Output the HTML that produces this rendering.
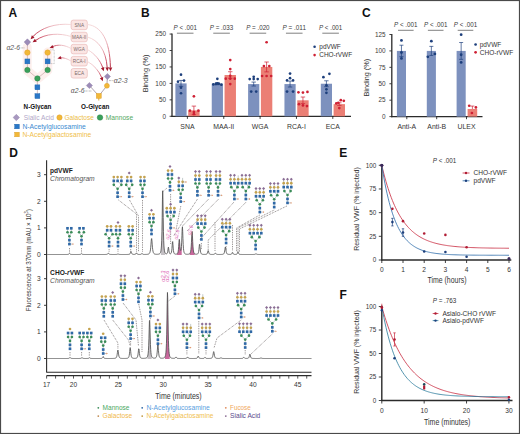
<!DOCTYPE html>
<html><head><meta charset="utf-8"><style>
html,body{margin:0;padding:0;background:#fff;overflow:hidden;}
svg{display:block;font-family:"Liberation Sans", sans-serif;}
</style></head><body>
<svg width="520" height="434" viewBox="0 0 520 434">
<rect x="0.00" y="0.00" width="520.00" height="434.00" fill="#ffffff"/>
<text x="8.60" y="17.00" font-size="12" fill="#111" text-anchor="start" font-weight="bold">A</text>
<path d="M27.2 47 L27.2 70.5 L37.4 79 L47.8 70.5 L47.8 52" stroke="#fdefed" stroke-width="9" fill="none" stroke-linejoin="round" stroke-linecap="round"/>
<line x1="27.40" y1="42.10" x2="27.40" y2="70.00" stroke="#c8a8a8" stroke-width="0.7"/>
<line x1="47.60" y1="52.60" x2="47.60" y2="70.00" stroke="#c8a8a8" stroke-width="0.7"/>
<line x1="27.40" y1="70.00" x2="37.40" y2="78.40" stroke="#c8a8a8" stroke-width="0.7"/>
<line x1="47.60" y1="70.00" x2="37.40" y2="78.40" stroke="#c8a8a8" stroke-width="0.7"/>
<line x1="37.40" y1="78.40" x2="37.40" y2="96.10" stroke="#c8a8a8" stroke-width="0.7"/>
<path d="M27.40 38.80L30.70 42.10L27.40 45.40L24.10 42.10Z" stroke="#8a7aa0" stroke-width="0.4" fill="#9c8cb8" />
<circle cx="27.40" cy="52.60" r="2.75" fill="#f2b838" stroke="#d89a28" stroke-width="0.4"/>
<circle cx="47.60" cy="52.60" r="2.75" fill="#f2b838" stroke="#d89a28" stroke-width="0.4"/>
<rect x="24.95" y="58.95" width="4.90" height="4.90" fill="#2a78c8" stroke="#1a60a8" stroke-width="0.4"/>
<rect x="45.15" y="58.95" width="4.90" height="4.90" fill="#2a78c8" stroke="#1a60a8" stroke-width="0.4"/>
<circle cx="27.40" cy="70.00" r="2.75" fill="#3aa05a" stroke="#2a8048" stroke-width="0.4"/>
<circle cx="47.60" cy="70.00" r="2.75" fill="#3aa05a" stroke="#2a8048" stroke-width="0.4"/>
<circle cx="37.40" cy="78.40" r="2.75" fill="#3aa05a" stroke="#2a8048" stroke-width="0.4"/>
<rect x="34.95" y="84.85" width="4.90" height="4.90" fill="#2a78c8" stroke="#1a60a8" stroke-width="0.4"/>
<rect x="34.95" y="93.65" width="4.90" height="4.90" fill="#2a78c8" stroke="#1a60a8" stroke-width="0.4"/>
<line x1="20.80" y1="47.90" x2="24.30" y2="47.90" stroke="#555" stroke-width="0.55" stroke-dasharray="0.7 0.7"/>
<text x="6.50" y="50.20" font-size="6.6" fill="#555" text-anchor="start" font-style="italic" textLength="13.6" lengthAdjust="spacingAndGlyphs">α2-6</text>
<path d="M50.6 49.8 L54.2 49.8 L54.2 63.6 L50.6 63.6" stroke="#777" stroke-width="0.5" fill="none" stroke-dasharray="0.7 0.7" />
<rect x="71.10" y="20.10" width="16.20" height="9.60" fill="#fbe6e4" stroke="#e6b0ae" stroke-width="0.6" rx="2.2"/>
<text x="79.20" y="26.60" font-size="4.7" fill="#7a6a6a" text-anchor="middle">SNA</text>
<rect x="71.10" y="32.20" width="16.20" height="9.60" fill="#fbe6e4" stroke="#e6b0ae" stroke-width="0.6" rx="2.2"/>
<text x="79.20" y="38.70" font-size="4.7" fill="#7a6a6a" text-anchor="middle">MAA-II</text>
<rect x="71.10" y="44.30" width="16.20" height="9.60" fill="#fbe6e4" stroke="#e6b0ae" stroke-width="0.6" rx="2.2"/>
<text x="79.20" y="50.80" font-size="4.7" fill="#7a6a6a" text-anchor="middle">WGA</text>
<rect x="71.10" y="56.40" width="16.20" height="9.60" fill="#fbe6e4" stroke="#e6b0ae" stroke-width="0.6" rx="2.2"/>
<text x="79.20" y="62.90" font-size="4.7" fill="#7a6a6a" text-anchor="middle">RCA-I</text>
<rect x="71.10" y="68.50" width="16.20" height="9.60" fill="#fbe6e4" stroke="#e6b0ae" stroke-width="0.6" rx="2.2"/>
<text x="79.20" y="75.00" font-size="4.7" fill="#7a6a6a" text-anchor="middle">ECA</text>
<linearGradient id="ga1" gradientUnits="userSpaceOnUse" x1="71" y1="24.5" x2="30.6" y2="39.3"><stop offset="0" stop-color="#f6dcdc"/><stop offset="0.45" stop-color="#eab2ba"/><stop offset="0.8" stop-color="#c84058"/><stop offset="1" stop-color="#a3182c"/></linearGradient>
<path d="M71 24.5 C55 23 41 28 33 36.5" stroke="url(#ga1)" stroke-width="0.95" fill="none" />
<path d="M30.60 39.30L31.88 35.29L34.51 37.75Z" stroke="none" stroke-width="1" fill="#a3182c" />
<linearGradient id="ga2" gradientUnits="userSpaceOnUse" x1="71" y1="36.5" x2="32.6" y2="42.3"><stop offset="0" stop-color="#f6dcdc"/><stop offset="0.45" stop-color="#eab2ba"/><stop offset="0.8" stop-color="#c84058"/><stop offset="1" stop-color="#a3182c"/></linearGradient>
<path d="M71 36.5 C60 33 46 33 35.5 40.5" stroke="url(#ga2)" stroke-width="0.95" fill="none" />
<path d="M32.60 42.30L34.87 38.76L36.78 41.81Z" stroke="none" stroke-width="1" fill="#a3182c" />
<linearGradient id="ga3" gradientUnits="userSpaceOnUse" x1="71" y1="48.5" x2="49.6" y2="48.0"><stop offset="0" stop-color="#f6dcdc"/><stop offset="0.45" stop-color="#eab2ba"/><stop offset="0.8" stop-color="#c84058"/><stop offset="1" stop-color="#a3182c"/></linearGradient>
<path d="M71 48.5 C65 45 58 44 52.3 46.8" stroke="url(#ga3)" stroke-width="0.95" fill="none" />
<path d="M49.60 48.00L52.45 44.91L53.80 48.25Z" stroke="none" stroke-width="1" fill="#a3182c" />
<linearGradient id="ga4" gradientUnits="userSpaceOnUse" x1="71" y1="61" x2="57.4" y2="58.6"><stop offset="0" stop-color="#f6dcdc"/><stop offset="0.45" stop-color="#eab2ba"/><stop offset="0.8" stop-color="#c84058"/><stop offset="1" stop-color="#a3182c"/></linearGradient>
<path d="M71 61 C67 58.5 63 57.5 60.5 57.8" stroke="url(#ga4)" stroke-width="0.95" fill="none" />
<path d="M57.40 58.60L60.60 55.88L61.54 59.36Z" stroke="none" stroke-width="1" fill="#a3182c" />
<linearGradient id="ga5" gradientUnits="userSpaceOnUse" x1="87.5" y1="24.5" x2="110.5" y2="71.2"><stop offset="0" stop-color="#f6dcdc"/><stop offset="0.45" stop-color="#eab2ba"/><stop offset="0.8" stop-color="#c84058"/><stop offset="1" stop-color="#a3182c"/></linearGradient>
<path d="M87.5 24.5 C101 26 110 40 110.4 67.5" stroke="url(#ga5)" stroke-width="0.95" fill="none" />
<path d="M110.50 71.20L108.70 67.40L112.30 67.40Z" stroke="none" stroke-width="1" fill="#a3182c" />
<linearGradient id="ga6" gradientUnits="userSpaceOnUse" x1="87.5" y1="37" x2="107.4" y2="71.2"><stop offset="0" stop-color="#f6dcdc"/><stop offset="0.45" stop-color="#eab2ba"/><stop offset="0.8" stop-color="#c84058"/><stop offset="1" stop-color="#a3182c"/></linearGradient>
<path d="M87.5 37 C98 40 106 50 107.2 67.5" stroke="url(#ga6)" stroke-width="0.95" fill="none" />
<path d="M107.40 71.20L105.40 67.50L109.00 67.31Z" stroke="none" stroke-width="1" fill="#a3182c" />
<linearGradient id="ga7" gradientUnits="userSpaceOnUse" x1="87.5" y1="49.5" x2="103.8" y2="71.2"><stop offset="0" stop-color="#f6dcdc"/><stop offset="0.45" stop-color="#eab2ba"/><stop offset="0.8" stop-color="#c84058"/><stop offset="1" stop-color="#a3182c"/></linearGradient>
<path d="M87.5 49.5 C95 54 100 60 102.8 67.8" stroke="url(#ga7)" stroke-width="0.95" fill="none" />
<path d="M103.80 71.20L100.91 68.14L104.34 67.03Z" stroke="none" stroke-width="1" fill="#a3182c" />
<linearGradient id="ga8" gradientUnits="userSpaceOnUse" x1="87.5" y1="61.5" x2="102.8" y2="81.2"><stop offset="0" stop-color="#f6dcdc"/><stop offset="0.45" stop-color="#eab2ba"/><stop offset="0.8" stop-color="#c84058"/><stop offset="1" stop-color="#a3182c"/></linearGradient>
<path d="M87.5 61.5 C94 65 99 71 101.8 77.8" stroke="url(#ga8)" stroke-width="0.95" fill="none" />
<path d="M102.80 81.20L99.81 78.24L103.19 77.01Z" stroke="none" stroke-width="1" fill="#a3182c" />
<line x1="107.40" y1="76.50" x2="106.90" y2="85.80" stroke="#8a7a8a" stroke-width="0.7"/>
<line x1="106.90" y1="85.80" x2="98.80" y2="95.90" stroke="#8a7a8a" stroke-width="0.7"/>
<line x1="89.40" y1="85.50" x2="98.80" y2="95.90" stroke="#8a7a8a" stroke-width="0.7"/>
<line x1="98.80" y1="95.90" x2="98.80" y2="100.50" stroke="#d8a020" stroke-width="0.9"/>
<path d="M107.40 73.40L110.50 76.50L107.40 79.60L104.30 76.50Z" stroke="#8a7aa0" stroke-width="0.4" fill="#9c8cb8" />
<circle cx="106.90" cy="85.80" r="2.5" fill="#f2b838" stroke="#d89a28" stroke-width="0.4"/>
<path d="M89.40 82.40L92.50 85.50L89.40 88.60L86.30 85.50Z" stroke="#8a7aa0" stroke-width="0.4" fill="#9c8cb8" />
<rect x="96.30" y="93.40" width="5.00" height="5.00" fill="#f2b838" stroke="#d89a28" stroke-width="0.4"/>
<line x1="109.00" y1="80.60" x2="113.50" y2="80.60" stroke="#555" stroke-width="0.55" stroke-dasharray="0.7 0.7"/>
<line x1="84.80" y1="91.00" x2="92.00" y2="91.00" stroke="#555" stroke-width="0.55" stroke-dasharray="0.7 0.7"/>
<text x="113.80" y="83.00" font-size="6.6" fill="#555" text-anchor="start" font-style="italic" textLength="13.8" lengthAdjust="spacingAndGlyphs">α2-3</text>
<text x="70.80" y="93.40" font-size="6.6" fill="#555" text-anchor="start" font-style="italic" textLength="13.7" lengthAdjust="spacingAndGlyphs">α2-6</text>
<text x="23.60" y="109.00" font-size="7.4" fill="#111" text-anchor="start" font-weight="bold" textLength="27.8" lengthAdjust="spacingAndGlyphs">N-Glycan</text>
<text x="81.10" y="109.00" font-size="7.4" fill="#111" text-anchor="start" font-weight="bold" textLength="28.2" lengthAdjust="spacingAndGlyphs">O-Glycan</text>
<path d="M16.30 114.30L19.50 117.50L16.30 120.70L13.10 117.50Z" stroke="#9080a8" stroke-width="0.4" fill="#a898c0" />
<text x="23.80" y="119.60" font-size="6.7" fill="#b2a8c8" text-anchor="start" textLength="30" lengthAdjust="spacingAndGlyphs">Sialic Acid</text>
<circle cx="59.50" cy="117.50" r="2.7" fill="#f2b838" stroke="#d89a28" stroke-width="0.4"/>
<text x="64.50" y="119.60" font-size="6.7" fill="#ecbc48" text-anchor="start" textLength="29.3" lengthAdjust="spacingAndGlyphs">Galactose</text>
<circle cx="100.00" cy="117.50" r="2.8" fill="#3aa05a" stroke="#2a8048" stroke-width="0.4"/>
<text x="105.80" y="119.60" font-size="6.7" fill="#52a862" text-anchor="start" textLength="27.3" lengthAdjust="spacingAndGlyphs">Mannose</text>
<rect x="14.70" y="124.20" width="4.60" height="4.60" fill="#2a78c8" stroke="#1a60a8" stroke-width="0.4"/>
<text x="22.50" y="128.80" font-size="6.7" fill="#3a8ad0" text-anchor="start" textLength="63.3" lengthAdjust="spacingAndGlyphs">N-Acetylglucosamine</text>
<rect x="14.70" y="132.20" width="4.60" height="4.60" fill="#f2b838" stroke="#d89a28" stroke-width="0.4"/>
<text x="22.50" y="136.80" font-size="6.7" fill="#f0c04a" text-anchor="start" textLength="68.8" lengthAdjust="spacingAndGlyphs">N-Acetylgalactosamine</text>
<text x="140.90" y="17.00" font-size="12" fill="#111" text-anchor="start" font-weight="bold">B</text>
<line x1="172.00" y1="33.45" x2="172.00" y2="116.90" stroke="#2b2b2b" stroke-width="1.3"/>
<line x1="169.60" y1="116.30" x2="172.00" y2="116.30" stroke="#2b2b2b" stroke-width="0.9"/>
<text x="166.00" y="118.50" font-size="6.4" fill="#3a3a3a" text-anchor="end">0</text>
<line x1="169.60" y1="99.85" x2="172.00" y2="99.85" stroke="#2b2b2b" stroke-width="0.9"/>
<text x="166.00" y="102.05" font-size="6.4" fill="#3a3a3a" text-anchor="end">50</text>
<line x1="169.60" y1="83.40" x2="172.00" y2="83.40" stroke="#2b2b2b" stroke-width="0.9"/>
<text x="166.00" y="85.60" font-size="6.4" fill="#3a3a3a" text-anchor="end">100</text>
<line x1="169.60" y1="66.95" x2="172.00" y2="66.95" stroke="#2b2b2b" stroke-width="0.9"/>
<text x="166.00" y="69.15" font-size="6.4" fill="#3a3a3a" text-anchor="end">150</text>
<line x1="169.60" y1="50.50" x2="172.00" y2="50.50" stroke="#2b2b2b" stroke-width="0.9"/>
<text x="166.00" y="52.70" font-size="6.4" fill="#3a3a3a" text-anchor="end">200</text>
<line x1="169.60" y1="34.05" x2="172.00" y2="34.05" stroke="#2b2b2b" stroke-width="0.9"/>
<text x="166.00" y="36.25" font-size="6.4" fill="#3a3a3a" text-anchor="end">250</text>
<text x="148.30" y="73.50" font-size="7.2" fill="#333" text-anchor="middle" textLength="37.7" lengthAdjust="spacingAndGlyphs" transform="rotate(-90 148.30 73.50)">Binding (%)</text>
<line x1="171.40" y1="116.30" x2="351.00" y2="116.30" stroke="#2b2b2b" stroke-width="1.3"/>
<rect x="175.40" y="83.40" width="11.20" height="32.90" fill="#7d91be"/>
<rect x="188.20" y="110.38" width="11.40" height="5.92" fill="#eb7f75"/>
<line x1="181.00" y1="80.44" x2="181.00" y2="86.36" stroke="#1d3f7c" stroke-width="0.7"/>
<line x1="178.80" y1="80.44" x2="183.20" y2="80.44" stroke="#1d3f7c" stroke-width="0.7"/>
<line x1="178.80" y1="86.36" x2="183.20" y2="86.36" stroke="#1d3f7c" stroke-width="0.7"/>
<line x1="193.90" y1="106.10" x2="193.90" y2="114.66" stroke="#cf2034" stroke-width="0.7"/>
<line x1="191.70" y1="106.10" x2="196.10" y2="106.10" stroke="#cf2034" stroke-width="0.7"/>
<line x1="191.70" y1="114.66" x2="196.10" y2="114.66" stroke="#cf2034" stroke-width="0.7"/>
<circle cx="181.00" cy="74.71" r="1.35" fill="#1d3f7c"/>
<circle cx="178.00" cy="81.69" r="1.35" fill="#1d3f7c"/>
<circle cx="184.00" cy="80.60" r="1.35" fill="#1d3f7c"/>
<circle cx="181.00" cy="87.68" r="1.35" fill="#1d3f7c"/>
<circle cx="181.00" cy="93.27" r="1.35" fill="#1d3f7c"/>
<circle cx="193.90" cy="96.30" r="1.35" fill="#cf2034"/>
<circle cx="189.90" cy="110.71" r="1.35" fill="#cf2034"/>
<circle cx="193.90" cy="112.09" r="1.35" fill="#cf2034"/>
<circle cx="198.40" cy="110.71" r="1.35" fill="#cf2034"/>
<circle cx="193.90" cy="114.10" r="1.35" fill="#cf2034"/>
<line x1="187.40" y1="116.30" x2="187.40" y2="118.90" stroke="#2b2b2b" stroke-width="0.9"/>
<text x="187.40" y="128.80" font-size="6.9" fill="#333" text-anchor="middle">SNA</text>
<line x1="176.90" y1="33.20" x2="193.50" y2="33.20" stroke="#555" stroke-width="0.75"/>
<text x="185.20" y="29.6" font-size="6.4" fill="#3a3a3a" text-anchor="middle" textLength="23.4" lengthAdjust="spacingAndGlyphs"><tspan font-style="italic">P</tspan> &lt; .001</text>
<rect x="211.75" y="83.73" width="11.20" height="32.57" fill="#7d91be"/>
<rect x="224.55" y="75.01" width="11.40" height="41.29" fill="#eb7f75"/>
<line x1="217.35" y1="82.74" x2="217.35" y2="84.72" stroke="#1d3f7c" stroke-width="0.7"/>
<line x1="215.15" y1="82.74" x2="219.55" y2="82.74" stroke="#1d3f7c" stroke-width="0.7"/>
<line x1="215.15" y1="84.72" x2="219.55" y2="84.72" stroke="#1d3f7c" stroke-width="0.7"/>
<line x1="230.25" y1="71.72" x2="230.25" y2="78.30" stroke="#cf2034" stroke-width="0.7"/>
<line x1="228.05" y1="71.72" x2="232.45" y2="71.72" stroke="#cf2034" stroke-width="0.7"/>
<line x1="228.05" y1="78.30" x2="232.45" y2="78.30" stroke="#cf2034" stroke-width="0.7"/>
<circle cx="217.35" cy="78.79" r="1.35" fill="#1d3f7c"/>
<circle cx="213.35" cy="84.39" r="1.35" fill="#1d3f7c"/>
<circle cx="215.85" cy="83.89" r="1.35" fill="#1d3f7c"/>
<circle cx="218.85" cy="83.73" r="1.35" fill="#1d3f7c"/>
<circle cx="221.35" cy="84.72" r="1.35" fill="#1d3f7c"/>
<circle cx="217.35" cy="83.40" r="1.35" fill="#1d3f7c"/>
<circle cx="230.25" cy="60.04" r="1.35" fill="#cf2034"/>
<circle cx="230.25" cy="69.09" r="1.35" fill="#cf2034"/>
<circle cx="230.25" cy="75.83" r="1.35" fill="#cf2034"/>
<circle cx="225.75" cy="78.70" r="1.35" fill="#cf2034"/>
<circle cx="230.25" cy="78.70" r="1.35" fill="#cf2034"/>
<circle cx="234.75" cy="78.70" r="1.35" fill="#cf2034"/>
<circle cx="230.25" cy="84.06" r="1.35" fill="#cf2034"/>
<line x1="223.75" y1="116.30" x2="223.75" y2="118.90" stroke="#2b2b2b" stroke-width="0.9"/>
<text x="223.75" y="128.80" font-size="6.9" fill="#333" text-anchor="middle">MAA-II</text>
<line x1="213.25" y1="33.20" x2="229.85" y2="33.20" stroke="#555" stroke-width="0.75"/>
<text x="221.55" y="29.6" font-size="6.4" fill="#3a3a3a" text-anchor="middle" textLength="23.4" lengthAdjust="spacingAndGlyphs"><tspan font-style="italic">P</tspan> = .033</text>
<rect x="248.10" y="84.06" width="11.20" height="32.24" fill="#7d91be"/>
<rect x="260.90" y="66.95" width="11.40" height="49.35" fill="#eb7f75"/>
<line x1="253.70" y1="82.08" x2="253.70" y2="86.03" stroke="#1d3f7c" stroke-width="0.7"/>
<line x1="251.50" y1="82.08" x2="255.90" y2="82.08" stroke="#1d3f7c" stroke-width="0.7"/>
<line x1="251.50" y1="86.03" x2="255.90" y2="86.03" stroke="#1d3f7c" stroke-width="0.7"/>
<line x1="266.60" y1="62.01" x2="266.60" y2="71.88" stroke="#cf2034" stroke-width="0.7"/>
<line x1="264.40" y1="62.01" x2="268.80" y2="62.01" stroke="#cf2034" stroke-width="0.7"/>
<line x1="264.40" y1="71.88" x2="268.80" y2="71.88" stroke="#cf2034" stroke-width="0.7"/>
<circle cx="253.70" cy="76.82" r="1.35" fill="#1d3f7c"/>
<circle cx="249.70" cy="79.12" r="1.35" fill="#1d3f7c"/>
<circle cx="253.70" cy="79.12" r="1.35" fill="#1d3f7c"/>
<circle cx="257.70" cy="79.12" r="1.35" fill="#1d3f7c"/>
<circle cx="251.20" cy="91.62" r="1.35" fill="#1d3f7c"/>
<circle cx="256.20" cy="91.62" r="1.35" fill="#1d3f7c"/>
<circle cx="266.60" cy="42.27" r="1.35" fill="#cf2034"/>
<circle cx="263.90" cy="66.09" r="1.35" fill="#cf2034"/>
<circle cx="269.30" cy="66.09" r="1.35" fill="#cf2034"/>
<circle cx="262.10" cy="76.00" r="1.35" fill="#cf2034"/>
<circle cx="266.60" cy="76.00" r="1.35" fill="#cf2034"/>
<circle cx="271.10" cy="76.00" r="1.35" fill="#cf2034"/>
<line x1="260.10" y1="116.30" x2="260.10" y2="118.90" stroke="#2b2b2b" stroke-width="0.9"/>
<text x="260.10" y="128.80" font-size="6.9" fill="#333" text-anchor="middle">WGA</text>
<line x1="249.60" y1="33.20" x2="266.20" y2="33.20" stroke="#555" stroke-width="0.75"/>
<text x="257.90" y="29.6" font-size="6.4" fill="#3a3a3a" text-anchor="middle" textLength="23.4" lengthAdjust="spacingAndGlyphs"><tspan font-style="italic">P</tspan> = .020</text>
<rect x="284.45" y="84.06" width="11.20" height="32.24" fill="#7d91be"/>
<rect x="297.25" y="100.31" width="11.40" height="15.99" fill="#eb7f75"/>
<line x1="290.05" y1="81.10" x2="290.05" y2="87.02" stroke="#1d3f7c" stroke-width="0.7"/>
<line x1="287.85" y1="81.10" x2="292.25" y2="81.10" stroke="#1d3f7c" stroke-width="0.7"/>
<line x1="287.85" y1="87.02" x2="292.25" y2="87.02" stroke="#1d3f7c" stroke-width="0.7"/>
<line x1="302.95" y1="97.02" x2="302.95" y2="103.60" stroke="#cf2034" stroke-width="0.7"/>
<line x1="300.75" y1="97.02" x2="305.15" y2="97.02" stroke="#cf2034" stroke-width="0.7"/>
<line x1="300.75" y1="103.60" x2="305.15" y2="103.60" stroke="#cf2034" stroke-width="0.7"/>
<circle cx="290.05" cy="73.53" r="1.35" fill="#1d3f7c"/>
<circle cx="290.05" cy="78.14" r="1.35" fill="#1d3f7c"/>
<circle cx="287.05" cy="80.44" r="1.35" fill="#1d3f7c"/>
<circle cx="293.05" cy="80.44" r="1.35" fill="#1d3f7c"/>
<circle cx="287.05" cy="91.62" r="1.35" fill="#1d3f7c"/>
<circle cx="293.05" cy="91.62" r="1.35" fill="#1d3f7c"/>
<circle cx="298.45" cy="92.28" r="1.35" fill="#cf2034"/>
<circle cx="302.95" cy="92.61" r="1.35" fill="#cf2034"/>
<circle cx="307.45" cy="91.95" r="1.35" fill="#cf2034"/>
<circle cx="298.95" cy="104.13" r="1.35" fill="#cf2034"/>
<circle cx="302.95" cy="105.44" r="1.35" fill="#cf2034"/>
<circle cx="306.95" cy="106.10" r="1.35" fill="#cf2034"/>
<line x1="296.45" y1="116.30" x2="296.45" y2="118.90" stroke="#2b2b2b" stroke-width="0.9"/>
<text x="296.45" y="128.80" font-size="6.9" fill="#333" text-anchor="middle">RCA-I</text>
<line x1="285.95" y1="33.20" x2="302.55" y2="33.20" stroke="#555" stroke-width="0.75"/>
<text x="294.25" y="29.6" font-size="6.4" fill="#3a3a3a" text-anchor="middle" textLength="23.4" lengthAdjust="spacingAndGlyphs"><tspan font-style="italic">P</tspan> = .011</text>
<rect x="320.80" y="83.73" width="11.20" height="32.57" fill="#7d91be"/>
<rect x="333.60" y="104.13" width="11.40" height="12.17" fill="#eb7f75"/>
<line x1="326.40" y1="80.77" x2="326.40" y2="86.69" stroke="#1d3f7c" stroke-width="0.7"/>
<line x1="324.20" y1="80.77" x2="328.60" y2="80.77" stroke="#1d3f7c" stroke-width="0.7"/>
<line x1="324.20" y1="86.69" x2="328.60" y2="86.69" stroke="#1d3f7c" stroke-width="0.7"/>
<line x1="339.30" y1="102.81" x2="339.30" y2="105.44" stroke="#cf2034" stroke-width="0.7"/>
<line x1="337.10" y1="102.81" x2="341.50" y2="102.81" stroke="#cf2034" stroke-width="0.7"/>
<line x1="337.10" y1="105.44" x2="341.50" y2="105.44" stroke="#cf2034" stroke-width="0.7"/>
<circle cx="323.40" cy="77.15" r="1.35" fill="#1d3f7c"/>
<circle cx="329.40" cy="73.86" r="1.35" fill="#1d3f7c"/>
<circle cx="326.40" cy="85.37" r="1.35" fill="#1d3f7c"/>
<circle cx="326.40" cy="89.32" r="1.35" fill="#1d3f7c"/>
<circle cx="326.40" cy="92.78" r="1.35" fill="#1d3f7c"/>
<circle cx="340.80" cy="100.18" r="1.35" fill="#cf2034"/>
<circle cx="343.80" cy="100.84" r="1.35" fill="#cf2034"/>
<circle cx="338.30" cy="102.81" r="1.35" fill="#cf2034"/>
<circle cx="336.30" cy="103.47" r="1.35" fill="#cf2034"/>
<circle cx="339.30" cy="108.08" r="1.35" fill="#cf2034"/>
<line x1="332.80" y1="116.30" x2="332.80" y2="118.90" stroke="#2b2b2b" stroke-width="0.9"/>
<text x="332.80" y="128.80" font-size="6.9" fill="#333" text-anchor="middle">ECA</text>
<line x1="322.30" y1="33.20" x2="338.90" y2="33.20" stroke="#555" stroke-width="0.75"/>
<text x="330.60" y="29.6" font-size="6.4" fill="#3a3a3a" text-anchor="middle" textLength="23.4" lengthAdjust="spacingAndGlyphs"><tspan font-style="italic">P</tspan> &lt; .001</text>
<circle cx="314.60" cy="46.80" r="1.3" fill="#1d3f7c"/>
<text x="319.30" y="49.10" font-size="6.6" fill="#333" text-anchor="start" textLength="21.5" lengthAdjust="spacingAndGlyphs">pdVWF</text>
<circle cx="314.60" cy="55.10" r="1.3" fill="#cf2034"/>
<text x="319.30" y="57.40" font-size="6.6" fill="#333" text-anchor="start" textLength="32.8" lengthAdjust="spacingAndGlyphs">CHO-rVWF</text>
<text x="361.90" y="17.00" font-size="12" fill="#111" text-anchor="start" font-weight="bold">C</text>
<line x1="391.80" y1="33.90" x2="391.80" y2="117.20" stroke="#2b2b2b" stroke-width="1.3"/>
<line x1="389.40" y1="116.60" x2="391.80" y2="116.60" stroke="#2b2b2b" stroke-width="0.9"/>
<text x="385.60" y="118.80" font-size="6.4" fill="#3a3a3a" text-anchor="end">0</text>
<line x1="389.40" y1="100.18" x2="391.80" y2="100.18" stroke="#2b2b2b" stroke-width="0.9"/>
<text x="385.60" y="102.38" font-size="6.4" fill="#3a3a3a" text-anchor="end">25</text>
<line x1="389.40" y1="83.76" x2="391.80" y2="83.76" stroke="#2b2b2b" stroke-width="0.9"/>
<text x="385.60" y="85.96" font-size="6.4" fill="#3a3a3a" text-anchor="end">50</text>
<line x1="389.40" y1="67.34" x2="391.80" y2="67.34" stroke="#2b2b2b" stroke-width="0.9"/>
<text x="385.60" y="69.54" font-size="6.4" fill="#3a3a3a" text-anchor="end">75</text>
<line x1="389.40" y1="50.92" x2="391.80" y2="50.92" stroke="#2b2b2b" stroke-width="0.9"/>
<text x="385.60" y="53.12" font-size="6.4" fill="#3a3a3a" text-anchor="end">100</text>
<line x1="389.40" y1="34.50" x2="391.80" y2="34.50" stroke="#2b2b2b" stroke-width="0.9"/>
<text x="385.60" y="36.70" font-size="6.4" fill="#3a3a3a" text-anchor="end">125</text>
<text x="369.30" y="77.70" font-size="7.2" fill="#333" text-anchor="middle" textLength="37.7" lengthAdjust="spacingAndGlyphs" transform="rotate(-90 369.30 77.70)">Binding (%)</text>
<line x1="391.20" y1="116.60" x2="482.50" y2="116.60" stroke="#2b2b2b" stroke-width="1.3"/>
<rect x="396.90" y="50.92" width="9.10" height="65.68" fill="#7d91be"/>
<line x1="401.45" y1="45.21" x2="401.45" y2="56.63" stroke="#1d3f7c" stroke-width="0.7"/>
<line x1="399.45" y1="45.21" x2="403.45" y2="45.21" stroke="#1d3f7c" stroke-width="0.7"/>
<line x1="399.45" y1="56.63" x2="403.45" y2="56.63" stroke="#1d3f7c" stroke-width="0.7"/>
<circle cx="401.45" cy="40.41" r="1.4" fill="#1d3f7c"/>
<circle cx="401.45" cy="52.50" r="1.4" fill="#1d3f7c"/>
<circle cx="401.45" cy="58.47" r="1.4" fill="#1d3f7c"/>
<line x1="406.80" y1="116.60" x2="406.80" y2="119.20" stroke="#2b2b2b" stroke-width="0.9"/>
<text x="406.80" y="129.10" font-size="6.9" fill="#333" text-anchor="middle">Anti-A</text>
<line x1="398.00" y1="30.30" x2="413.60" y2="30.30" stroke="#555" stroke-width="0.75"/>
<text x="405.80" y="27.1" font-size="6.8" fill="#3a3a3a" text-anchor="middle" textLength="23.4" lengthAdjust="spacingAndGlyphs"><tspan font-style="italic">P</tspan> &lt; .001</text>
<rect x="426.80" y="50.92" width="9.10" height="65.68" fill="#7d91be"/>
<line x1="431.35" y1="46.39" x2="431.35" y2="55.45" stroke="#1d3f7c" stroke-width="0.7"/>
<line x1="429.35" y1="46.39" x2="433.35" y2="46.39" stroke="#1d3f7c" stroke-width="0.7"/>
<line x1="429.35" y1="55.45" x2="433.35" y2="55.45" stroke="#1d3f7c" stroke-width="0.7"/>
<circle cx="431.35" cy="41.20" r="1.4" fill="#1d3f7c"/>
<circle cx="427.85" cy="56.83" r="1.4" fill="#1d3f7c"/>
<circle cx="434.85" cy="53.88" r="1.4" fill="#1d3f7c"/>
<line x1="436.70" y1="116.60" x2="436.70" y2="119.20" stroke="#2b2b2b" stroke-width="0.9"/>
<text x="436.70" y="129.10" font-size="6.9" fill="#333" text-anchor="middle">Anti-B</text>
<line x1="427.90" y1="30.30" x2="443.50" y2="30.30" stroke="#555" stroke-width="0.75"/>
<text x="435.70" y="27.1" font-size="6.8" fill="#3a3a3a" text-anchor="middle" textLength="23.4" lengthAdjust="spacingAndGlyphs"><tspan font-style="italic">P</tspan> &lt; .001</text>
<rect x="456.60" y="50.92" width="9.10" height="65.68" fill="#7d91be"/>
<line x1="461.15" y1="42.51" x2="461.15" y2="59.33" stroke="#1d3f7c" stroke-width="0.7"/>
<line x1="459.15" y1="42.51" x2="463.15" y2="42.51" stroke="#1d3f7c" stroke-width="0.7"/>
<line x1="459.15" y1="59.33" x2="463.15" y2="59.33" stroke="#1d3f7c" stroke-width="0.7"/>
<circle cx="461.15" cy="34.70" r="1.4" fill="#1d3f7c"/>
<circle cx="461.15" cy="54.73" r="1.4" fill="#1d3f7c"/>
<circle cx="461.15" cy="62.41" r="1.4" fill="#1d3f7c"/>
<line x1="466.50" y1="116.60" x2="466.50" y2="119.20" stroke="#2b2b2b" stroke-width="0.9"/>
<text x="466.50" y="129.10" font-size="6.9" fill="#333" text-anchor="middle">ULEX</text>
<line x1="457.70" y1="30.30" x2="473.30" y2="30.30" stroke="#555" stroke-width="0.75"/>
<text x="465.50" y="27.1" font-size="6.8" fill="#3a3a3a" text-anchor="middle" textLength="23.4" lengthAdjust="spacingAndGlyphs"><tspan font-style="italic">P</tspan> &lt; .001</text>
<rect x="467.60" y="108.98" width="9.60" height="7.62" fill="#eb7f75"/>
<line x1="472.40" y1="106.09" x2="472.40" y2="108.98" stroke="#cf2034" stroke-width="0.7"/>
<line x1="470.40" y1="106.09" x2="474.40" y2="106.09" stroke="#cf2034" stroke-width="0.7"/>
<circle cx="469.20" cy="105.76" r="1.35" fill="#cf2034"/>
<circle cx="475.90" cy="107.40" r="1.35" fill="#cf2034"/>
<circle cx="471.90" cy="112.99" r="1.35" fill="#cf2034"/>
<circle cx="475.60" cy="44.50" r="1.35" fill="#1d3f7c"/>
<text x="479.70" y="46.80" font-size="6.6" fill="#333" text-anchor="start" textLength="21.5" lengthAdjust="spacingAndGlyphs">pdVWF</text>
<circle cx="475.60" cy="52.30" r="1.35" fill="#cf2034"/>
<text x="479.70" y="54.60" font-size="6.6" fill="#333" text-anchor="start" textLength="33.5" lengthAdjust="spacingAndGlyphs">CHO-rVWF</text>
<text x="9.20" y="157.00" font-size="12" fill="#111" text-anchor="start" font-weight="bold">D</text>
<line x1="46.60" y1="160.30" x2="46.60" y2="372.60" stroke="#2b2b2b" stroke-width="1.1"/>
<line x1="46.60" y1="372.20" x2="311.50" y2="372.20" stroke="#2b2b2b" stroke-width="1.1"/>
<line x1="46.60" y1="375.60" x2="311.50" y2="375.60" stroke="#2b2b2b" stroke-width="1.1"/>
<line x1="46.60" y1="375.60" x2="46.60" y2="378.60" stroke="#2b2b2b" stroke-width="0.8"/>
<line x1="55.57" y1="375.60" x2="55.57" y2="378.60" stroke="#2b2b2b" stroke-width="0.8"/>
<line x1="64.54" y1="375.60" x2="64.54" y2="378.60" stroke="#2b2b2b" stroke-width="0.8"/>
<line x1="73.51" y1="375.60" x2="73.51" y2="378.60" stroke="#2b2b2b" stroke-width="0.8"/>
<line x1="82.48" y1="375.60" x2="82.48" y2="378.60" stroke="#2b2b2b" stroke-width="0.8"/>
<line x1="91.45" y1="375.60" x2="91.45" y2="378.60" stroke="#2b2b2b" stroke-width="0.8"/>
<line x1="100.42" y1="375.60" x2="100.42" y2="378.60" stroke="#2b2b2b" stroke-width="0.8"/>
<line x1="109.39" y1="375.60" x2="109.39" y2="378.60" stroke="#2b2b2b" stroke-width="0.8"/>
<line x1="118.36" y1="375.60" x2="118.36" y2="378.60" stroke="#2b2b2b" stroke-width="0.8"/>
<line x1="127.33" y1="375.60" x2="127.33" y2="378.60" stroke="#2b2b2b" stroke-width="0.8"/>
<line x1="136.30" y1="375.60" x2="136.30" y2="378.60" stroke="#2b2b2b" stroke-width="0.8"/>
<line x1="145.27" y1="375.60" x2="145.27" y2="378.60" stroke="#2b2b2b" stroke-width="0.8"/>
<line x1="154.24" y1="375.60" x2="154.24" y2="378.60" stroke="#2b2b2b" stroke-width="0.8"/>
<line x1="163.21" y1="375.60" x2="163.21" y2="378.60" stroke="#2b2b2b" stroke-width="0.8"/>
<line x1="172.18" y1="375.60" x2="172.18" y2="378.60" stroke="#2b2b2b" stroke-width="0.8"/>
<line x1="181.15" y1="375.60" x2="181.15" y2="378.60" stroke="#2b2b2b" stroke-width="0.8"/>
<line x1="190.12" y1="375.60" x2="190.12" y2="378.60" stroke="#2b2b2b" stroke-width="0.8"/>
<line x1="199.09" y1="375.60" x2="199.09" y2="378.60" stroke="#2b2b2b" stroke-width="0.8"/>
<line x1="208.06" y1="375.60" x2="208.06" y2="378.60" stroke="#2b2b2b" stroke-width="0.8"/>
<line x1="217.03" y1="375.60" x2="217.03" y2="378.60" stroke="#2b2b2b" stroke-width="0.8"/>
<line x1="226.00" y1="375.60" x2="226.00" y2="378.60" stroke="#2b2b2b" stroke-width="0.8"/>
<line x1="234.97" y1="375.60" x2="234.97" y2="378.60" stroke="#2b2b2b" stroke-width="0.8"/>
<line x1="243.94" y1="375.60" x2="243.94" y2="378.60" stroke="#2b2b2b" stroke-width="0.8"/>
<line x1="252.91" y1="375.60" x2="252.91" y2="378.60" stroke="#2b2b2b" stroke-width="0.8"/>
<line x1="261.88" y1="375.60" x2="261.88" y2="378.60" stroke="#2b2b2b" stroke-width="0.8"/>
<line x1="270.85" y1="375.60" x2="270.85" y2="378.60" stroke="#2b2b2b" stroke-width="0.8"/>
<line x1="279.82" y1="375.60" x2="279.82" y2="378.60" stroke="#2b2b2b" stroke-width="0.8"/>
<line x1="288.79" y1="375.60" x2="288.79" y2="378.60" stroke="#2b2b2b" stroke-width="0.8"/>
<line x1="297.76" y1="375.60" x2="297.76" y2="378.60" stroke="#2b2b2b" stroke-width="0.8"/>
<line x1="306.73" y1="375.60" x2="306.73" y2="378.60" stroke="#2b2b2b" stroke-width="0.8"/>
<text x="46.60" y="387.00" font-size="6.6" fill="#333" text-anchor="middle">17</text>
<text x="73.51" y="387.00" font-size="6.6" fill="#333" text-anchor="middle">20</text>
<text x="118.36" y="387.00" font-size="6.6" fill="#333" text-anchor="middle">25</text>
<text x="163.21" y="387.00" font-size="6.6" fill="#333" text-anchor="middle">30</text>
<text x="208.06" y="387.00" font-size="6.6" fill="#333" text-anchor="middle">35</text>
<text x="252.91" y="387.00" font-size="6.6" fill="#333" text-anchor="middle">40</text>
<text x="297.76" y="387.00" font-size="6.6" fill="#333" text-anchor="middle">45</text>
<text x="178.50" y="399.20" font-size="8.6" fill="#333" text-anchor="middle" textLength="46.3" lengthAdjust="spacingAndGlyphs">Time (minutes)</text>
<line x1="44.00" y1="254.50" x2="46.60" y2="254.50" stroke="#2b2b2b" stroke-width="0.9"/>
<text x="38.80" y="256.90" font-size="6.6" fill="#333" text-anchor="middle">0</text>
<line x1="44.00" y1="358.50" x2="46.60" y2="358.50" stroke="#2b2b2b" stroke-width="0.9"/>
<text x="38.80" y="360.90" font-size="6.6" fill="#333" text-anchor="middle">0</text>
<line x1="44.00" y1="227.90" x2="46.60" y2="227.90" stroke="#2b2b2b" stroke-width="0.9"/>
<text x="38.80" y="230.30" font-size="6.6" fill="#333" text-anchor="middle">1</text>
<line x1="44.00" y1="331.90" x2="46.60" y2="331.90" stroke="#2b2b2b" stroke-width="0.9"/>
<text x="38.80" y="334.30" font-size="6.6" fill="#333" text-anchor="middle">1</text>
<line x1="44.00" y1="201.30" x2="46.60" y2="201.30" stroke="#2b2b2b" stroke-width="0.9"/>
<text x="38.80" y="203.70" font-size="6.6" fill="#333" text-anchor="middle">2</text>
<line x1="44.00" y1="305.30" x2="46.60" y2="305.30" stroke="#2b2b2b" stroke-width="0.9"/>
<text x="38.80" y="307.70" font-size="6.6" fill="#333" text-anchor="middle">2</text>
<line x1="44.00" y1="174.70" x2="46.60" y2="174.70" stroke="#2b2b2b" stroke-width="0.9"/>
<text x="38.80" y="177.10" font-size="6.6" fill="#333" text-anchor="middle">3</text>
<line x1="44.00" y1="278.70" x2="46.60" y2="278.70" stroke="#2b2b2b" stroke-width="0.9"/>
<text x="38.80" y="281.10" font-size="6.6" fill="#333" text-anchor="middle">3</text>
<text x="31.0" y="260.2" font-size="7.6" fill="#333" text-anchor="middle" transform="rotate(-90 31.0 260.2)" textLength="102" lengthAdjust="spacingAndGlyphs">Fluorescence at 370nm (mAU × 10<tspan font-size="4.8" dy="-2.6">3</tspan><tspan dy="2.6">)</tspan></text>
<text x="50.10" y="173.40" font-size="7.2" fill="#1a1a1a" text-anchor="start" font-weight="bold" textLength="22.6" lengthAdjust="spacingAndGlyphs">pdVWF</text>
<text x="50.10" y="181.00" font-size="7.2" fill="#555" text-anchor="start" font-style="italic" textLength="44.6" lengthAdjust="spacingAndGlyphs">Chromatogram</text>
<text x="50.1" y="274.8" font-size="7.2" fill="#1a1a1a" font-weight="bold" textLength="34.3" lengthAdjust="spacingAndGlyphs">CHO-<tspan font-style="italic">r</tspan>VWF</text>
<text x="50.10" y="282.50" font-size="7.2" fill="#555" text-anchor="start" font-style="italic" textLength="44.6" lengthAdjust="spacingAndGlyphs">Chromatogram</text>
<path d="M176.95 254.90L176.95 253.90L177.20 253.73L177.45 253.46L177.70 253.04L177.95 252.36L178.20 251.24L178.45 249.37L178.70 246.39L178.95 242.43L179.20 239.27L179.45 239.58L179.70 242.95L179.95 246.55L180.20 248.98L180.45 250.25L180.70 250.62L180.95 250.23L181.20 248.97L181.45 246.47L181.70 242.13L181.70 254.90Z" stroke="none" stroke-width="1" fill="#c8689c" />
<path d="M189.70 254.90L189.70 253.66L189.95 253.37L190.20 252.95L190.45 252.29L190.70 251.25L190.95 249.56L191.20 246.83L191.45 242.58L191.70 236.94L191.95 232.00L192.20 231.44L192.45 235.78L192.70 241.53L192.95 246.11L193.20 249.11L193.45 250.97L193.70 252.12L193.95 252.84L194.20 253.30L194.45 253.61L194.70 253.81L194.70 254.90Z" stroke="none" stroke-width="1" fill="#c8689c" />
<path d="M160.95 254.90L160.95 250.79L161.20 248.99L161.45 245.97L161.70 240.77L161.95 231.80L162.20 217.43L162.45 199.85L162.70 190.77L162.95 199.85L163.20 217.42L163.45 231.79L163.70 240.76L163.95 245.96L164.20 248.97L164.45 250.77L164.70 251.88L164.95 252.59L165.20 253.06L165.20 254.90Z" stroke="none" stroke-width="1" fill="#c4c0c4" />
<path d="M47.20 254.50L47.45 254.50L47.70 254.50L47.95 254.50L48.20 254.50L48.45 254.50L48.70 254.50L48.95 254.50L49.20 254.50L49.45 254.50L49.70 254.50L49.95 254.50L50.20 254.50L50.45 254.50L50.70 254.50L50.95 254.50L51.20 254.50L51.45 254.50L51.70 254.50L51.95 254.50L52.20 254.50L52.45 254.50L52.70 254.50L52.95 254.50L53.20 254.50L53.45 254.50L53.70 254.50L53.95 254.50L54.20 254.50L54.45 254.50L54.70 254.50L54.95 254.50L55.20 254.50L55.45 254.50L55.70 254.50L55.95 254.50L56.20 254.50L56.45 254.50L56.70 254.50L56.95 254.50L57.20 254.50L57.45 254.50L57.70 254.50L57.95 254.50L58.20 254.50L58.45 254.50L58.70 254.50L58.95 254.50L59.20 254.50L59.45 254.50L59.70 254.50L59.95 254.50L60.20 254.50L60.45 254.50L60.70 254.50L60.95 254.50L61.20 254.50L61.45 254.50L61.70 254.50L61.95 254.50L62.20 254.50L62.45 254.50L62.70 254.50L62.95 254.50L63.20 254.50L63.45 254.50L63.70 254.50L63.95 254.50L64.20 254.50L64.45 254.50L64.70 254.50L64.95 254.50L65.20 254.49L65.45 254.49L65.70 254.49L65.95 254.49L66.20 254.49L66.45 254.49L66.70 254.48L66.95 254.48L67.20 254.47L67.45 254.45L67.70 254.44L67.95 254.41L68.20 254.36L68.45 254.28L68.70 254.14L68.95 253.93L69.20 253.67L69.45 253.51L69.70 253.58L69.95 253.83L70.20 254.07L70.45 254.23L70.70 254.33L70.95 254.39L71.20 254.43L71.45 254.45L71.70 254.46L71.95 254.47L72.20 254.48L72.45 254.48L72.70 254.49L72.95 254.49L73.20 254.49L73.45 254.49L73.70 254.49L73.95 254.49L74.20 254.50L74.45 254.50L74.70 254.50L74.95 254.50L75.20 254.50L75.45 254.50L75.70 254.50L75.95 254.50L76.20 254.50L76.45 254.50L76.70 254.50L76.95 254.50L77.20 254.50L77.45 254.49L77.70 254.49L77.95 254.49L78.20 254.49L78.45 254.49L78.70 254.48L78.95 254.48L79.20 254.47L79.45 254.46L79.70 254.45L79.95 254.42L80.20 254.39L80.45 254.32L80.70 254.21L80.95 254.05L81.20 253.84L81.45 253.70L81.70 253.77L81.95 253.97L82.20 254.16L82.45 254.29L82.70 254.36L82.95 254.41L83.20 254.44L83.45 254.46L83.70 254.47L83.95 254.48L84.20 254.48L84.45 254.49L84.70 254.49L84.95 254.49L85.20 254.49L85.45 254.49L85.70 254.50L85.95 254.50L86.20 254.50L86.45 254.50L86.70 254.50L86.95 254.50L87.20 254.50L87.45 254.50L87.70 254.50L87.95 254.50L88.20 254.50L88.45 254.50L88.70 254.50L88.95 254.50L89.20 254.50L89.45 254.50L89.70 254.50L89.95 254.50L90.20 254.50L90.45 254.50L90.70 254.50L90.95 254.50L91.20 254.50L91.45 254.50L91.70 254.50L91.95 254.50L92.20 254.50L92.45 254.50L92.70 254.50L92.95 254.50L93.20 254.50L93.45 254.50L93.70 254.50L93.95 254.50L94.20 254.50L94.45 254.50L94.70 254.50L94.95 254.50L95.20 254.50L95.45 254.50L95.70 254.50L95.95 254.50L96.20 254.50L96.45 254.50L96.70 254.50L96.95 254.50L97.20 254.50L97.45 254.50L97.70 254.50L97.95 254.50L98.20 254.50L98.45 254.50L98.70 254.50L98.95 254.50L99.20 254.50L99.45 254.50L99.70 254.50L99.95 254.50L100.20 254.50L100.45 254.50L100.70 254.50L100.95 254.50L101.20 254.50L101.45 254.50L101.70 254.50L101.95 254.50L102.20 254.50L102.45 254.50L102.70 254.50L102.95 254.50L103.20 254.50L103.45 254.50L103.70 254.49L103.95 254.49L104.20 254.49L104.45 254.49L104.70 254.49L104.95 254.49L105.20 254.48L105.45 254.48L105.70 254.47L105.95 254.46L106.20 254.45L106.45 254.43L106.70 254.40L106.95 254.36L107.20 254.28L107.45 254.15L107.70 253.94L107.95 253.63L108.20 253.31L108.45 253.21L108.70 253.43L108.95 253.76L109.20 254.04L109.45 254.21L109.70 254.32L109.95 254.38L110.20 254.42L110.45 254.44L110.70 254.46L110.95 254.47L111.20 254.47L111.45 254.48L111.70 254.48L111.95 254.49L112.20 254.49L112.45 254.49L112.70 254.49L112.95 254.49L113.20 254.49L113.45 254.49L113.70 254.49L113.95 254.49L114.20 254.49L114.45 254.49L114.70 254.49L114.95 254.49L115.20 254.49L115.45 254.48L115.70 254.48L115.95 254.47L116.20 254.46L116.45 254.44L116.70 254.41L116.95 254.37L117.20 254.28L117.45 254.16L117.70 254.00L117.95 253.90L118.20 253.95L118.45 254.10L118.70 254.24L118.95 254.34L119.20 254.40L119.45 254.43L119.70 254.45L119.95 254.47L120.20 254.48L120.45 254.48L120.70 254.49L120.95 254.49L121.20 254.49L121.45 254.49L121.70 254.49L121.95 254.49L122.20 254.49L122.45 254.49L122.70 254.49L122.95 254.49L123.20 254.49L123.45 254.49L123.70 254.49L123.95 254.49L124.20 254.49L124.45 254.49L124.70 254.49L124.95 254.49L125.20 254.49L125.45 254.49L125.70 254.49L125.95 254.49L126.20 254.49L126.45 254.49L126.70 254.48L126.95 254.48L127.20 254.48L127.45 254.47L127.70 254.46L127.95 254.45L128.20 254.44L128.45 254.42L128.70 254.40L128.95 254.36L129.20 254.31L129.45 254.22L129.70 254.07L129.95 253.83L130.20 253.43L130.45 252.80L130.70 252.02L130.95 251.51L131.20 251.75L131.45 252.49L131.70 253.20L131.95 253.69L132.20 253.99L132.45 254.16L132.70 254.27L132.95 254.33L133.20 254.37L133.45 254.40L133.70 254.42L133.95 254.42L134.20 254.42L134.45 254.42L134.70 254.40L134.95 254.37L135.20 254.31L135.45 254.21L135.70 254.03L135.95 253.70L136.20 253.24L136.45 252.90L136.70 253.06L136.95 253.53L137.20 253.92L137.45 254.16L137.70 254.29L137.95 254.36L138.20 254.40L138.45 254.43L138.70 254.44L138.95 254.45L139.20 254.46L139.45 254.46L139.70 254.45L139.95 254.45L140.20 254.44L140.45 254.42L140.70 254.38L140.95 254.31L141.20 254.20L141.45 253.99L141.70 253.70L141.95 253.49L142.20 253.59L142.45 253.88L142.70 254.12L142.95 254.27L143.20 254.35L143.45 254.39L143.70 254.42L143.95 254.43L144.20 254.44L144.45 254.44L144.70 254.44L144.95 254.44L145.20 254.44L145.45 254.43L145.70 254.43L145.95 254.42L146.20 254.41L146.45 254.40L146.70 254.38L146.95 254.36L147.20 254.34L147.45 254.31L147.70 254.27L147.95 254.23L148.20 254.17L148.45 254.08L148.70 253.98L148.95 253.83L149.20 253.62L149.45 253.33L149.70 252.90L149.95 252.28L150.20 251.33L150.45 249.90L150.70 247.78L150.95 244.85L151.20 241.44L151.45 238.80L151.70 238.52L151.95 240.80L152.20 244.17L152.45 247.25L152.70 249.53L152.95 251.08L153.20 252.10L153.45 252.78L153.70 253.24L153.95 253.55L154.20 253.77L154.45 253.92L154.70 254.03L154.95 254.12L155.20 254.18L155.45 254.22L155.70 254.25L155.95 254.28L156.20 254.29L156.45 254.30L156.70 254.31L156.95 254.31L157.20 254.30L157.45 254.29L157.70 254.28L157.95 254.25L158.20 254.22L158.45 254.18L158.70 254.13L158.95 254.06L159.20 253.97L159.45 253.85L159.70 253.68L159.95 253.45L160.20 253.12L160.45 252.64L160.70 251.91L160.95 250.79L161.20 248.99L161.45 245.97L161.70 240.77L161.95 231.80L162.20 217.43L162.45 199.85L162.70 190.77L162.95 199.85L163.20 217.42L163.45 231.79L163.70 240.76L163.95 245.96L164.20 248.97L164.45 250.77L164.70 251.88L164.95 252.59L165.20 253.06L165.45 253.38L165.70 253.59L165.95 253.72L166.20 253.80L166.45 253.81L166.70 253.77L166.95 253.63L167.20 253.33L167.45 252.77L167.70 251.73L167.95 249.98L168.20 247.89L168.45 247.17L168.70 248.69L168.95 250.78L169.20 252.24L169.45 253.07L169.70 253.50L169.95 253.72L170.20 253.80L170.45 253.79L170.70 253.67L170.95 253.44L171.20 253.01L171.45 252.26L171.70 250.93L171.95 248.66L172.20 245.27L172.45 241.95L172.70 241.56L172.95 244.53L173.20 248.08L173.45 250.59L173.70 252.09L173.95 252.95L174.20 253.45L174.45 253.75L174.70 253.93L174.95 254.04L175.20 254.11L175.45 254.15L175.70 254.17L175.95 254.16L176.20 254.14L176.45 254.09L176.70 254.02L176.95 253.90L177.20 253.73L177.45 253.46L177.70 253.04L177.95 252.36L178.20 251.24L178.45 249.37L178.70 246.39L178.95 242.43L179.20 239.27L179.45 239.58L179.70 242.95L179.95 246.55L180.20 248.98L180.45 250.25L180.70 250.62L180.95 250.23L181.20 248.97L181.45 246.47L181.70 242.13L181.95 235.65L182.20 228.87L182.45 226.74L182.70 231.46L182.95 238.70L183.20 244.51L183.45 248.25L183.70 250.49L183.95 251.83L184.20 252.66L184.45 253.18L184.70 253.53L184.95 253.76L185.20 253.92L185.45 254.04L185.70 254.12L185.95 254.18L186.20 254.22L186.45 254.25L186.70 254.27L186.95 254.28L187.20 254.29L187.45 254.29L187.70 254.28L187.95 254.26L188.20 254.24L188.45 254.20L188.70 254.15L188.95 254.08L189.20 253.99L189.45 253.85L189.70 253.66L189.95 253.37L190.20 252.95L190.45 252.29L190.70 251.25L190.95 249.56L191.20 246.83L191.45 242.58L191.70 236.94L191.95 232.00L192.20 231.44L192.45 235.78L192.70 241.53L192.95 246.11L193.20 249.11L193.45 250.97L193.70 252.12L193.95 252.84L194.20 253.30L194.45 253.61L194.70 253.81L194.95 253.96L195.20 254.06L195.45 254.13L195.70 254.18L195.95 254.20L196.20 254.22L196.45 254.22L196.70 254.20L196.95 254.17L197.20 254.11L197.45 254.01L197.70 253.85L197.95 253.60L198.20 253.19L198.45 252.51L198.70 251.37L198.95 249.51L199.20 246.89L199.45 244.48L199.70 244.20L199.95 246.35L200.20 249.05L200.45 251.08L200.70 252.35L200.95 253.12L201.20 253.57L201.45 253.86L201.70 254.04L201.95 254.16L202.20 254.24L202.45 254.30L202.70 254.34L202.95 254.37L203.20 254.39L203.45 254.40L203.70 254.41L203.95 254.42L204.20 254.42L204.45 254.43L204.70 254.42L204.95 254.42L205.20 254.41L205.45 254.40L205.70 254.38L205.95 254.34L206.20 254.29L206.45 254.21L206.70 254.09L206.95 253.88L207.20 253.54L207.45 252.96L207.70 252.09L207.95 251.08L208.20 250.59L208.45 251.08L208.70 252.09L208.95 252.96L209.20 253.54L209.45 253.89L209.70 254.10L209.95 254.22L210.20 254.30L210.45 254.35L210.70 254.39L210.95 254.41L211.20 254.43L211.45 254.44L211.70 254.45L211.95 254.45L212.20 254.45L212.45 254.45L212.70 254.45L212.95 254.44L213.20 254.43L213.45 254.41L213.70 254.38L213.95 254.33L214.20 254.25L214.45 254.11L214.70 253.89L214.95 253.56L215.20 253.21L215.45 253.10L215.70 253.34L215.95 253.70L216.20 253.99L216.45 254.18L216.70 254.29L216.95 254.36L217.20 254.40L217.45 254.43L217.70 254.44L217.95 254.45L218.20 254.46L218.45 254.47L218.70 254.47L218.95 254.47L219.20 254.47L219.45 254.47L219.70 254.47L219.95 254.47L220.20 254.47L220.45 254.46L220.70 254.46L220.95 254.45L221.20 254.45L221.45 254.44L221.70 254.42L221.95 254.41L222.20 254.38L222.45 254.35L222.70 254.31L222.95 254.25L223.20 254.17L223.45 254.04L223.70 253.85L223.95 253.55L224.20 253.06L224.45 252.27L224.70 251.01L224.95 249.28L225.20 247.56L225.45 247.03L225.70 248.18L225.95 250.02L226.20 251.58L226.45 252.63L226.70 253.28L226.95 253.68L227.20 253.94L227.45 254.10L227.70 254.20L227.95 254.28L228.20 254.33L228.45 254.36L228.70 254.39L228.95 254.40L229.20 254.41L229.45 254.42L229.70 254.42L229.95 254.42L230.20 254.42L230.45 254.40L230.70 254.38L230.95 254.33L231.20 254.25L231.45 254.11L231.70 253.85L231.95 253.40L232.20 252.77L232.45 252.30L232.70 252.52L232.95 253.16L233.20 253.70L233.45 254.03L233.70 254.21L233.95 254.31L234.20 254.37L234.45 254.40L234.70 254.42L234.95 254.43L235.20 254.43L235.45 254.43L235.70 254.42L235.95 254.40L236.20 254.36L236.45 254.30L236.70 254.20L236.95 254.02L237.20 253.69L237.45 253.12L237.70 252.31L237.95 251.72L238.20 252.00L238.45 252.81L238.70 253.50L238.95 253.91L239.20 254.15L239.45 254.28L239.70 254.35L239.95 254.40L240.20 254.43L240.45 254.45L240.70 254.46L240.95 254.47L241.20 254.47L241.45 254.48L241.70 254.48L241.95 254.49L242.20 254.49L242.45 254.49L242.70 254.49L242.95 254.49L243.20 254.49L243.45 254.49L243.70 254.49L243.95 254.50L244.20 254.50L244.45 254.50L244.70 254.50L244.95 254.50L245.20 254.50L245.45 254.50L245.70 254.50L245.95 254.50L246.20 254.50L246.45 254.50L246.70 254.50L246.95 254.50L247.20 254.50L247.45 254.50L247.70 254.50L247.95 254.50L248.20 254.50L248.45 254.50L248.70 254.50L248.95 254.50L249.20 254.50L249.45 254.50L249.70 254.50L249.95 254.50L250.20 254.50L250.45 254.50L250.70 254.50L250.95 254.50L251.20 254.50L251.45 254.50L251.70 254.50L251.95 254.49L252.20 254.49L252.45 254.49L252.70 254.49L252.95 254.49L253.20 254.48L253.45 254.48L253.70 254.47L253.95 254.46L254.20 254.45L254.45 254.42L254.70 254.39L254.95 254.32L255.20 254.21L255.45 254.05L255.70 253.84L255.95 253.70L256.20 253.77L256.45 253.97L256.70 254.16L256.95 254.29L257.20 254.36L257.45 254.41L257.70 254.44L257.95 254.46L258.20 254.47L258.45 254.48L258.70 254.48L258.95 254.49L259.20 254.49L259.45 254.49L259.70 254.49L259.95 254.49L260.20 254.50L260.45 254.50L260.70 254.50L260.95 254.50L261.20 254.50L261.45 254.50L261.70 254.50L261.95 254.50L262.20 254.50L262.45 254.50L262.70 254.50L262.95 254.50L263.20 254.50L263.45 254.50L263.70 254.50L263.95 254.50L264.20 254.50L264.45 254.50L264.70 254.50L264.95 254.50L265.20 254.50L265.45 254.50L265.70 254.50L265.95 254.50L266.20 254.50L266.45 254.50L266.70 254.50L266.95 254.50L267.20 254.50L267.45 254.50L267.70 254.50L267.95 254.50L268.20 254.50L268.45 254.50L268.70 254.50L268.95 254.50L269.20 254.50L269.45 254.50L269.70 254.50L269.95 254.50L270.20 254.50L270.45 254.50L270.70 254.50L270.95 254.50L271.20 254.50L271.45 254.50L271.70 254.50L271.95 254.50L272.20 254.50L272.45 254.50L272.70 254.50L272.95 254.50L273.20 254.50L273.45 254.50L273.70 254.50L273.95 254.50L274.20 254.50L274.45 254.50L274.70 254.50L274.95 254.50L275.20 254.50L275.45 254.50L275.70 254.50L275.95 254.50L276.20 254.50L276.45 254.50L276.70 254.50L276.95 254.50L277.20 254.50L277.45 254.50L277.70 254.50L277.95 254.50L278.20 254.50L278.45 254.50L278.70 254.50L278.95 254.50L279.20 254.50L279.45 254.50L279.70 254.50L279.95 254.50L280.20 254.50L280.45 254.50L280.70 254.50L280.95 254.50L281.20 254.50L281.45 254.50L281.70 254.50L281.95 254.50L282.20 254.50L282.45 254.50L282.70 254.50L282.95 254.50L283.20 254.50L283.45 254.50L283.70 254.50L283.95 254.50L284.20 254.50L284.45 254.50L284.70 254.50L284.95 254.50L285.20 254.50L285.45 254.50L285.70 254.50L285.95 254.50L286.20 254.50L286.45 254.50L286.70 254.50L286.95 254.50L287.20 254.50L287.45 254.50L287.70 254.50L287.95 254.50L288.20 254.50L288.45 254.50L288.70 254.50L288.95 254.50L289.20 254.50L289.45 254.50L289.70 254.50L289.95 254.50L290.20 254.50L290.45 254.50L290.70 254.50L290.95 254.50L291.20 254.50L291.45 254.50L291.70 254.50L291.95 254.50L292.20 254.50L292.45 254.50L292.70 254.50L292.95 254.50L293.20 254.50L293.45 254.50L293.70 254.50L293.95 254.50L294.20 254.50L294.45 254.50L294.70 254.50L294.95 254.50L295.20 254.50L295.45 254.50L295.70 254.50L295.95 254.50L296.20 254.50L296.45 254.50L296.70 254.50L296.95 254.50L297.20 254.50L297.45 254.50L297.70 254.50L297.95 254.50L298.20 254.50L298.45 254.50L298.70 254.50L298.95 254.50L299.20 254.50L299.45 254.50L299.70 254.50L299.95 254.50L300.20 254.50L300.45 254.50L300.70 254.50L300.95 254.50L301.20 254.50L301.45 254.50L301.70 254.50L301.95 254.50L302.20 254.50L302.45 254.50L302.70 254.50L302.95 254.50L303.20 254.50L303.45 254.50L303.70 254.50L303.95 254.50L304.20 254.50L304.45 254.50L304.70 254.50L304.95 254.50L305.20 254.50L305.45 254.50L305.70 254.50L305.95 254.50L306.20 254.50L306.45 254.50L306.70 254.50L306.95 254.50L307.20 254.50L307.45 254.50L307.70 254.50L307.95 254.50L308.20 254.50L308.45 254.50L308.70 254.50L308.95 254.50L309.20 254.50L309.45 254.50L309.70 254.50L309.95 254.50L310.20 254.50L310.45 254.50L310.70 254.50L310.95 254.50L311.20 254.50L311.45 254.50" stroke="#505050" stroke-width="0.85" fill="none" />
<path d="M164.95 358.90L164.95 356.87L165.20 356.31L165.45 355.50L165.70 354.26L165.95 352.29L166.20 349.09L166.45 343.75L166.70 334.85L166.95 320.97L167.20 303.69L167.45 292.46L167.70 297.70L167.95 314.15L168.20 329.93L168.45 340.72L168.70 347.29L168.95 351.21L169.20 353.59L169.45 355.08L169.70 356.04L169.70 358.90Z" stroke="none" stroke-width="1" fill="#c8689c" />
<path d="M147.45 358.90L147.45 356.67L147.70 355.97L147.95 354.87L148.20 353.15L148.45 350.35L148.70 345.82L148.95 338.79L149.20 329.46L149.45 321.28L149.70 320.35L149.95 327.54L150.20 337.06L150.45 344.63L150.70 349.60L150.95 352.68L151.20 354.58L151.45 355.77L151.70 356.54L151.70 358.90Z" stroke="none" stroke-width="1" fill="#c4c0c4" />
<path d="M47.20 358.50L47.45 358.50L47.70 358.50L47.95 358.50L48.20 358.50L48.45 358.50L48.70 358.50L48.95 358.50L49.20 358.50L49.45 358.50L49.70 358.50L49.95 358.50L50.20 358.50L50.45 358.50L50.70 358.50L50.95 358.50L51.20 358.50L51.45 358.50L51.70 358.50L51.95 358.50L52.20 358.50L52.45 358.50L52.70 358.50L52.95 358.50L53.20 358.50L53.45 358.50L53.70 358.50L53.95 358.50L54.20 358.50L54.45 358.50L54.70 358.50L54.95 358.50L55.20 358.50L55.45 358.50L55.70 358.50L55.95 358.50L56.20 358.50L56.45 358.50L56.70 358.50L56.95 358.50L57.20 358.50L57.45 358.50L57.70 358.50L57.95 358.50L58.20 358.50L58.45 358.50L58.70 358.50L58.95 358.50L59.20 358.50L59.45 358.50L59.70 358.50L59.95 358.50L60.20 358.50L60.45 358.50L60.70 358.50L60.95 358.50L61.20 358.50L61.45 358.50L61.70 358.50L61.95 358.50L62.20 358.50L62.45 358.50L62.70 358.50L62.95 358.50L63.20 358.50L63.45 358.50L63.70 358.50L63.95 358.50L64.20 358.50L64.45 358.50L64.70 358.50L64.95 358.50L65.20 358.50L65.45 358.50L65.70 358.49L65.95 358.49L66.20 358.49L66.45 358.49L66.70 358.49L66.95 358.49L67.20 358.48L67.45 358.48L67.70 358.47L67.95 358.45L68.20 358.44L68.45 358.41L68.70 358.36L68.95 358.28L69.20 358.14L69.45 357.93L69.70 357.67L69.95 357.51L70.20 357.58L70.45 357.83L70.70 358.07L70.95 358.23L71.20 358.33L71.45 358.39L71.70 358.43L71.95 358.45L72.20 358.46L72.45 358.47L72.70 358.48L72.95 358.48L73.20 358.49L73.45 358.49L73.70 358.49L73.95 358.49L74.20 358.49L74.45 358.49L74.70 358.50L74.95 358.50L75.20 358.50L75.45 358.50L75.70 358.50L75.95 358.50L76.20 358.50L76.45 358.50L76.70 358.50L76.95 358.50L77.20 358.50L77.45 358.49L77.70 358.49L77.95 358.49L78.20 358.49L78.45 358.49L78.70 358.49L78.95 358.49L79.20 358.48L79.45 358.48L79.70 358.47L79.95 358.46L80.20 358.44L80.45 358.42L80.70 358.37L80.95 358.30L81.20 358.18L81.45 357.99L81.70 357.76L81.95 357.60L82.20 357.67L82.45 357.90L82.70 358.11L82.95 358.26L83.20 358.35L83.45 358.40L83.70 358.43L83.95 358.45L84.20 358.46L84.45 358.47L84.70 358.48L84.95 358.48L85.20 358.48L85.45 358.49L85.70 358.49L85.95 358.49L86.20 358.49L86.45 358.48L86.70 358.48L86.95 358.48L87.20 358.47L87.45 358.46L87.70 358.45L87.95 358.42L88.20 358.38L88.45 358.32L88.70 358.21L88.95 358.05L89.20 357.84L89.45 357.70L89.70 357.77L89.95 357.96L90.20 358.15L90.45 358.28L90.70 358.36L90.95 358.41L91.20 358.44L91.45 358.46L91.70 358.47L91.95 358.48L92.20 358.48L92.45 358.49L92.70 358.49L92.95 358.49L93.20 358.49L93.45 358.49L93.70 358.49L93.95 358.49L94.20 358.50L94.45 358.50L94.70 358.50L94.95 358.50L95.20 358.50L95.45 358.50L95.70 358.50L95.95 358.50L96.20 358.50L96.45 358.50L96.70 358.50L96.95 358.50L97.20 358.50L97.45 358.50L97.70 358.49L97.95 358.49L98.20 358.49L98.45 358.49L98.70 358.49L98.95 358.49L99.20 358.49L99.45 358.49L99.70 358.48L99.95 358.48L100.20 358.47L100.45 358.47L100.70 358.46L100.95 358.44L101.20 358.42L101.45 358.39L101.70 358.34L101.95 358.25L102.20 358.11L102.45 357.87L102.70 357.51L102.95 357.10L103.20 356.90L103.45 357.10L103.70 357.51L103.95 357.87L104.20 358.11L104.45 358.25L104.70 358.34L104.95 358.39L105.20 358.42L105.45 358.44L105.70 358.46L105.95 358.47L106.20 358.47L106.45 358.48L106.70 358.48L106.95 358.48L107.20 358.49L107.45 358.49L107.70 358.49L107.95 358.49L108.20 358.49L108.45 358.49L108.70 358.49L108.95 358.49L109.20 358.49L109.45 358.49L109.70 358.49L109.95 358.49L110.20 358.49L110.45 358.49L110.70 358.48L110.95 358.48L111.20 358.48L111.45 358.48L111.70 358.48L111.95 358.48L112.20 358.47L112.45 358.47L112.70 358.46L112.95 358.46L113.20 358.45L113.45 358.44L113.70 358.43L113.95 358.42L114.20 358.40L114.45 358.38L114.70 358.35L114.95 358.31L115.20 358.25L115.45 358.17L115.70 358.06L115.95 357.90L116.20 357.65L116.45 357.27L116.70 356.67L116.95 355.72L117.20 354.28L117.45 352.37L117.70 350.57L117.95 350.03L118.20 351.21L118.45 353.17L118.70 354.92L118.95 356.15L119.20 356.94L119.45 357.44L119.70 357.76L119.95 357.97L120.20 358.11L120.45 358.20L120.70 358.27L120.95 358.32L121.20 358.35L121.45 358.38L121.70 358.40L121.95 358.42L122.20 358.43L122.45 358.44L122.70 358.44L122.95 358.45L123.20 358.45L123.45 358.45L123.70 358.45L123.95 358.46L124.20 358.45L124.45 358.45L124.70 358.45L124.95 358.45L125.20 358.44L125.45 358.44L125.70 358.43L125.95 358.42L126.20 358.41L126.45 358.39L126.70 358.37L126.95 358.33L127.20 358.29L127.45 358.24L127.70 358.16L127.95 358.04L128.20 357.87L128.45 357.62L128.70 357.22L128.95 356.57L129.20 355.52L129.45 353.85L129.70 351.45L129.95 348.83L130.20 347.59L130.45 348.83L130.70 351.44L130.95 353.85L131.20 355.52L131.45 356.57L131.70 357.21L131.95 357.61L132.20 357.86L132.45 358.03L132.70 358.14L132.95 358.22L133.20 358.27L133.45 358.31L133.70 358.33L133.95 358.35L134.20 358.36L134.45 358.37L134.70 358.37L134.95 358.36L135.20 358.35L135.45 358.33L135.70 358.30L135.95 358.26L136.20 358.20L136.45 358.11L136.70 357.98L136.95 357.79L137.20 357.48L137.45 357.00L137.70 356.22L137.95 354.95L138.20 353.03L138.45 350.60L138.70 348.77L138.95 349.01L139.20 351.09L139.45 353.46L139.70 355.25L139.95 356.40L140.20 357.11L140.45 357.55L140.70 357.83L140.95 358.01L141.20 358.13L141.45 358.21L141.70 358.26L141.95 358.30L142.20 358.33L142.45 358.35L142.70 358.36L142.95 358.37L143.20 358.37L143.45 358.37L143.70 358.37L143.95 358.36L144.20 358.35L144.45 358.33L144.70 358.31L144.95 358.29L145.20 358.26L145.45 358.21L145.70 358.16L145.95 358.09L146.20 358.00L146.45 357.88L146.70 357.71L146.95 357.48L147.20 357.15L147.45 356.67L147.70 355.97L147.95 354.87L148.20 353.15L148.45 350.35L148.70 345.82L148.95 338.79L149.20 329.46L149.45 321.28L149.70 320.35L149.95 327.54L150.20 337.06L150.45 344.63L150.70 349.60L150.95 352.68L151.20 354.58L151.45 355.77L151.70 356.54L151.95 357.05L152.20 357.39L152.45 357.64L152.70 357.81L152.95 357.93L153.20 358.02L153.45 358.08L153.70 358.13L153.95 358.15L154.20 358.17L154.45 358.16L154.70 358.15L154.95 358.11L155.20 358.05L155.45 357.96L155.70 357.81L155.95 357.60L156.20 357.26L156.45 356.72L156.70 355.84L156.95 354.42L157.20 352.17L157.45 349.04L157.70 345.96L157.95 345.01L158.20 347.07L158.45 350.38L158.70 353.19L158.95 355.08L159.20 356.25L159.45 356.97L159.70 357.42L159.95 357.71L160.20 357.90L160.45 358.02L160.70 358.11L160.95 358.17L161.20 358.20L161.45 358.23L161.70 358.24L161.95 358.24L162.20 358.23L162.45 358.22L162.70 358.19L162.95 358.16L163.20 358.11L163.45 358.05L163.70 357.97L163.95 357.86L164.20 357.72L164.45 357.52L164.70 357.25L164.95 356.87L165.20 356.31L165.45 355.50L165.70 354.26L165.95 352.29L166.20 349.09L166.45 343.75L166.70 334.85L166.95 320.97L167.20 303.69L167.45 292.46L167.70 297.70L167.95 314.15L168.20 329.93L168.45 340.72L168.70 347.29L168.95 351.21L169.20 353.59L169.45 355.08L169.70 356.04L169.95 356.68L170.20 357.13L170.45 357.44L170.70 357.67L170.95 357.83L171.20 357.96L171.45 358.05L171.70 358.13L171.95 358.18L172.20 358.23L172.45 358.27L172.70 358.29L172.95 358.31L173.20 358.33L173.45 358.34L173.70 358.34L173.95 358.33L174.20 358.32L174.45 358.28L174.70 358.22L174.95 358.10L175.20 357.91L175.45 357.60L175.70 357.22L175.95 356.97L176.20 357.09L176.45 357.46L176.70 357.82L176.95 358.07L177.20 358.22L177.45 358.31L177.70 358.36L177.95 358.40L178.20 358.42L178.45 358.44L178.70 358.45L178.95 358.46L179.20 358.46L179.45 358.47L179.70 358.47L179.95 358.48L180.20 358.48L180.45 358.48L180.70 358.48L180.95 358.48L181.20 358.48L181.45 358.48L181.70 358.49L181.95 358.49L182.20 358.49L182.45 358.49L182.70 358.49L182.95 358.49L183.20 358.48L183.45 358.48L183.70 358.48L183.95 358.48L184.20 358.48L184.45 358.47L184.70 358.47L184.95 358.46L185.20 358.45L185.45 358.44L185.70 358.41L185.95 358.38L186.20 358.32L186.45 358.22L186.70 358.05L186.95 357.79L187.20 357.41L187.45 357.07L187.70 357.03L187.95 357.33L188.20 357.72L188.45 358.01L188.70 358.19L188.95 358.30L189.20 358.37L189.45 358.41L189.70 358.43L189.95 358.45L190.20 358.46L190.45 358.47L190.70 358.47L190.95 358.48L191.20 358.48L191.45 358.48L191.70 358.49L191.95 358.49L192.20 358.49L192.45 358.49L192.70 358.49L192.95 358.49L193.20 358.49L193.45 358.49L193.70 358.48L193.95 358.48L194.20 358.48L194.45 358.48L194.70 358.47L194.95 358.47L195.20 358.46L195.45 358.45L195.70 358.44L195.95 358.41L196.20 358.38L196.45 358.33L196.70 358.25L196.95 358.13L197.20 357.91L197.45 357.56L197.70 357.02L197.95 356.40L198.20 356.10L198.45 356.40L198.70 357.02L198.95 357.56L199.20 357.91L199.45 358.13L199.70 358.25L199.95 358.33L200.20 358.38L200.45 358.41L200.70 358.43L200.95 358.45L201.20 358.46L201.45 358.46L201.70 358.47L201.95 358.47L202.20 358.47L202.45 358.46L202.70 358.46L202.95 358.45L203.20 358.44L203.45 358.41L203.70 358.37L203.95 358.29L204.20 358.15L204.45 357.90L204.70 357.55L204.95 357.30L205.20 357.42L205.45 357.77L205.70 358.06L205.95 358.24L206.20 358.34L206.45 358.39L206.70 358.42L206.95 358.44L207.20 358.45L207.45 358.46L207.70 358.46L207.95 358.47L208.20 358.47L208.45 358.46L208.70 358.46L208.95 358.46L209.20 358.45L209.45 358.44L209.70 358.43L209.95 358.42L210.20 358.40L210.45 358.38L210.70 358.35L210.95 358.31L211.20 358.25L211.45 358.17L211.70 358.04L211.95 357.86L212.20 357.58L212.45 357.13L212.70 356.42L212.95 355.34L213.20 353.85L213.45 352.31L213.70 351.60L213.95 352.31L214.20 353.85L214.45 355.34L214.70 356.42L214.95 357.13L215.20 357.58L215.45 357.86L215.70 358.04L215.95 358.17L216.20 358.25L216.45 358.31L216.70 358.35L216.95 358.38L217.20 358.40L217.45 358.42L217.70 358.43L217.95 358.44L218.20 358.44L218.45 358.44L218.70 358.44L218.95 358.44L219.20 358.43L219.45 358.40L219.70 358.37L219.95 358.31L220.20 358.20L220.45 358.04L220.70 357.83L220.95 357.69L221.20 357.76L221.45 357.96L221.70 358.15L221.95 358.28L222.20 358.36L222.45 358.41L222.70 358.44L222.95 358.45L223.20 358.47L223.45 358.47L223.70 358.48L223.95 358.48L224.20 358.49L224.45 358.49L224.70 358.49L224.95 358.49L225.20 358.49L225.45 358.49L225.70 358.49L225.95 358.50L226.20 358.50L226.45 358.50L226.70 358.50L226.95 358.50L227.20 358.50L227.45 358.50L227.70 358.50L227.95 358.50L228.20 358.50L228.45 358.50L228.70 358.50L228.95 358.50L229.20 358.50L229.45 358.50L229.70 358.50L229.95 358.50L230.20 358.50L230.45 358.50L230.70 358.50L230.95 358.50L231.20 358.50L231.45 358.50L231.70 358.50L231.95 358.50L232.20 358.50L232.45 358.50L232.70 358.50L232.95 358.50L233.20 358.50L233.45 358.50L233.70 358.50L233.95 358.50L234.20 358.50L234.45 358.50L234.70 358.50L234.95 358.50L235.20 358.50L235.45 358.50L235.70 358.50L235.95 358.50L236.20 358.50L236.45 358.50L236.70 358.50L236.95 358.50L237.20 358.50L237.45 358.50L237.70 358.50L237.95 358.50L238.20 358.50L238.45 358.50L238.70 358.49L238.95 358.49L239.20 358.49L239.45 358.49L239.70 358.49L239.95 358.49L240.20 358.49L240.45 358.48L240.70 358.48L240.95 358.48L241.20 358.47L241.45 358.46L241.70 358.45L241.95 358.43L242.20 358.39L242.45 358.34L242.70 358.25L242.95 358.11L243.20 357.87L243.45 357.56L243.70 357.32L243.95 357.35L244.20 357.63L244.45 357.92L244.70 358.13L244.95 358.26L245.20 358.34L245.45 358.38L245.70 358.41L245.95 358.42L246.20 358.43L246.45 358.43L246.70 358.43L246.95 358.41L247.20 358.40L247.45 358.37L247.70 358.33L247.95 358.27L248.20 358.17L248.45 358.01L248.70 357.75L248.95 357.32L249.20 356.60L249.45 355.56L249.70 354.47L249.95 354.12L250.20 354.87L250.45 356.01L250.70 356.93L250.95 357.52L251.20 357.88L251.45 358.09L251.70 358.22L251.95 358.30L252.20 358.36L252.45 358.39L252.70 358.42L252.95 358.44L253.20 358.45L253.45 358.46L253.70 358.47L253.95 358.47L254.20 358.48L254.45 358.48L254.70 358.48L254.95 358.49L255.20 358.49L255.45 358.49L255.70 358.49L255.95 358.49L256.20 358.49L256.45 358.49L256.70 358.49L256.95 358.49L257.20 358.49L257.45 358.49L257.70 358.49L257.95 358.49L258.20 358.49L258.45 358.48L258.70 358.48L258.95 358.47L259.20 358.46L259.45 358.44L259.70 358.41L259.95 358.37L260.20 358.28L260.45 358.16L260.70 358.00L260.95 357.90L261.20 357.95L261.45 358.10L261.70 358.24L261.95 358.34L262.20 358.40L262.45 358.43L262.70 358.45L262.95 358.47L263.20 358.48L263.45 358.48L263.70 358.49L263.95 358.49L264.20 358.49L264.45 358.49L264.70 358.49L264.95 358.50L265.20 358.50L265.45 358.50L265.70 358.50L265.95 358.50L266.20 358.50L266.45 358.50L266.70 358.50L266.95 358.50L267.20 358.50L267.45 358.50L267.70 358.50L267.95 358.50L268.20 358.50L268.45 358.50L268.70 358.50L268.95 358.50L269.20 358.50L269.45 358.50L269.70 358.50L269.95 358.50L270.20 358.50L270.45 358.50L270.70 358.50L270.95 358.50L271.20 358.50L271.45 358.50L271.70 358.50L271.95 358.50L272.20 358.50L272.45 358.50L272.70 358.50L272.95 358.50L273.20 358.50L273.45 358.50L273.70 358.50L273.95 358.50L274.20 358.50L274.45 358.50L274.70 358.50L274.95 358.50L275.20 358.50L275.45 358.50L275.70 358.50L275.95 358.50L276.20 358.50L276.45 358.50L276.70 358.50L276.95 358.50L277.20 358.50L277.45 358.50L277.70 358.50L277.95 358.50L278.20 358.50L278.45 358.50L278.70 358.50L278.95 358.50L279.20 358.50L279.45 358.50L279.70 358.50L279.95 358.50L280.20 358.50L280.45 358.50L280.70 358.50L280.95 358.50L281.20 358.50L281.45 358.50L281.70 358.50L281.95 358.50L282.20 358.50L282.45 358.50L282.70 358.50L282.95 358.50L283.20 358.50L283.45 358.50L283.70 358.50L283.95 358.50L284.20 358.50L284.45 358.50L284.70 358.50L284.95 358.50L285.20 358.50L285.45 358.50L285.70 358.50L285.95 358.50L286.20 358.50L286.45 358.50L286.70 358.50L286.95 358.50L287.20 358.50L287.45 358.50L287.70 358.50L287.95 358.50L288.20 358.50L288.45 358.50L288.70 358.50L288.95 358.50L289.20 358.50L289.45 358.50L289.70 358.50L289.95 358.50L290.20 358.50L290.45 358.50L290.70 358.50L290.95 358.50L291.20 358.50L291.45 358.50L291.70 358.50L291.95 358.50L292.20 358.50L292.45 358.50L292.70 358.50L292.95 358.50L293.20 358.50L293.45 358.50L293.70 358.50L293.95 358.50L294.20 358.50L294.45 358.50L294.70 358.50L294.95 358.50L295.20 358.50L295.45 358.50L295.70 358.50L295.95 358.50L296.20 358.50L296.45 358.50L296.70 358.50L296.95 358.50L297.20 358.50L297.45 358.50L297.70 358.50L297.95 358.50L298.20 358.50L298.45 358.50L298.70 358.50L298.95 358.50L299.20 358.50L299.45 358.50L299.70 358.50L299.95 358.50L300.20 358.50L300.45 358.50L300.70 358.50L300.95 358.50L301.20 358.50L301.45 358.50L301.70 358.50L301.95 358.50L302.20 358.50L302.45 358.50L302.70 358.50L302.95 358.50L303.20 358.50L303.45 358.50L303.70 358.50L303.95 358.50L304.20 358.50L304.45 358.50L304.70 358.50L304.95 358.50L305.20 358.50L305.45 358.50L305.70 358.50L305.95 358.50L306.20 358.50L306.45 358.50L306.70 358.50L306.95 358.50L307.20 358.50L307.45 358.50L307.70 358.50L307.95 358.50L308.20 358.50L308.45 358.50L308.70 358.50L308.95 358.50L309.20 358.50L309.45 358.50L309.70 358.50L309.95 358.50L310.20 358.50L310.45 358.50L310.70 358.50L310.95 358.50L311.20 358.50L311.45 358.50" stroke="#505050" stroke-width="0.85" fill="none" />
<path d="M69.50 248.00L69.50 252.50" stroke="#585050" stroke-width="0.75" fill="none" stroke-dasharray="0.8 0.95" />
<path d="M81.50 248.00L81.50 252.50" stroke="#585050" stroke-width="0.75" fill="none" stroke-dasharray="0.8 0.95" />
<path d="M109.10 249.00L109.10 252.50" stroke="#585050" stroke-width="0.75" fill="none" stroke-dasharray="0.8 0.95" />
<path d="M118.00 249.00L118.00 252.50" stroke="#585050" stroke-width="0.75" fill="none" stroke-dasharray="0.8 0.95" />
<path d="M130.70 249.00L130.70 252.50" stroke="#585050" stroke-width="0.75" fill="none" stroke-dasharray="0.8 0.95" />
<path d="M118.50 200.00L136.50 214.00L136.50 252.00" stroke="#585050" stroke-width="0.75" fill="none" stroke-dasharray="0.8 0.95" />
<path d="M129.50 200.00L138.50 216.00L138.50 252.00" stroke="#585050" stroke-width="0.75" fill="none" stroke-dasharray="0.8 0.95" />
<path d="M142.50 200.00L142.50 252.00" stroke="#585050" stroke-width="0.75" fill="none" stroke-dasharray="0.8 0.95" />
<path d="M163.50 191.00L167.00 188.00" stroke="#585050" stroke-width="0.75" fill="none" stroke-dasharray="0.8 0.95" />
<path d="M170.60 194.00L170.60 244.00" stroke="#585050" stroke-width="0.75" fill="none" stroke-dasharray="0.8 0.95" />
<path d="M180.80 206.00L176.00 230.00" stroke="#585050" stroke-width="0.75" fill="none" stroke-dasharray="0.8 0.95" />
<path d="M197.50 199.00L173.50 236.00" stroke="#585050" stroke-width="0.75" fill="none" stroke-dasharray="0.8 0.95" />
<path d="M208.70 199.00L182.50 226.00" stroke="#585050" stroke-width="0.75" fill="none" stroke-dasharray="0.8 0.95" />
<path d="M218.70 199.00L187.00 231.00" stroke="#585050" stroke-width="0.75" fill="none" stroke-dasharray="0.8 0.95" />
<path d="M234.00 202.00L199.60 240.00" stroke="#585050" stroke-width="0.75" fill="none" stroke-dasharray="0.8 0.95" />
<path d="M246.20 202.00L208.20 240.00L208.20 250.00" stroke="#585050" stroke-width="0.75" fill="none" stroke-dasharray="0.8 0.95" />
<path d="M259.80 215.00L236.50 228.00L236.50 252.00" stroke="#585050" stroke-width="0.75" fill="none" stroke-dasharray="0.8 0.95" />
<path d="M274.20 210.00L238.00 228.00L238.00 252.00" stroke="#585050" stroke-width="0.75" fill="none" stroke-dasharray="0.8 0.95" />
<path d="M286.90 206.00L239.50 229.00L239.50 252.00" stroke="#585050" stroke-width="0.75" fill="none" stroke-dasharray="0.8 0.95" />
<path d="M201.40 243.00L201.40 250.00" stroke="#585050" stroke-width="0.75" fill="none" stroke-dasharray="0.8 0.95" />
<path d="M226.10 246.00L226.10 250.00" stroke="#585050" stroke-width="0.75" fill="none" stroke-dasharray="0.8 0.95" />
<path d="M215.00 222.00L215.00 251.00" stroke="#585050" stroke-width="0.75" fill="none" stroke-dasharray="0.8 0.95" />
<path d="M232.50 225.00L232.50 251.00" stroke="#585050" stroke-width="0.75" fill="none" stroke-dasharray="0.8 0.95" />
<path d="M70.00 352.00L70.00 356.00" stroke="#585050" stroke-width="0.75" fill="none" stroke-dasharray="0.8 0.95" />
<path d="M81.60 352.00L81.60 356.00" stroke="#585050" stroke-width="0.75" fill="none" stroke-dasharray="0.8 0.95" />
<path d="M89.30 352.00L89.30 356.00" stroke="#585050" stroke-width="0.75" fill="none" stroke-dasharray="0.8 0.95" />
<path d="M103.20 357.00L103.20 356.00" stroke="#585050" stroke-width="0.75" fill="none" stroke-dasharray="0.8 0.95" />
<path d="M104.00 320.00L117.90 343.00L117.90 349.00" stroke="#585050" stroke-width="0.75" fill="none" stroke-dasharray="0.8 0.95" />
<path d="M112.70 320.00L128.50 340.00L130.20 346.00" stroke="#585050" stroke-width="0.75" fill="none" stroke-dasharray="0.8 0.95" />
<path d="M123.00 303.00L136.00 320.00L138.50 346.00" stroke="#585050" stroke-width="0.75" fill="none" stroke-dasharray="0.8 0.95" />
<path d="M138.70 304.00L142.00 320.00L142.00 352.00" stroke="#585050" stroke-width="0.75" fill="none" stroke-dasharray="0.8 0.95" />
<path d="M130.60 341.00L130.60 346.00" stroke="#585050" stroke-width="0.75" fill="none" stroke-dasharray="0.8 0.95" />
<path d="M150.30 318.00L150.30 320.00" stroke="#585050" stroke-width="0.75" fill="none" stroke-dasharray="0.8 0.95" />
<path d="M157.90 346.00L157.90 345.00" stroke="#585050" stroke-width="0.75" fill="none" stroke-dasharray="0.8 0.95" />
<path d="M174.90 296.00L168.50 301.00" stroke="#585050" stroke-width="0.75" fill="none" stroke-dasharray="0.8 0.95" />
<path d="M198.80 321.00L198.80 354.00" stroke="#585050" stroke-width="0.75" fill="none" stroke-dasharray="0.8 0.95" />
<path d="M186.90 350.00L186.90 355.00" stroke="#585050" stroke-width="0.75" fill="none" stroke-dasharray="0.8 0.95" />
<path d="M206.00 350.00L206.00 355.00" stroke="#585050" stroke-width="0.75" fill="none" stroke-dasharray="0.8 0.95" />
<path d="M241.20 320.00L217.00 338.00L214.00 348.00" stroke="#585050" stroke-width="0.75" fill="none" stroke-dasharray="0.8 0.95" />
<path d="M245.20 350.00L245.20 355.00" stroke="#585050" stroke-width="0.75" fill="none" stroke-dasharray="0.8 0.95" />
<path d="M272.30 334.00L251.00 354.00" stroke="#585050" stroke-width="0.75" fill="none" stroke-dasharray="0.8 0.95" />
<line x1="69.40" y1="244.10" x2="69.40" y2="236.20" stroke="#7a8a8a" stroke-width="0.45"/>
<line x1="69.40" y1="236.20" x2="67.50" y2="232.25" stroke="#7a8a8a" stroke-width="0.45"/>
<line x1="69.40" y1="236.20" x2="71.30" y2="232.25" stroke="#7a8a8a" stroke-width="0.45"/>
<line x1="67.50" y1="232.25" x2="67.50" y2="228.30" stroke="#7a8a8a" stroke-width="0.45"/>
<line x1="67.50" y1="228.30" x2="67.50" y2="228.30" stroke="#7a8a8a" stroke-width="0.45"/>
<line x1="71.30" y1="232.25" x2="71.30" y2="228.30" stroke="#7a8a8a" stroke-width="0.45"/>
<line x1="71.30" y1="228.30" x2="71.30" y2="228.30" stroke="#7a8a8a" stroke-width="0.45"/>
<line x1="69.40" y1="244.10" x2="73.00" y2="244.10" stroke="#8a8a8a" stroke-width="0.5"/>
<path d="M72.60 243.20L74.00 244.10L72.60 245.00Z" stroke="none" stroke-width="1" fill="#e08a5a" />
<rect x="68.08" y="242.78" width="2.65" height="2.65" fill="#2f68a6"/>
<rect x="68.08" y="238.83" width="2.65" height="2.65" fill="#2f68a6"/>
<circle cx="69.40" cy="236.20" r="1.325" fill="#3a8c58"/>
<circle cx="67.50" cy="232.25" r="1.325" fill="#3a8c58"/>
<circle cx="71.30" cy="232.25" r="1.325" fill="#3a8c58"/>
<rect x="66.17" y="226.97" width="2.65" height="2.65" fill="#2f68a6"/>
<rect x="69.98" y="226.97" width="2.65" height="2.65" fill="#2f68a6"/>
<line x1="81.50" y1="244.10" x2="81.50" y2="236.20" stroke="#7a8a8a" stroke-width="0.45"/>
<line x1="81.50" y1="236.20" x2="79.10" y2="232.25" stroke="#7a8a8a" stroke-width="0.45"/>
<line x1="81.50" y1="236.20" x2="83.90" y2="232.25" stroke="#7a8a8a" stroke-width="0.45"/>
<line x1="79.10" y1="232.25" x2="79.60" y2="228.30" stroke="#7a8a8a" stroke-width="0.45"/>
<line x1="79.60" y1="228.30" x2="79.60" y2="228.30" stroke="#7a8a8a" stroke-width="0.45"/>
<line x1="83.90" y1="232.25" x2="83.40" y2="228.30" stroke="#7a8a8a" stroke-width="0.45"/>
<line x1="83.40" y1="228.30" x2="83.40" y2="228.30" stroke="#7a8a8a" stroke-width="0.45"/>
<rect x="80.17" y="242.78" width="2.65" height="2.65" fill="#2f68a6"/>
<rect x="80.17" y="238.83" width="2.65" height="2.65" fill="#2f68a6"/>
<circle cx="81.50" cy="236.20" r="1.325" fill="#3a8c58"/>
<circle cx="79.10" cy="232.25" r="1.325" fill="#3a8c58"/>
<circle cx="83.90" cy="232.25" r="1.325" fill="#3a8c58"/>
<rect x="78.27" y="226.97" width="2.65" height="2.65" fill="#2f68a6"/>
<rect x="82.08" y="226.97" width="2.65" height="2.65" fill="#2f68a6"/>
<line x1="109.10" y1="246.10" x2="109.10" y2="238.20" stroke="#7a8a8a" stroke-width="0.45"/>
<line x1="109.10" y1="238.20" x2="105.60" y2="234.25" stroke="#7a8a8a" stroke-width="0.45"/>
<line x1="109.10" y1="238.20" x2="112.60" y2="234.25" stroke="#7a8a8a" stroke-width="0.45"/>
<line x1="105.60" y1="234.25" x2="107.20" y2="230.30" stroke="#7a8a8a" stroke-width="0.45"/>
<line x1="107.20" y1="230.30" x2="107.20" y2="226.35" stroke="#7a8a8a" stroke-width="0.45"/>
<line x1="112.60" y1="234.25" x2="111.00" y2="230.30" stroke="#7a8a8a" stroke-width="0.45"/>
<line x1="111.00" y1="230.30" x2="111.00" y2="226.35" stroke="#7a8a8a" stroke-width="0.45"/>
<line x1="109.10" y1="246.10" x2="112.70" y2="246.10" stroke="#8a8a8a" stroke-width="0.5"/>
<path d="M112.30 245.20L113.70 246.10L112.30 247.00Z" stroke="none" stroke-width="1" fill="#e08a5a" />
<rect x="107.77" y="244.78" width="2.65" height="2.65" fill="#2f68a6"/>
<rect x="107.77" y="240.83" width="2.65" height="2.65" fill="#2f68a6"/>
<circle cx="109.10" cy="238.20" r="1.325" fill="#3a8c58"/>
<circle cx="105.60" cy="234.25" r="1.325" fill="#3a8c58"/>
<circle cx="112.60" cy="234.25" r="1.325" fill="#3a8c58"/>
<rect x="105.87" y="228.97" width="2.65" height="2.65" fill="#2f68a6"/>
<rect x="109.67" y="228.97" width="2.65" height="2.65" fill="#2f68a6"/>
<circle cx="107.20" cy="226.35" r="1.325" fill="#c4a24e"/>
<circle cx="111.00" cy="226.35" r="1.325" fill="#c4a24e"/>
<line x1="118.00" y1="246.10" x2="118.00" y2="238.20" stroke="#7a8a8a" stroke-width="0.45"/>
<line x1="118.00" y1="238.20" x2="116.10" y2="234.25" stroke="#7a8a8a" stroke-width="0.45"/>
<line x1="118.00" y1="238.20" x2="119.90" y2="234.25" stroke="#7a8a8a" stroke-width="0.45"/>
<line x1="116.10" y1="234.25" x2="116.10" y2="230.30" stroke="#7a8a8a" stroke-width="0.45"/>
<line x1="116.10" y1="230.30" x2="116.10" y2="226.35" stroke="#7a8a8a" stroke-width="0.45"/>
<line x1="119.90" y1="234.25" x2="119.90" y2="230.30" stroke="#7a8a8a" stroke-width="0.45"/>
<line x1="119.90" y1="230.30" x2="119.90" y2="226.35" stroke="#7a8a8a" stroke-width="0.45"/>
<rect x="116.67" y="244.78" width="2.65" height="2.65" fill="#2f68a6"/>
<rect x="116.67" y="240.83" width="2.65" height="2.65" fill="#2f68a6"/>
<circle cx="118.00" cy="238.20" r="1.325" fill="#3a8c58"/>
<circle cx="116.10" cy="234.25" r="1.325" fill="#3a8c58"/>
<circle cx="119.90" cy="234.25" r="1.325" fill="#3a8c58"/>
<rect x="114.77" y="228.97" width="2.65" height="2.65" fill="#2f68a6"/>
<rect x="118.58" y="228.97" width="2.65" height="2.65" fill="#2f68a6"/>
<circle cx="116.10" cy="226.35" r="1.325" fill="#c4a24e"/>
<circle cx="119.90" cy="226.35" r="1.325" fill="#c4a24e"/>
<path d="M118.00 220.88L119.52 222.40L118.00 223.92L116.48 222.40Z" stroke="none" stroke-width="1" fill="#8a6c94" />
<line x1="130.70" y1="246.10" x2="130.70" y2="238.20" stroke="#7a8a8a" stroke-width="0.45"/>
<line x1="130.70" y1="238.20" x2="128.80" y2="234.25" stroke="#7a8a8a" stroke-width="0.45"/>
<line x1="130.70" y1="238.20" x2="132.60" y2="234.25" stroke="#7a8a8a" stroke-width="0.45"/>
<line x1="128.80" y1="234.25" x2="128.80" y2="230.30" stroke="#7a8a8a" stroke-width="0.45"/>
<line x1="128.80" y1="230.30" x2="128.80" y2="226.35" stroke="#7a8a8a" stroke-width="0.45"/>
<line x1="132.60" y1="234.25" x2="132.60" y2="230.30" stroke="#7a8a8a" stroke-width="0.45"/>
<line x1="132.60" y1="230.30" x2="132.60" y2="226.35" stroke="#7a8a8a" stroke-width="0.45"/>
<line x1="130.70" y1="246.10" x2="134.30" y2="246.10" stroke="#8a8a8a" stroke-width="0.5"/>
<path d="M133.90 245.20L135.30 246.10L133.90 247.00Z" stroke="none" stroke-width="1" fill="#e08a5a" />
<rect x="129.38" y="244.78" width="2.65" height="2.65" fill="#2f68a6"/>
<rect x="129.38" y="240.83" width="2.65" height="2.65" fill="#2f68a6"/>
<circle cx="130.70" cy="238.20" r="1.325" fill="#3a8c58"/>
<circle cx="128.80" cy="234.25" r="1.325" fill="#3a8c58"/>
<circle cx="132.60" cy="234.25" r="1.325" fill="#3a8c58"/>
<rect x="127.47" y="228.97" width="2.65" height="2.65" fill="#2f68a6"/>
<rect x="131.28" y="228.97" width="2.65" height="2.65" fill="#2f68a6"/>
<circle cx="128.80" cy="226.35" r="1.325" fill="#c4a24e"/>
<circle cx="132.60" cy="226.35" r="1.325" fill="#c4a24e"/>
<line x1="117.60" y1="196.70" x2="117.60" y2="188.80" stroke="#7a8a8a" stroke-width="0.45"/>
<line x1="117.60" y1="188.80" x2="113.80" y2="184.85" stroke="#7a8a8a" stroke-width="0.45"/>
<line x1="117.60" y1="188.80" x2="121.40" y2="184.85" stroke="#7a8a8a" stroke-width="0.45"/>
<line x1="113.80" y1="184.85" x2="113.80" y2="180.90" stroke="#7a8a8a" stroke-width="0.45"/>
<line x1="113.80" y1="180.90" x2="113.80" y2="176.95" stroke="#7a8a8a" stroke-width="0.45"/>
<line x1="121.40" y1="184.85" x2="117.60" y2="180.90" stroke="#7a8a8a" stroke-width="0.45"/>
<line x1="117.60" y1="180.90" x2="117.60" y2="176.95" stroke="#7a8a8a" stroke-width="0.45"/>
<line x1="121.40" y1="184.85" x2="121.40" y2="180.90" stroke="#7a8a8a" stroke-width="0.45"/>
<line x1="121.40" y1="180.90" x2="121.40" y2="176.95" stroke="#7a8a8a" stroke-width="0.45"/>
<line x1="117.60" y1="196.70" x2="121.20" y2="196.70" stroke="#8a8a8a" stroke-width="0.5"/>
<path d="M120.80 195.80L122.20 196.70L120.80 197.60Z" stroke="none" stroke-width="1" fill="#e08a5a" />
<rect x="116.27" y="195.38" width="2.65" height="2.65" fill="#2f68a6"/>
<rect x="116.27" y="191.43" width="2.65" height="2.65" fill="#2f68a6"/>
<circle cx="117.60" cy="188.80" r="1.325" fill="#3a8c58"/>
<circle cx="113.80" cy="184.85" r="1.325" fill="#3a8c58"/>
<circle cx="121.40" cy="184.85" r="1.325" fill="#3a8c58"/>
<rect x="112.47" y="179.57" width="2.65" height="2.65" fill="#2f68a6"/>
<rect x="116.27" y="179.57" width="2.65" height="2.65" fill="#2f68a6"/>
<rect x="120.07" y="179.57" width="2.65" height="2.65" fill="#2f68a6"/>
<circle cx="113.80" cy="176.95" r="1.325" fill="#c4a24e"/>
<circle cx="117.60" cy="176.95" r="1.325" fill="#c4a24e"/>
<circle cx="121.40" cy="176.95" r="1.325" fill="#c4a24e"/>
<line x1="129.20" y1="196.70" x2="129.20" y2="188.80" stroke="#7a8a8a" stroke-width="0.45"/>
<line x1="129.20" y1="188.80" x2="126.20" y2="184.85" stroke="#7a8a8a" stroke-width="0.45"/>
<line x1="129.20" y1="188.80" x2="132.20" y2="184.85" stroke="#7a8a8a" stroke-width="0.45"/>
<line x1="126.20" y1="184.85" x2="127.30" y2="180.90" stroke="#7a8a8a" stroke-width="0.45"/>
<line x1="127.30" y1="180.90" x2="127.30" y2="176.95" stroke="#7a8a8a" stroke-width="0.45"/>
<line x1="132.20" y1="184.85" x2="131.10" y2="180.90" stroke="#7a8a8a" stroke-width="0.45"/>
<line x1="131.10" y1="180.90" x2="131.10" y2="176.95" stroke="#7a8a8a" stroke-width="0.45"/>
<line x1="129.20" y1="196.70" x2="132.80" y2="196.70" stroke="#8a8a8a" stroke-width="0.5"/>
<path d="M132.40 195.80L133.80 196.70L132.40 197.60Z" stroke="none" stroke-width="1" fill="#e08a5a" />
<rect x="127.87" y="195.38" width="2.65" height="2.65" fill="#2f68a6"/>
<rect x="127.87" y="191.43" width="2.65" height="2.65" fill="#2f68a6"/>
<circle cx="129.20" cy="188.80" r="1.325" fill="#3a8c58"/>
<circle cx="126.20" cy="184.85" r="1.325" fill="#3a8c58"/>
<circle cx="132.20" cy="184.85" r="1.325" fill="#3a8c58"/>
<rect x="125.97" y="179.57" width="2.65" height="2.65" fill="#2f68a6"/>
<rect x="129.78" y="179.57" width="2.65" height="2.65" fill="#2f68a6"/>
<circle cx="127.30" cy="176.95" r="1.325" fill="#c4a24e"/>
<circle cx="131.10" cy="176.95" r="1.325" fill="#c4a24e"/>
<path d="M129.20 171.48L130.72 173.00L129.20 174.52L127.68 173.00Z" stroke="none" stroke-width="1" fill="#8a6c94" />
<line x1="142.50" y1="196.70" x2="142.50" y2="188.80" stroke="#7a8a8a" stroke-width="0.45"/>
<line x1="142.50" y1="188.80" x2="140.60" y2="184.85" stroke="#7a8a8a" stroke-width="0.45"/>
<line x1="142.50" y1="188.80" x2="144.40" y2="184.85" stroke="#7a8a8a" stroke-width="0.45"/>
<line x1="140.60" y1="184.85" x2="140.60" y2="180.90" stroke="#7a8a8a" stroke-width="0.45"/>
<line x1="140.60" y1="180.90" x2="140.60" y2="176.95" stroke="#7a8a8a" stroke-width="0.45"/>
<line x1="144.40" y1="184.85" x2="144.40" y2="180.90" stroke="#7a8a8a" stroke-width="0.45"/>
<line x1="144.40" y1="180.90" x2="144.40" y2="176.95" stroke="#7a8a8a" stroke-width="0.45"/>
<line x1="142.50" y1="196.70" x2="146.10" y2="196.70" stroke="#8a8a8a" stroke-width="0.5"/>
<path d="M145.70 195.80L147.10 196.70L145.70 197.60Z" stroke="none" stroke-width="1" fill="#e08a5a" />
<rect x="141.18" y="195.38" width="2.65" height="2.65" fill="#2f68a6"/>
<rect x="141.18" y="191.43" width="2.65" height="2.65" fill="#2f68a6"/>
<circle cx="142.50" cy="188.80" r="1.325" fill="#3a8c58"/>
<circle cx="140.60" cy="184.85" r="1.325" fill="#3a8c58"/>
<circle cx="144.40" cy="184.85" r="1.325" fill="#3a8c58"/>
<rect x="139.28" y="179.57" width="2.65" height="2.65" fill="#2f68a6"/>
<rect x="143.08" y="179.57" width="2.65" height="2.65" fill="#2f68a6"/>
<circle cx="140.60" cy="176.95" r="1.325" fill="#c4a24e"/>
<circle cx="144.40" cy="176.95" r="1.325" fill="#c4a24e"/>
<line x1="151.50" y1="234.00" x2="151.50" y2="226.10" stroke="#7a8a8a" stroke-width="0.45"/>
<line x1="151.50" y1="226.10" x2="149.60" y2="222.15" stroke="#7a8a8a" stroke-width="0.45"/>
<line x1="151.50" y1="226.10" x2="153.40" y2="222.15" stroke="#7a8a8a" stroke-width="0.45"/>
<line x1="149.60" y1="222.15" x2="149.60" y2="218.20" stroke="#7a8a8a" stroke-width="0.45"/>
<line x1="149.60" y1="218.20" x2="149.60" y2="214.25" stroke="#7a8a8a" stroke-width="0.45"/>
<line x1="153.40" y1="222.15" x2="153.40" y2="218.20" stroke="#7a8a8a" stroke-width="0.45"/>
<line x1="153.40" y1="218.20" x2="153.40" y2="214.25" stroke="#7a8a8a" stroke-width="0.45"/>
<rect x="150.18" y="232.68" width="2.65" height="2.65" fill="#2f68a6"/>
<rect x="150.18" y="228.73" width="2.65" height="2.65" fill="#2f68a6"/>
<circle cx="151.50" cy="226.10" r="1.325" fill="#3a8c58"/>
<circle cx="149.60" cy="222.15" r="1.325" fill="#3a8c58"/>
<circle cx="153.40" cy="222.15" r="1.325" fill="#3a8c58"/>
<rect x="148.28" y="216.88" width="2.65" height="2.65" fill="#2f68a6"/>
<rect x="152.08" y="216.88" width="2.65" height="2.65" fill="#2f68a6"/>
<circle cx="149.60" cy="214.25" r="1.325" fill="#c4a24e"/>
<circle cx="153.40" cy="214.25" r="1.325" fill="#c4a24e"/>
<path d="M151.50 208.78L153.02 210.30L151.50 211.82L149.98 210.30Z" stroke="none" stroke-width="1" fill="#8a6c94" />
<line x1="170.00" y1="190.30" x2="170.00" y2="182.40" stroke="#7a8a8a" stroke-width="0.45"/>
<line x1="170.00" y1="182.40" x2="168.10" y2="178.45" stroke="#7a8a8a" stroke-width="0.45"/>
<line x1="170.00" y1="182.40" x2="171.90" y2="178.45" stroke="#7a8a8a" stroke-width="0.45"/>
<line x1="168.10" y1="178.45" x2="168.10" y2="174.50" stroke="#7a8a8a" stroke-width="0.45"/>
<line x1="168.10" y1="174.50" x2="168.10" y2="170.55" stroke="#7a8a8a" stroke-width="0.45"/>
<line x1="171.90" y1="178.45" x2="171.90" y2="174.50" stroke="#7a8a8a" stroke-width="0.45"/>
<line x1="171.90" y1="174.50" x2="171.90" y2="170.55" stroke="#7a8a8a" stroke-width="0.45"/>
<line x1="170.00" y1="190.30" x2="173.60" y2="190.30" stroke="#8a8a8a" stroke-width="0.5"/>
<path d="M173.20 189.40L174.60 190.30L173.20 191.20Z" stroke="none" stroke-width="1" fill="#e08a5a" />
<rect x="168.68" y="188.98" width="2.65" height="2.65" fill="#2f68a6"/>
<rect x="168.68" y="185.03" width="2.65" height="2.65" fill="#2f68a6"/>
<circle cx="170.00" cy="182.40" r="1.325" fill="#3a8c58"/>
<circle cx="168.10" cy="178.45" r="1.325" fill="#3a8c58"/>
<circle cx="171.90" cy="178.45" r="1.325" fill="#3a8c58"/>
<rect x="166.78" y="173.18" width="2.65" height="2.65" fill="#2f68a6"/>
<rect x="170.58" y="173.18" width="2.65" height="2.65" fill="#2f68a6"/>
<circle cx="168.10" cy="170.55" r="1.325" fill="#c4a24e"/>
<circle cx="171.90" cy="170.55" r="1.325" fill="#c4a24e"/>
<path d="M170.00 165.08L171.52 166.60L170.00 168.12L168.48 166.60Z" stroke="none" stroke-width="1" fill="#8a6c94" />
<line x1="170.60" y1="227.90" x2="170.60" y2="220.00" stroke="#7a8a8a" stroke-width="0.45"/>
<line x1="170.60" y1="220.00" x2="167.50" y2="216.05" stroke="#7a8a8a" stroke-width="0.45"/>
<line x1="170.60" y1="220.00" x2="173.70" y2="216.05" stroke="#7a8a8a" stroke-width="0.45"/>
<line x1="167.50" y1="216.05" x2="166.80" y2="212.10" stroke="#7a8a8a" stroke-width="0.45"/>
<line x1="166.80" y1="212.10" x2="166.80" y2="208.15" stroke="#7a8a8a" stroke-width="0.45"/>
<line x1="173.70" y1="216.05" x2="170.60" y2="212.10" stroke="#7a8a8a" stroke-width="0.45"/>
<line x1="170.60" y1="212.10" x2="170.60" y2="208.15" stroke="#7a8a8a" stroke-width="0.45"/>
<line x1="173.70" y1="216.05" x2="174.40" y2="212.10" stroke="#7a8a8a" stroke-width="0.45"/>
<line x1="174.40" y1="212.10" x2="174.40" y2="208.15" stroke="#7a8a8a" stroke-width="0.45"/>
<line x1="170.60" y1="227.90" x2="174.20" y2="227.90" stroke="#8a8a8a" stroke-width="0.5"/>
<path d="M173.80 227.00L175.20 227.90L173.80 228.80Z" stroke="none" stroke-width="1" fill="#e08a5a" />
<rect x="169.28" y="226.58" width="2.65" height="2.65" fill="#2f68a6"/>
<rect x="169.28" y="222.63" width="2.65" height="2.65" fill="#2f68a6"/>
<circle cx="170.60" cy="220.00" r="1.325" fill="#3a8c58"/>
<circle cx="167.50" cy="216.05" r="1.325" fill="#3a8c58"/>
<circle cx="173.70" cy="216.05" r="1.325" fill="#3a8c58"/>
<rect x="165.47" y="210.78" width="2.65" height="2.65" fill="#2f68a6"/>
<rect x="169.28" y="210.78" width="2.65" height="2.65" fill="#2f68a6"/>
<rect x="173.08" y="210.78" width="2.65" height="2.65" fill="#2f68a6"/>
<circle cx="166.80" cy="208.15" r="1.325" fill="#c4a24e"/>
<circle cx="170.60" cy="208.15" r="1.325" fill="#c4a24e"/>
<circle cx="174.40" cy="208.15" r="1.325" fill="#c4a24e"/>
<path d="M170.60 202.68L172.12 204.20L170.60 205.72L169.08 204.20Z" stroke="none" stroke-width="1" fill="#8a6c94" />
<line x1="180.70" y1="201.60" x2="180.70" y2="193.70" stroke="#7a8a8a" stroke-width="0.45"/>
<line x1="180.70" y1="193.70" x2="178.80" y2="189.75" stroke="#7a8a8a" stroke-width="0.45"/>
<line x1="180.70" y1="193.70" x2="182.60" y2="189.75" stroke="#7a8a8a" stroke-width="0.45"/>
<line x1="178.80" y1="189.75" x2="178.80" y2="185.80" stroke="#7a8a8a" stroke-width="0.45"/>
<line x1="178.80" y1="185.80" x2="178.80" y2="177.90" stroke="#7a8a8a" stroke-width="0.45"/>
<line x1="182.60" y1="189.75" x2="182.60" y2="185.80" stroke="#7a8a8a" stroke-width="0.45"/>
<line x1="182.60" y1="185.80" x2="182.60" y2="177.90" stroke="#7a8a8a" stroke-width="0.45"/>
<line x1="180.70" y1="201.60" x2="184.30" y2="201.60" stroke="#8a8a8a" stroke-width="0.5"/>
<path d="M183.90 200.70L185.30 201.60L183.90 202.50Z" stroke="none" stroke-width="1" fill="#e08a5a" />
<rect x="179.38" y="200.28" width="2.65" height="2.65" fill="#2f68a6"/>
<rect x="179.38" y="196.33" width="2.65" height="2.65" fill="#2f68a6"/>
<circle cx="180.70" cy="193.70" r="1.325" fill="#3a8c58"/>
<circle cx="178.80" cy="189.75" r="1.325" fill="#3a8c58"/>
<circle cx="182.60" cy="189.75" r="1.325" fill="#3a8c58"/>
<rect x="177.47" y="184.47" width="2.65" height="2.65" fill="#2f68a6"/>
<rect x="181.28" y="184.47" width="2.65" height="2.65" fill="#2f68a6"/>
<circle cx="178.80" cy="181.85" r="1.325" fill="#c4a24e"/>
<circle cx="182.60" cy="181.85" r="1.325" fill="#c4a24e"/>
<path d="M178.80 176.38L180.32 177.90L178.80 179.42L177.28 177.90Z" stroke="none" stroke-width="1" fill="#8a6c94" />
<line x1="182.60" y1="182.00" x2="186.00" y2="182.00" stroke="#8a8a8a" stroke-width="0.5"/>
<path d="M185.6 181.1L187.0 182.0L185.6 182.9Z" stroke="none" stroke-width="1" fill="#e08a5a" />
<line x1="197.40" y1="195.30" x2="197.40" y2="187.40" stroke="#7a8a8a" stroke-width="0.45"/>
<line x1="197.40" y1="187.40" x2="195.50" y2="183.45" stroke="#7a8a8a" stroke-width="0.45"/>
<line x1="197.40" y1="187.40" x2="199.30" y2="183.45" stroke="#7a8a8a" stroke-width="0.45"/>
<line x1="195.50" y1="183.45" x2="195.50" y2="179.50" stroke="#7a8a8a" stroke-width="0.45"/>
<line x1="195.50" y1="179.50" x2="195.50" y2="171.60" stroke="#7a8a8a" stroke-width="0.45"/>
<line x1="199.30" y1="183.45" x2="199.30" y2="179.50" stroke="#7a8a8a" stroke-width="0.45"/>
<line x1="199.30" y1="179.50" x2="199.30" y2="171.60" stroke="#7a8a8a" stroke-width="0.45"/>
<line x1="197.40" y1="195.30" x2="201.00" y2="195.30" stroke="#8a8a8a" stroke-width="0.5"/>
<path d="M200.60 194.40L202.00 195.30L200.60 196.20Z" stroke="none" stroke-width="1" fill="#e08a5a" />
<rect x="196.08" y="193.98" width="2.65" height="2.65" fill="#2f68a6"/>
<rect x="196.08" y="190.03" width="2.65" height="2.65" fill="#2f68a6"/>
<circle cx="197.40" cy="187.40" r="1.325" fill="#3a8c58"/>
<circle cx="195.50" cy="183.45" r="1.325" fill="#3a8c58"/>
<circle cx="199.30" cy="183.45" r="1.325" fill="#3a8c58"/>
<rect x="194.18" y="178.18" width="2.65" height="2.65" fill="#2f68a6"/>
<rect x="197.98" y="178.18" width="2.65" height="2.65" fill="#2f68a6"/>
<circle cx="195.50" cy="175.55" r="1.325" fill="#c4a24e"/>
<circle cx="199.30" cy="175.55" r="1.325" fill="#c4a24e"/>
<path d="M195.50 170.08L197.02 171.60L195.50 173.12L193.98 171.60Z" stroke="none" stroke-width="1" fill="#8a6c94" />
<path d="M199.30 170.08L200.82 171.60L199.30 173.12L197.78 171.60Z" stroke="none" stroke-width="1" fill="#8a6c94" />
<line x1="208.60" y1="195.30" x2="208.60" y2="187.40" stroke="#7a8a8a" stroke-width="0.45"/>
<line x1="208.60" y1="187.40" x2="206.70" y2="183.45" stroke="#7a8a8a" stroke-width="0.45"/>
<line x1="208.60" y1="187.40" x2="210.50" y2="183.45" stroke="#7a8a8a" stroke-width="0.45"/>
<line x1="206.70" y1="183.45" x2="206.70" y2="179.50" stroke="#7a8a8a" stroke-width="0.45"/>
<line x1="206.70" y1="179.50" x2="206.70" y2="171.60" stroke="#7a8a8a" stroke-width="0.45"/>
<line x1="210.50" y1="183.45" x2="210.50" y2="179.50" stroke="#7a8a8a" stroke-width="0.45"/>
<line x1="210.50" y1="179.50" x2="210.50" y2="171.60" stroke="#7a8a8a" stroke-width="0.45"/>
<line x1="208.60" y1="195.30" x2="212.20" y2="195.30" stroke="#8a8a8a" stroke-width="0.5"/>
<path d="M211.80 194.40L213.20 195.30L211.80 196.20Z" stroke="none" stroke-width="1" fill="#e08a5a" />
<rect x="207.28" y="193.98" width="2.65" height="2.65" fill="#2f68a6"/>
<rect x="207.28" y="190.03" width="2.65" height="2.65" fill="#2f68a6"/>
<circle cx="208.60" cy="187.40" r="1.325" fill="#3a8c58"/>
<circle cx="206.70" cy="183.45" r="1.325" fill="#3a8c58"/>
<circle cx="210.50" cy="183.45" r="1.325" fill="#3a8c58"/>
<rect x="205.38" y="178.18" width="2.65" height="2.65" fill="#2f68a6"/>
<rect x="209.18" y="178.18" width="2.65" height="2.65" fill="#2f68a6"/>
<circle cx="206.70" cy="175.55" r="1.325" fill="#c4a24e"/>
<circle cx="210.50" cy="175.55" r="1.325" fill="#c4a24e"/>
<path d="M206.70 170.08L208.22 171.60L206.70 173.12L205.18 171.60Z" stroke="none" stroke-width="1" fill="#8a6c94" />
<path d="M210.50 170.08L212.02 171.60L210.50 173.12L208.98 171.60Z" stroke="none" stroke-width="1" fill="#8a6c94" />
<line x1="218.00" y1="195.30" x2="218.00" y2="187.40" stroke="#7a8a8a" stroke-width="0.45"/>
<line x1="218.00" y1="187.40" x2="216.10" y2="183.45" stroke="#7a8a8a" stroke-width="0.45"/>
<line x1="218.00" y1="187.40" x2="219.90" y2="183.45" stroke="#7a8a8a" stroke-width="0.45"/>
<line x1="216.10" y1="183.45" x2="216.10" y2="179.50" stroke="#7a8a8a" stroke-width="0.45"/>
<line x1="216.10" y1="179.50" x2="216.10" y2="171.60" stroke="#7a8a8a" stroke-width="0.45"/>
<line x1="219.90" y1="183.45" x2="219.90" y2="179.50" stroke="#7a8a8a" stroke-width="0.45"/>
<line x1="219.90" y1="179.50" x2="219.90" y2="171.60" stroke="#7a8a8a" stroke-width="0.45"/>
<line x1="218.00" y1="195.30" x2="221.60" y2="195.30" stroke="#8a8a8a" stroke-width="0.5"/>
<path d="M221.20 194.40L222.60 195.30L221.20 196.20Z" stroke="none" stroke-width="1" fill="#e08a5a" />
<rect x="216.68" y="193.98" width="2.65" height="2.65" fill="#2f68a6"/>
<rect x="216.68" y="190.03" width="2.65" height="2.65" fill="#2f68a6"/>
<circle cx="218.00" cy="187.40" r="1.325" fill="#3a8c58"/>
<circle cx="216.10" cy="183.45" r="1.325" fill="#3a8c58"/>
<circle cx="219.90" cy="183.45" r="1.325" fill="#3a8c58"/>
<rect x="214.78" y="178.18" width="2.65" height="2.65" fill="#2f68a6"/>
<rect x="218.58" y="178.18" width="2.65" height="2.65" fill="#2f68a6"/>
<circle cx="216.10" cy="175.55" r="1.325" fill="#c4a24e"/>
<circle cx="219.90" cy="175.55" r="1.325" fill="#c4a24e"/>
<path d="M216.10 170.08L217.62 171.60L216.10 173.12L214.58 171.60Z" stroke="none" stroke-width="1" fill="#8a6c94" />
<path d="M219.90 170.08L221.42 171.60L219.90 173.12L218.38 171.60Z" stroke="none" stroke-width="1" fill="#8a6c94" />
<line x1="234.40" y1="199.00" x2="234.40" y2="191.10" stroke="#7a8a8a" stroke-width="0.45"/>
<line x1="234.40" y1="191.10" x2="231.30" y2="187.15" stroke="#7a8a8a" stroke-width="0.45"/>
<line x1="234.40" y1="191.10" x2="237.50" y2="187.15" stroke="#7a8a8a" stroke-width="0.45"/>
<line x1="231.30" y1="187.15" x2="230.60" y2="183.20" stroke="#7a8a8a" stroke-width="0.45"/>
<line x1="230.60" y1="183.20" x2="230.60" y2="175.30" stroke="#7a8a8a" stroke-width="0.45"/>
<line x1="237.50" y1="187.15" x2="234.40" y2="183.20" stroke="#7a8a8a" stroke-width="0.45"/>
<line x1="234.40" y1="183.20" x2="234.40" y2="175.30" stroke="#7a8a8a" stroke-width="0.45"/>
<line x1="237.50" y1="187.15" x2="238.20" y2="183.20" stroke="#7a8a8a" stroke-width="0.45"/>
<line x1="238.20" y1="183.20" x2="238.20" y2="175.30" stroke="#7a8a8a" stroke-width="0.45"/>
<line x1="234.40" y1="199.00" x2="238.00" y2="199.00" stroke="#8a8a8a" stroke-width="0.5"/>
<path d="M237.60 198.10L239.00 199.00L237.60 199.90Z" stroke="none" stroke-width="1" fill="#e08a5a" />
<rect x="233.08" y="197.68" width="2.65" height="2.65" fill="#2f68a6"/>
<rect x="233.08" y="193.73" width="2.65" height="2.65" fill="#2f68a6"/>
<circle cx="234.40" cy="191.10" r="1.325" fill="#3a8c58"/>
<circle cx="231.30" cy="187.15" r="1.325" fill="#3a8c58"/>
<circle cx="237.50" cy="187.15" r="1.325" fill="#3a8c58"/>
<rect x="229.28" y="181.88" width="2.65" height="2.65" fill="#2f68a6"/>
<rect x="233.08" y="181.88" width="2.65" height="2.65" fill="#2f68a6"/>
<rect x="236.88" y="181.88" width="2.65" height="2.65" fill="#2f68a6"/>
<circle cx="230.60" cy="179.25" r="1.325" fill="#c4a24e"/>
<circle cx="234.40" cy="179.25" r="1.325" fill="#c4a24e"/>
<circle cx="238.20" cy="179.25" r="1.325" fill="#c4a24e"/>
<path d="M230.60 173.78L232.12 175.30L230.60 176.82L229.08 175.30Z" stroke="none" stroke-width="1" fill="#8a6c94" />
<path d="M234.40 173.78L235.92 175.30L234.40 176.82L232.88 175.30Z" stroke="none" stroke-width="1" fill="#8a6c94" />
<line x1="245.80" y1="199.00" x2="245.80" y2="191.10" stroke="#7a8a8a" stroke-width="0.45"/>
<line x1="245.80" y1="191.10" x2="242.70" y2="187.15" stroke="#7a8a8a" stroke-width="0.45"/>
<line x1="245.80" y1="191.10" x2="248.90" y2="187.15" stroke="#7a8a8a" stroke-width="0.45"/>
<line x1="242.70" y1="187.15" x2="242.00" y2="183.20" stroke="#7a8a8a" stroke-width="0.45"/>
<line x1="242.00" y1="183.20" x2="242.00" y2="175.30" stroke="#7a8a8a" stroke-width="0.45"/>
<line x1="248.90" y1="187.15" x2="245.80" y2="183.20" stroke="#7a8a8a" stroke-width="0.45"/>
<line x1="245.80" y1="183.20" x2="245.80" y2="175.30" stroke="#7a8a8a" stroke-width="0.45"/>
<line x1="248.90" y1="187.15" x2="249.60" y2="183.20" stroke="#7a8a8a" stroke-width="0.45"/>
<line x1="249.60" y1="183.20" x2="249.60" y2="175.30" stroke="#7a8a8a" stroke-width="0.45"/>
<line x1="245.80" y1="199.00" x2="249.40" y2="199.00" stroke="#8a8a8a" stroke-width="0.5"/>
<path d="M249.00 198.10L250.40 199.00L249.00 199.90Z" stroke="none" stroke-width="1" fill="#e08a5a" />
<rect x="244.48" y="197.68" width="2.65" height="2.65" fill="#2f68a6"/>
<rect x="244.48" y="193.73" width="2.65" height="2.65" fill="#2f68a6"/>
<circle cx="245.80" cy="191.10" r="1.325" fill="#3a8c58"/>
<circle cx="242.70" cy="187.15" r="1.325" fill="#3a8c58"/>
<circle cx="248.90" cy="187.15" r="1.325" fill="#3a8c58"/>
<rect x="240.68" y="181.88" width="2.65" height="2.65" fill="#2f68a6"/>
<rect x="244.48" y="181.88" width="2.65" height="2.65" fill="#2f68a6"/>
<rect x="248.28" y="181.88" width="2.65" height="2.65" fill="#2f68a6"/>
<circle cx="242.00" cy="179.25" r="1.325" fill="#c4a24e"/>
<circle cx="245.80" cy="179.25" r="1.325" fill="#c4a24e"/>
<circle cx="249.60" cy="179.25" r="1.325" fill="#c4a24e"/>
<path d="M242.00 173.78L243.52 175.30L242.00 176.82L240.48 175.30Z" stroke="none" stroke-width="1" fill="#8a6c94" />
<path d="M245.80 173.78L247.32 175.30L245.80 176.82L244.28 175.30Z" stroke="none" stroke-width="1" fill="#8a6c94" />
<path d="M249.60 173.78L251.12 175.30L249.60 176.82L248.08 175.30Z" stroke="none" stroke-width="1" fill="#8a6c94" />
<line x1="259.80" y1="212.10" x2="259.80" y2="204.20" stroke="#7a8a8a" stroke-width="0.45"/>
<line x1="259.80" y1="204.20" x2="256.70" y2="200.25" stroke="#7a8a8a" stroke-width="0.45"/>
<line x1="259.80" y1="204.20" x2="262.90" y2="200.25" stroke="#7a8a8a" stroke-width="0.45"/>
<line x1="256.70" y1="200.25" x2="256.00" y2="196.30" stroke="#7a8a8a" stroke-width="0.45"/>
<line x1="256.00" y1="196.30" x2="256.00" y2="188.40" stroke="#7a8a8a" stroke-width="0.45"/>
<line x1="262.90" y1="200.25" x2="259.80" y2="196.30" stroke="#7a8a8a" stroke-width="0.45"/>
<line x1="259.80" y1="196.30" x2="259.80" y2="188.40" stroke="#7a8a8a" stroke-width="0.45"/>
<line x1="262.90" y1="200.25" x2="263.60" y2="196.30" stroke="#7a8a8a" stroke-width="0.45"/>
<line x1="263.60" y1="196.30" x2="263.60" y2="188.40" stroke="#7a8a8a" stroke-width="0.45"/>
<line x1="259.80" y1="212.10" x2="263.40" y2="212.10" stroke="#8a8a8a" stroke-width="0.5"/>
<path d="M263.00 211.20L264.40 212.10L263.00 213.00Z" stroke="none" stroke-width="1" fill="#e08a5a" />
<rect x="258.48" y="210.78" width="2.65" height="2.65" fill="#2f68a6"/>
<rect x="258.48" y="206.83" width="2.65" height="2.65" fill="#2f68a6"/>
<circle cx="259.80" cy="204.20" r="1.325" fill="#3a8c58"/>
<circle cx="256.70" cy="200.25" r="1.325" fill="#3a8c58"/>
<circle cx="262.90" cy="200.25" r="1.325" fill="#3a8c58"/>
<rect x="254.68" y="194.97" width="2.65" height="2.65" fill="#2f68a6"/>
<rect x="258.48" y="194.97" width="2.65" height="2.65" fill="#2f68a6"/>
<rect x="262.28" y="194.97" width="2.65" height="2.65" fill="#2f68a6"/>
<circle cx="256.00" cy="192.35" r="1.325" fill="#c4a24e"/>
<circle cx="259.80" cy="192.35" r="1.325" fill="#c4a24e"/>
<circle cx="263.60" cy="192.35" r="1.325" fill="#c4a24e"/>
<path d="M256.00 186.88L257.52 188.40L256.00 189.92L254.48 188.40Z" stroke="none" stroke-width="1" fill="#8a6c94" />
<path d="M259.80 186.88L261.32 188.40L259.80 189.92L258.28 188.40Z" stroke="none" stroke-width="1" fill="#8a6c94" />
<path d="M263.60 186.88L265.12 188.40L263.60 189.92L262.08 188.40Z" stroke="none" stroke-width="1" fill="#8a6c94" />
<line x1="274.20" y1="207.10" x2="274.20" y2="199.20" stroke="#7a8a8a" stroke-width="0.45"/>
<line x1="274.20" y1="199.20" x2="271.10" y2="195.25" stroke="#7a8a8a" stroke-width="0.45"/>
<line x1="274.20" y1="199.20" x2="277.30" y2="195.25" stroke="#7a8a8a" stroke-width="0.45"/>
<line x1="271.10" y1="195.25" x2="270.40" y2="191.30" stroke="#7a8a8a" stroke-width="0.45"/>
<line x1="270.40" y1="191.30" x2="270.40" y2="183.40" stroke="#7a8a8a" stroke-width="0.45"/>
<line x1="277.30" y1="195.25" x2="274.20" y2="191.30" stroke="#7a8a8a" stroke-width="0.45"/>
<line x1="274.20" y1="191.30" x2="274.20" y2="183.40" stroke="#7a8a8a" stroke-width="0.45"/>
<line x1="277.30" y1="195.25" x2="278.00" y2="191.30" stroke="#7a8a8a" stroke-width="0.45"/>
<line x1="278.00" y1="191.30" x2="278.00" y2="183.40" stroke="#7a8a8a" stroke-width="0.45"/>
<rect x="272.88" y="205.78" width="2.65" height="2.65" fill="#2f68a6"/>
<rect x="272.88" y="201.83" width="2.65" height="2.65" fill="#2f68a6"/>
<circle cx="274.20" cy="199.20" r="1.325" fill="#3a8c58"/>
<circle cx="271.10" cy="195.25" r="1.325" fill="#3a8c58"/>
<circle cx="277.30" cy="195.25" r="1.325" fill="#3a8c58"/>
<rect x="269.07" y="189.97" width="2.65" height="2.65" fill="#2f68a6"/>
<rect x="272.88" y="189.97" width="2.65" height="2.65" fill="#2f68a6"/>
<rect x="276.68" y="189.97" width="2.65" height="2.65" fill="#2f68a6"/>
<circle cx="270.40" cy="187.35" r="1.325" fill="#c4a24e"/>
<circle cx="274.20" cy="187.35" r="1.325" fill="#c4a24e"/>
<circle cx="278.00" cy="187.35" r="1.325" fill="#c4a24e"/>
<path d="M270.40 181.88L271.92 183.40L270.40 184.92L268.88 183.40Z" stroke="none" stroke-width="1" fill="#8a6c94" />
<path d="M274.20 181.88L275.72 183.40L274.20 184.92L272.68 183.40Z" stroke="none" stroke-width="1" fill="#8a6c94" />
<path d="M278.00 181.88L279.52 183.40L278.00 184.92L276.48 183.40Z" stroke="none" stroke-width="1" fill="#8a6c94" />
<line x1="287.50" y1="202.90" x2="287.50" y2="195.00" stroke="#7a8a8a" stroke-width="0.45"/>
<line x1="287.50" y1="195.00" x2="284.40" y2="191.05" stroke="#7a8a8a" stroke-width="0.45"/>
<line x1="287.50" y1="195.00" x2="290.60" y2="191.05" stroke="#7a8a8a" stroke-width="0.45"/>
<line x1="284.40" y1="191.05" x2="283.70" y2="187.10" stroke="#7a8a8a" stroke-width="0.45"/>
<line x1="283.70" y1="187.10" x2="283.70" y2="179.20" stroke="#7a8a8a" stroke-width="0.45"/>
<line x1="290.60" y1="191.05" x2="287.50" y2="187.10" stroke="#7a8a8a" stroke-width="0.45"/>
<line x1="287.50" y1="187.10" x2="287.50" y2="179.20" stroke="#7a8a8a" stroke-width="0.45"/>
<line x1="290.60" y1="191.05" x2="291.30" y2="187.10" stroke="#7a8a8a" stroke-width="0.45"/>
<line x1="291.30" y1="187.10" x2="291.30" y2="179.20" stroke="#7a8a8a" stroke-width="0.45"/>
<line x1="287.50" y1="202.90" x2="291.10" y2="202.90" stroke="#8a8a8a" stroke-width="0.5"/>
<path d="M290.70 202.00L292.10 202.90L290.70 203.80Z" stroke="none" stroke-width="1" fill="#e08a5a" />
<rect x="286.18" y="201.58" width="2.65" height="2.65" fill="#2f68a6"/>
<rect x="286.18" y="197.63" width="2.65" height="2.65" fill="#2f68a6"/>
<circle cx="287.50" cy="195.00" r="1.325" fill="#3a8c58"/>
<circle cx="284.40" cy="191.05" r="1.325" fill="#3a8c58"/>
<circle cx="290.60" cy="191.05" r="1.325" fill="#3a8c58"/>
<rect x="282.38" y="185.78" width="2.65" height="2.65" fill="#2f68a6"/>
<rect x="286.18" y="185.78" width="2.65" height="2.65" fill="#2f68a6"/>
<rect x="289.98" y="185.78" width="2.65" height="2.65" fill="#2f68a6"/>
<circle cx="283.70" cy="183.15" r="1.325" fill="#c4a24e"/>
<circle cx="287.50" cy="183.15" r="1.325" fill="#c4a24e"/>
<circle cx="291.30" cy="183.15" r="1.325" fill="#c4a24e"/>
<path d="M283.70 177.68L285.22 179.20L283.70 180.72L282.18 179.20Z" stroke="none" stroke-width="1" fill="#8a6c94" />
<path d="M287.50 177.68L289.02 179.20L287.50 180.72L285.98 179.20Z" stroke="none" stroke-width="1" fill="#8a6c94" />
<path d="M291.30 177.68L292.82 179.20L291.30 180.72L289.78 179.20Z" stroke="none" stroke-width="1" fill="#8a6c94" />
<line x1="201.40" y1="239.40" x2="201.40" y2="231.50" stroke="#7a8a8a" stroke-width="0.45"/>
<line x1="201.40" y1="231.50" x2="198.30" y2="227.55" stroke="#7a8a8a" stroke-width="0.45"/>
<line x1="201.40" y1="231.50" x2="204.50" y2="227.55" stroke="#7a8a8a" stroke-width="0.45"/>
<line x1="198.30" y1="227.55" x2="197.60" y2="223.60" stroke="#7a8a8a" stroke-width="0.45"/>
<line x1="197.60" y1="223.60" x2="197.60" y2="215.70" stroke="#7a8a8a" stroke-width="0.45"/>
<line x1="204.50" y1="227.55" x2="201.40" y2="223.60" stroke="#7a8a8a" stroke-width="0.45"/>
<line x1="201.40" y1="223.60" x2="201.40" y2="215.70" stroke="#7a8a8a" stroke-width="0.45"/>
<line x1="204.50" y1="227.55" x2="205.20" y2="223.60" stroke="#7a8a8a" stroke-width="0.45"/>
<line x1="205.20" y1="223.60" x2="205.20" y2="215.70" stroke="#7a8a8a" stroke-width="0.45"/>
<rect x="200.08" y="238.08" width="2.65" height="2.65" fill="#2f68a6"/>
<rect x="200.08" y="234.13" width="2.65" height="2.65" fill="#2f68a6"/>
<circle cx="201.40" cy="231.50" r="1.325" fill="#3a8c58"/>
<circle cx="198.30" cy="227.55" r="1.325" fill="#3a8c58"/>
<circle cx="204.50" cy="227.55" r="1.325" fill="#3a8c58"/>
<rect x="196.28" y="222.28" width="2.65" height="2.65" fill="#2f68a6"/>
<rect x="200.08" y="222.28" width="2.65" height="2.65" fill="#2f68a6"/>
<rect x="203.88" y="222.28" width="2.65" height="2.65" fill="#2f68a6"/>
<circle cx="197.60" cy="219.65" r="1.325" fill="#c4a24e"/>
<circle cx="201.40" cy="219.65" r="1.325" fill="#c4a24e"/>
<circle cx="205.20" cy="219.65" r="1.325" fill="#c4a24e"/>
<path d="M197.60 214.18L199.12 215.70L197.60 217.22L196.08 215.70Z" stroke="none" stroke-width="1" fill="#8a6c94" />
<path d="M201.40 214.18L202.92 215.70L201.40 217.22L199.88 215.70Z" stroke="none" stroke-width="1" fill="#8a6c94" />
<path d="M205.20 214.18L206.72 215.70L205.20 217.22L203.68 215.70Z" stroke="none" stroke-width="1" fill="#8a6c94" />
<line x1="226.10" y1="243.00" x2="226.10" y2="235.10" stroke="#7a8a8a" stroke-width="0.45"/>
<line x1="226.10" y1="235.10" x2="223.00" y2="231.15" stroke="#7a8a8a" stroke-width="0.45"/>
<line x1="226.10" y1="235.10" x2="229.20" y2="231.15" stroke="#7a8a8a" stroke-width="0.45"/>
<line x1="223.00" y1="231.15" x2="222.30" y2="227.20" stroke="#7a8a8a" stroke-width="0.45"/>
<line x1="222.30" y1="227.20" x2="222.30" y2="219.30" stroke="#7a8a8a" stroke-width="0.45"/>
<line x1="229.20" y1="231.15" x2="226.10" y2="227.20" stroke="#7a8a8a" stroke-width="0.45"/>
<line x1="226.10" y1="227.20" x2="226.10" y2="219.30" stroke="#7a8a8a" stroke-width="0.45"/>
<line x1="229.20" y1="231.15" x2="229.90" y2="227.20" stroke="#7a8a8a" stroke-width="0.45"/>
<line x1="229.90" y1="227.20" x2="229.90" y2="219.30" stroke="#7a8a8a" stroke-width="0.45"/>
<rect x="224.78" y="241.68" width="2.65" height="2.65" fill="#2f68a6"/>
<rect x="224.78" y="237.73" width="2.65" height="2.65" fill="#2f68a6"/>
<circle cx="226.10" cy="235.10" r="1.325" fill="#3a8c58"/>
<circle cx="223.00" cy="231.15" r="1.325" fill="#3a8c58"/>
<circle cx="229.20" cy="231.15" r="1.325" fill="#3a8c58"/>
<rect x="220.97" y="225.88" width="2.65" height="2.65" fill="#2f68a6"/>
<rect x="224.78" y="225.88" width="2.65" height="2.65" fill="#2f68a6"/>
<rect x="228.58" y="225.88" width="2.65" height="2.65" fill="#2f68a6"/>
<circle cx="222.30" cy="223.25" r="1.325" fill="#c4a24e"/>
<circle cx="226.10" cy="223.25" r="1.325" fill="#c4a24e"/>
<circle cx="229.90" cy="223.25" r="1.325" fill="#c4a24e"/>
<path d="M222.30 217.78L223.82 219.30L222.30 220.82L220.78 219.30Z" stroke="none" stroke-width="1" fill="#8a6c94" />
<path d="M226.10 217.78L227.62 219.30L226.10 220.82L224.58 219.30Z" stroke="none" stroke-width="1" fill="#8a6c94" />
<path d="M229.90 217.78L231.42 219.30L229.90 220.82L228.38 219.30Z" stroke="none" stroke-width="1" fill="#8a6c94" />
<line x1="255.60" y1="249.00" x2="255.60" y2="241.10" stroke="#7a8a8a" stroke-width="0.45"/>
<line x1="255.60" y1="241.10" x2="251.80" y2="237.15" stroke="#7a8a8a" stroke-width="0.45"/>
<line x1="255.60" y1="241.10" x2="259.40" y2="237.15" stroke="#7a8a8a" stroke-width="0.45"/>
<line x1="251.80" y1="237.15" x2="249.90" y2="233.20" stroke="#7a8a8a" stroke-width="0.45"/>
<line x1="249.90" y1="233.20" x2="249.90" y2="225.30" stroke="#7a8a8a" stroke-width="0.45"/>
<line x1="251.80" y1="237.15" x2="253.70" y2="233.20" stroke="#7a8a8a" stroke-width="0.45"/>
<line x1="253.70" y1="233.20" x2="253.70" y2="225.30" stroke="#7a8a8a" stroke-width="0.45"/>
<line x1="259.40" y1="237.15" x2="257.50" y2="233.20" stroke="#7a8a8a" stroke-width="0.45"/>
<line x1="257.50" y1="233.20" x2="257.50" y2="225.30" stroke="#7a8a8a" stroke-width="0.45"/>
<line x1="259.40" y1="237.15" x2="261.30" y2="233.20" stroke="#7a8a8a" stroke-width="0.45"/>
<line x1="261.30" y1="233.20" x2="261.30" y2="225.30" stroke="#7a8a8a" stroke-width="0.45"/>
<rect x="254.28" y="247.68" width="2.65" height="2.65" fill="#2f68a6"/>
<rect x="254.28" y="243.73" width="2.65" height="2.65" fill="#2f68a6"/>
<circle cx="255.60" cy="241.10" r="1.325" fill="#3a8c58"/>
<circle cx="251.80" cy="237.15" r="1.325" fill="#3a8c58"/>
<circle cx="259.40" cy="237.15" r="1.325" fill="#3a8c58"/>
<rect x="248.58" y="231.88" width="2.65" height="2.65" fill="#2f68a6"/>
<rect x="252.38" y="231.88" width="2.65" height="2.65" fill="#2f68a6"/>
<rect x="256.18" y="231.88" width="2.65" height="2.65" fill="#2f68a6"/>
<rect x="259.98" y="231.88" width="2.65" height="2.65" fill="#2f68a6"/>
<circle cx="249.90" cy="229.25" r="1.325" fill="#c4a24e"/>
<circle cx="253.70" cy="229.25" r="1.325" fill="#c4a24e"/>
<circle cx="257.50" cy="229.25" r="1.325" fill="#c4a24e"/>
<circle cx="261.30" cy="229.25" r="1.325" fill="#c4a24e"/>
<path d="M249.90 223.78L251.42 225.30L249.90 226.82L248.38 225.30Z" stroke="none" stroke-width="1" fill="#8a6c94" />
<path d="M253.70 223.78L255.22 225.30L253.70 226.82L252.18 225.30Z" stroke="none" stroke-width="1" fill="#8a6c94" />
<path d="M257.50 223.78L259.02 225.30L257.50 226.82L255.98 225.30Z" stroke="none" stroke-width="1" fill="#8a6c94" />
<path d="M261.30 223.78L262.82 225.30L261.30 226.82L259.78 225.30Z" stroke="none" stroke-width="1" fill="#8a6c94" />
<line x1="70.00" y1="348.80" x2="70.00" y2="340.90" stroke="#7a8a8a" stroke-width="0.45"/>
<line x1="70.00" y1="340.90" x2="68.10" y2="336.95" stroke="#7a8a8a" stroke-width="0.45"/>
<line x1="70.00" y1="340.90" x2="71.90" y2="336.95" stroke="#7a8a8a" stroke-width="0.45"/>
<line x1="68.10" y1="336.95" x2="68.10" y2="333.00" stroke="#7a8a8a" stroke-width="0.45"/>
<line x1="68.10" y1="333.00" x2="68.10" y2="333.00" stroke="#7a8a8a" stroke-width="0.45"/>
<line x1="71.90" y1="336.95" x2="71.90" y2="333.00" stroke="#7a8a8a" stroke-width="0.45"/>
<line x1="71.90" y1="333.00" x2="71.90" y2="333.00" stroke="#7a8a8a" stroke-width="0.45"/>
<rect x="68.67" y="347.48" width="2.65" height="2.65" fill="#2f68a6"/>
<rect x="68.67" y="343.53" width="2.65" height="2.65" fill="#2f68a6"/>
<circle cx="70.00" cy="340.90" r="1.325" fill="#3a8c58"/>
<circle cx="68.10" cy="336.95" r="1.325" fill="#3a8c58"/>
<circle cx="71.90" cy="336.95" r="1.325" fill="#3a8c58"/>
<rect x="66.77" y="331.68" width="2.65" height="2.65" fill="#2f68a6"/>
<rect x="70.58" y="331.68" width="2.65" height="2.65" fill="#2f68a6"/>
<circle cx="70.00" cy="329.05" r="1.325" fill="#c4a24e"/>
<line x1="81.60" y1="348.80" x2="81.60" y2="340.90" stroke="#7a8a8a" stroke-width="0.45"/>
<line x1="81.60" y1="340.90" x2="79.70" y2="336.95" stroke="#7a8a8a" stroke-width="0.45"/>
<line x1="81.60" y1="340.90" x2="83.50" y2="336.95" stroke="#7a8a8a" stroke-width="0.45"/>
<line x1="79.70" y1="336.95" x2="79.70" y2="333.00" stroke="#7a8a8a" stroke-width="0.45"/>
<line x1="79.70" y1="333.00" x2="79.70" y2="333.00" stroke="#7a8a8a" stroke-width="0.45"/>
<line x1="83.50" y1="336.95" x2="83.50" y2="333.00" stroke="#7a8a8a" stroke-width="0.45"/>
<line x1="83.50" y1="333.00" x2="83.50" y2="333.00" stroke="#7a8a8a" stroke-width="0.45"/>
<line x1="81.60" y1="348.80" x2="85.20" y2="348.80" stroke="#8a8a8a" stroke-width="0.5"/>
<path d="M84.80 347.90L86.20 348.80L84.80 349.70Z" stroke="none" stroke-width="1" fill="#e08a5a" />
<rect x="80.27" y="347.48" width="2.65" height="2.65" fill="#2f68a6"/>
<rect x="80.27" y="343.53" width="2.65" height="2.65" fill="#2f68a6"/>
<circle cx="81.60" cy="340.90" r="1.325" fill="#3a8c58"/>
<circle cx="79.70" cy="336.95" r="1.325" fill="#3a8c58"/>
<circle cx="83.50" cy="336.95" r="1.325" fill="#3a8c58"/>
<rect x="78.37" y="331.68" width="2.65" height="2.65" fill="#2f68a6"/>
<rect x="82.17" y="331.68" width="2.65" height="2.65" fill="#2f68a6"/>
<line x1="89.30" y1="348.80" x2="89.30" y2="340.90" stroke="#7a8a8a" stroke-width="0.45"/>
<line x1="89.30" y1="340.90" x2="87.40" y2="336.95" stroke="#7a8a8a" stroke-width="0.45"/>
<line x1="89.30" y1="340.90" x2="91.20" y2="336.95" stroke="#7a8a8a" stroke-width="0.45"/>
<line x1="87.40" y1="336.95" x2="87.40" y2="333.00" stroke="#7a8a8a" stroke-width="0.45"/>
<line x1="87.40" y1="333.00" x2="87.40" y2="333.00" stroke="#7a8a8a" stroke-width="0.45"/>
<line x1="91.20" y1="336.95" x2="91.20" y2="333.00" stroke="#7a8a8a" stroke-width="0.45"/>
<line x1="91.20" y1="333.00" x2="91.20" y2="333.00" stroke="#7a8a8a" stroke-width="0.45"/>
<rect x="87.97" y="347.48" width="2.65" height="2.65" fill="#2f68a6"/>
<rect x="87.97" y="343.53" width="2.65" height="2.65" fill="#2f68a6"/>
<circle cx="89.30" cy="340.90" r="1.325" fill="#3a8c58"/>
<circle cx="87.40" cy="336.95" r="1.325" fill="#3a8c58"/>
<circle cx="91.20" cy="336.95" r="1.325" fill="#3a8c58"/>
<rect x="86.07" y="331.68" width="2.65" height="2.65" fill="#2f68a6"/>
<rect x="89.88" y="331.68" width="2.65" height="2.65" fill="#2f68a6"/>
<circle cx="89.30" cy="329.05" r="1.325" fill="#c4a24e"/>
<line x1="103.20" y1="353.50" x2="103.20" y2="345.60" stroke="#7a8a8a" stroke-width="0.45"/>
<line x1="103.20" y1="345.60" x2="101.30" y2="341.65" stroke="#7a8a8a" stroke-width="0.45"/>
<line x1="103.20" y1="345.60" x2="105.10" y2="341.65" stroke="#7a8a8a" stroke-width="0.45"/>
<line x1="101.30" y1="341.65" x2="101.30" y2="337.70" stroke="#7a8a8a" stroke-width="0.45"/>
<line x1="101.30" y1="337.70" x2="101.30" y2="337.70" stroke="#7a8a8a" stroke-width="0.45"/>
<line x1="105.10" y1="341.65" x2="105.10" y2="337.70" stroke="#7a8a8a" stroke-width="0.45"/>
<line x1="105.10" y1="337.70" x2="105.10" y2="337.70" stroke="#7a8a8a" stroke-width="0.45"/>
<line x1="103.20" y1="353.50" x2="106.80" y2="353.50" stroke="#8a8a8a" stroke-width="0.5"/>
<path d="M106.40 352.60L107.80 353.50L106.40 354.40Z" stroke="none" stroke-width="1" fill="#e08a5a" />
<rect x="101.88" y="352.18" width="2.65" height="2.65" fill="#2f68a6"/>
<rect x="101.88" y="348.23" width="2.65" height="2.65" fill="#2f68a6"/>
<circle cx="103.20" cy="345.60" r="1.325" fill="#3a8c58"/>
<circle cx="101.30" cy="341.65" r="1.325" fill="#3a8c58"/>
<circle cx="105.10" cy="341.65" r="1.325" fill="#3a8c58"/>
<rect x="99.97" y="336.38" width="2.65" height="2.65" fill="#2f68a6"/>
<rect x="103.78" y="336.38" width="2.65" height="2.65" fill="#2f68a6"/>
<circle cx="103.20" cy="333.75" r="1.325" fill="#c4a24e"/>
<line x1="103.80" y1="316.30" x2="103.80" y2="308.40" stroke="#7a8a8a" stroke-width="0.45"/>
<line x1="103.80" y1="308.40" x2="101.90" y2="304.45" stroke="#7a8a8a" stroke-width="0.45"/>
<line x1="103.80" y1="308.40" x2="105.70" y2="304.45" stroke="#7a8a8a" stroke-width="0.45"/>
<line x1="101.90" y1="304.45" x2="101.90" y2="300.50" stroke="#7a8a8a" stroke-width="0.45"/>
<line x1="101.90" y1="300.50" x2="101.90" y2="296.55" stroke="#7a8a8a" stroke-width="0.45"/>
<line x1="105.70" y1="304.45" x2="105.70" y2="300.50" stroke="#7a8a8a" stroke-width="0.45"/>
<line x1="105.70" y1="300.50" x2="105.70" y2="296.55" stroke="#7a8a8a" stroke-width="0.45"/>
<rect x="102.47" y="314.98" width="2.65" height="2.65" fill="#2f68a6"/>
<rect x="102.47" y="311.03" width="2.65" height="2.65" fill="#2f68a6"/>
<circle cx="103.80" cy="308.40" r="1.325" fill="#3a8c58"/>
<circle cx="101.90" cy="304.45" r="1.325" fill="#3a8c58"/>
<circle cx="105.70" cy="304.45" r="1.325" fill="#3a8c58"/>
<rect x="100.57" y="299.18" width="2.65" height="2.65" fill="#2f68a6"/>
<rect x="104.38" y="299.18" width="2.65" height="2.65" fill="#2f68a6"/>
<circle cx="101.90" cy="296.55" r="1.325" fill="#c4a24e"/>
<circle cx="105.70" cy="296.55" r="1.325" fill="#c4a24e"/>
<line x1="112.70" y1="316.30" x2="112.70" y2="308.40" stroke="#7a8a8a" stroke-width="0.45"/>
<line x1="112.70" y1="308.40" x2="110.80" y2="304.45" stroke="#7a8a8a" stroke-width="0.45"/>
<line x1="112.70" y1="308.40" x2="114.60" y2="304.45" stroke="#7a8a8a" stroke-width="0.45"/>
<line x1="110.80" y1="304.45" x2="110.80" y2="300.50" stroke="#7a8a8a" stroke-width="0.45"/>
<line x1="110.80" y1="300.50" x2="110.80" y2="296.55" stroke="#7a8a8a" stroke-width="0.45"/>
<line x1="114.60" y1="304.45" x2="114.60" y2="300.50" stroke="#7a8a8a" stroke-width="0.45"/>
<line x1="114.60" y1="300.50" x2="114.60" y2="296.55" stroke="#7a8a8a" stroke-width="0.45"/>
<rect x="111.38" y="314.98" width="2.65" height="2.65" fill="#2f68a6"/>
<rect x="111.38" y="311.03" width="2.65" height="2.65" fill="#2f68a6"/>
<circle cx="112.70" cy="308.40" r="1.325" fill="#3a8c58"/>
<circle cx="110.80" cy="304.45" r="1.325" fill="#3a8c58"/>
<circle cx="114.60" cy="304.45" r="1.325" fill="#3a8c58"/>
<rect x="109.47" y="299.18" width="2.65" height="2.65" fill="#2f68a6"/>
<rect x="113.28" y="299.18" width="2.65" height="2.65" fill="#2f68a6"/>
<circle cx="110.80" cy="296.55" r="1.325" fill="#c4a24e"/>
<circle cx="114.60" cy="296.55" r="1.325" fill="#c4a24e"/>
<path d="M112.70 291.08L114.22 292.60L112.70 294.12L111.18 292.60Z" stroke="none" stroke-width="1" fill="#8a6c94" />
<line x1="122.90" y1="299.50" x2="122.90" y2="291.60" stroke="#7a8a8a" stroke-width="0.45"/>
<line x1="122.90" y1="291.60" x2="121.00" y2="287.65" stroke="#7a8a8a" stroke-width="0.45"/>
<line x1="122.90" y1="291.60" x2="124.80" y2="287.65" stroke="#7a8a8a" stroke-width="0.45"/>
<line x1="121.00" y1="287.65" x2="121.00" y2="283.70" stroke="#7a8a8a" stroke-width="0.45"/>
<line x1="121.00" y1="283.70" x2="121.00" y2="275.80" stroke="#7a8a8a" stroke-width="0.45"/>
<line x1="124.80" y1="287.65" x2="124.80" y2="283.70" stroke="#7a8a8a" stroke-width="0.45"/>
<line x1="124.80" y1="283.70" x2="124.80" y2="275.80" stroke="#7a8a8a" stroke-width="0.45"/>
<line x1="122.90" y1="299.50" x2="126.50" y2="299.50" stroke="#8a8a8a" stroke-width="0.5"/>
<path d="M126.10 298.60L127.50 299.50L126.10 300.40Z" stroke="none" stroke-width="1" fill="#e08a5a" />
<rect x="121.58" y="298.18" width="2.65" height="2.65" fill="#2f68a6"/>
<rect x="121.58" y="294.23" width="2.65" height="2.65" fill="#2f68a6"/>
<circle cx="122.90" cy="291.60" r="1.325" fill="#3a8c58"/>
<circle cx="121.00" cy="287.65" r="1.325" fill="#3a8c58"/>
<circle cx="124.80" cy="287.65" r="1.325" fill="#3a8c58"/>
<rect x="119.67" y="282.38" width="2.65" height="2.65" fill="#2f68a6"/>
<rect x="123.48" y="282.38" width="2.65" height="2.65" fill="#2f68a6"/>
<circle cx="121.00" cy="279.75" r="1.325" fill="#c4a24e"/>
<circle cx="124.80" cy="279.75" r="1.325" fill="#c4a24e"/>
<path d="M121.00 274.28L122.52 275.80L121.00 277.32L119.48 275.80Z" stroke="none" stroke-width="1" fill="#8a6c94" />
<path d="M124.80 274.28L126.32 275.80L124.80 277.32L123.28 275.80Z" stroke="none" stroke-width="1" fill="#8a6c94" />
<line x1="130.60" y1="338.60" x2="130.60" y2="330.70" stroke="#7a8a8a" stroke-width="0.45"/>
<line x1="130.60" y1="330.70" x2="128.70" y2="326.75" stroke="#7a8a8a" stroke-width="0.45"/>
<line x1="130.60" y1="330.70" x2="132.50" y2="326.75" stroke="#7a8a8a" stroke-width="0.45"/>
<line x1="128.70" y1="326.75" x2="128.70" y2="322.80" stroke="#7a8a8a" stroke-width="0.45"/>
<line x1="128.70" y1="322.80" x2="128.70" y2="318.85" stroke="#7a8a8a" stroke-width="0.45"/>
<line x1="132.50" y1="326.75" x2="132.50" y2="322.80" stroke="#7a8a8a" stroke-width="0.45"/>
<line x1="132.50" y1="322.80" x2="132.50" y2="318.85" stroke="#7a8a8a" stroke-width="0.45"/>
<line x1="130.60" y1="338.60" x2="134.20" y2="338.60" stroke="#8a8a8a" stroke-width="0.5"/>
<path d="M133.80 337.70L135.20 338.60L133.80 339.50Z" stroke="none" stroke-width="1" fill="#e08a5a" />
<rect x="129.28" y="337.28" width="2.65" height="2.65" fill="#2f68a6"/>
<rect x="129.28" y="333.33" width="2.65" height="2.65" fill="#2f68a6"/>
<circle cx="130.60" cy="330.70" r="1.325" fill="#3a8c58"/>
<circle cx="128.70" cy="326.75" r="1.325" fill="#3a8c58"/>
<circle cx="132.50" cy="326.75" r="1.325" fill="#3a8c58"/>
<rect x="127.37" y="321.48" width="2.65" height="2.65" fill="#2f68a6"/>
<rect x="131.18" y="321.48" width="2.65" height="2.65" fill="#2f68a6"/>
<circle cx="128.70" cy="318.85" r="1.325" fill="#c4a24e"/>
<circle cx="132.50" cy="318.85" r="1.325" fill="#c4a24e"/>
<line x1="138.50" y1="301.80" x2="138.50" y2="293.90" stroke="#7a8a8a" stroke-width="0.45"/>
<line x1="138.50" y1="293.90" x2="136.60" y2="289.95" stroke="#7a8a8a" stroke-width="0.45"/>
<line x1="138.50" y1="293.90" x2="140.40" y2="289.95" stroke="#7a8a8a" stroke-width="0.45"/>
<line x1="136.60" y1="289.95" x2="136.60" y2="286.00" stroke="#7a8a8a" stroke-width="0.45"/>
<line x1="136.60" y1="286.00" x2="136.60" y2="282.05" stroke="#7a8a8a" stroke-width="0.45"/>
<line x1="140.40" y1="289.95" x2="140.40" y2="286.00" stroke="#7a8a8a" stroke-width="0.45"/>
<line x1="140.40" y1="286.00" x2="140.40" y2="282.05" stroke="#7a8a8a" stroke-width="0.45"/>
<rect x="137.18" y="300.48" width="2.65" height="2.65" fill="#2f68a6"/>
<rect x="137.18" y="296.53" width="2.65" height="2.65" fill="#2f68a6"/>
<circle cx="138.50" cy="293.90" r="1.325" fill="#3a8c58"/>
<circle cx="136.60" cy="289.95" r="1.325" fill="#3a8c58"/>
<circle cx="140.40" cy="289.95" r="1.325" fill="#3a8c58"/>
<rect x="135.28" y="284.68" width="2.65" height="2.65" fill="#2f68a6"/>
<rect x="139.08" y="284.68" width="2.65" height="2.65" fill="#2f68a6"/>
<circle cx="136.60" cy="282.05" r="1.325" fill="#c4a24e"/>
<circle cx="140.40" cy="282.05" r="1.325" fill="#c4a24e"/>
<path d="M138.50 276.58L140.02 278.10L138.50 279.62L136.98 278.10Z" stroke="none" stroke-width="1" fill="#8a6c94" />
<line x1="150.40" y1="316.00" x2="150.40" y2="308.10" stroke="#7a8a8a" stroke-width="0.45"/>
<line x1="150.40" y1="308.10" x2="148.50" y2="304.15" stroke="#7a8a8a" stroke-width="0.45"/>
<line x1="150.40" y1="308.10" x2="152.30" y2="304.15" stroke="#7a8a8a" stroke-width="0.45"/>
<line x1="148.50" y1="304.15" x2="148.50" y2="300.20" stroke="#7a8a8a" stroke-width="0.45"/>
<line x1="148.50" y1="300.20" x2="148.50" y2="296.25" stroke="#7a8a8a" stroke-width="0.45"/>
<line x1="152.30" y1="304.15" x2="152.30" y2="300.20" stroke="#7a8a8a" stroke-width="0.45"/>
<line x1="152.30" y1="300.20" x2="152.30" y2="296.25" stroke="#7a8a8a" stroke-width="0.45"/>
<line x1="150.40" y1="316.00" x2="154.00" y2="316.00" stroke="#8a8a8a" stroke-width="0.5"/>
<path d="M153.60 315.10L155.00 316.00L153.60 316.90Z" stroke="none" stroke-width="1" fill="#e08a5a" />
<rect x="149.08" y="314.68" width="2.65" height="2.65" fill="#2f68a6"/>
<rect x="149.08" y="310.73" width="2.65" height="2.65" fill="#2f68a6"/>
<circle cx="150.40" cy="308.10" r="1.325" fill="#3a8c58"/>
<circle cx="148.50" cy="304.15" r="1.325" fill="#3a8c58"/>
<circle cx="152.30" cy="304.15" r="1.325" fill="#3a8c58"/>
<rect x="147.18" y="298.88" width="2.65" height="2.65" fill="#2f68a6"/>
<rect x="150.98" y="298.88" width="2.65" height="2.65" fill="#2f68a6"/>
<circle cx="148.50" cy="296.25" r="1.325" fill="#c4a24e"/>
<circle cx="152.30" cy="296.25" r="1.325" fill="#c4a24e"/>
<path d="M150.40 290.78L151.92 292.30L150.40 293.82L148.88 292.30Z" stroke="none" stroke-width="1" fill="#8a6c94" />
<line x1="157.90" y1="343.70" x2="157.90" y2="335.80" stroke="#7a8a8a" stroke-width="0.45"/>
<line x1="157.90" y1="335.80" x2="156.00" y2="331.85" stroke="#7a8a8a" stroke-width="0.45"/>
<line x1="157.90" y1="335.80" x2="159.80" y2="331.85" stroke="#7a8a8a" stroke-width="0.45"/>
<line x1="156.00" y1="331.85" x2="156.00" y2="327.90" stroke="#7a8a8a" stroke-width="0.45"/>
<line x1="156.00" y1="327.90" x2="156.00" y2="323.95" stroke="#7a8a8a" stroke-width="0.45"/>
<line x1="159.80" y1="331.85" x2="159.80" y2="327.90" stroke="#7a8a8a" stroke-width="0.45"/>
<line x1="159.80" y1="327.90" x2="159.80" y2="323.95" stroke="#7a8a8a" stroke-width="0.45"/>
<line x1="157.90" y1="343.70" x2="161.50" y2="343.70" stroke="#8a8a8a" stroke-width="0.5"/>
<path d="M161.10 342.80L162.50 343.70L161.10 344.60Z" stroke="none" stroke-width="1" fill="#e08a5a" />
<rect x="156.58" y="342.38" width="2.65" height="2.65" fill="#2f68a6"/>
<rect x="156.58" y="338.43" width="2.65" height="2.65" fill="#2f68a6"/>
<circle cx="157.90" cy="335.80" r="1.325" fill="#3a8c58"/>
<circle cx="156.00" cy="331.85" r="1.325" fill="#3a8c58"/>
<circle cx="159.80" cy="331.85" r="1.325" fill="#3a8c58"/>
<rect x="154.68" y="326.57" width="2.65" height="2.65" fill="#2f68a6"/>
<rect x="158.48" y="326.57" width="2.65" height="2.65" fill="#2f68a6"/>
<circle cx="156.00" cy="323.95" r="1.325" fill="#c4a24e"/>
<circle cx="159.80" cy="323.95" r="1.325" fill="#c4a24e"/>
<path d="M157.90 318.48L159.42 320.00L157.90 321.52L156.38 320.00Z" stroke="none" stroke-width="1" fill="#8a6c94" />
<line x1="174.90" y1="293.80" x2="174.90" y2="285.90" stroke="#7a8a8a" stroke-width="0.45"/>
<line x1="174.90" y1="285.90" x2="173.00" y2="281.95" stroke="#7a8a8a" stroke-width="0.45"/>
<line x1="174.90" y1="285.90" x2="176.80" y2="281.95" stroke="#7a8a8a" stroke-width="0.45"/>
<line x1="173.00" y1="281.95" x2="173.00" y2="278.00" stroke="#7a8a8a" stroke-width="0.45"/>
<line x1="173.00" y1="278.00" x2="173.00" y2="270.10" stroke="#7a8a8a" stroke-width="0.45"/>
<line x1="176.80" y1="281.95" x2="176.80" y2="278.00" stroke="#7a8a8a" stroke-width="0.45"/>
<line x1="176.80" y1="278.00" x2="176.80" y2="270.10" stroke="#7a8a8a" stroke-width="0.45"/>
<line x1="174.90" y1="293.80" x2="178.50" y2="293.80" stroke="#8a8a8a" stroke-width="0.5"/>
<path d="M178.10 292.90L179.50 293.80L178.10 294.70Z" stroke="none" stroke-width="1" fill="#e08a5a" />
<rect x="173.58" y="292.48" width="2.65" height="2.65" fill="#2f68a6"/>
<rect x="173.58" y="288.53" width="2.65" height="2.65" fill="#2f68a6"/>
<circle cx="174.90" cy="285.90" r="1.325" fill="#3a8c58"/>
<circle cx="173.00" cy="281.95" r="1.325" fill="#3a8c58"/>
<circle cx="176.80" cy="281.95" r="1.325" fill="#3a8c58"/>
<rect x="171.68" y="276.68" width="2.65" height="2.65" fill="#2f68a6"/>
<rect x="175.48" y="276.68" width="2.65" height="2.65" fill="#2f68a6"/>
<circle cx="173.00" cy="274.05" r="1.325" fill="#c4a24e"/>
<circle cx="176.80" cy="274.05" r="1.325" fill="#c4a24e"/>
<path d="M173.00 268.58L174.52 270.10L173.00 271.62L171.48 270.10Z" stroke="none" stroke-width="1" fill="#8a6c94" />
<path d="M176.80 268.58L178.32 270.10L176.80 271.62L175.28 270.10Z" stroke="none" stroke-width="1" fill="#8a6c94" />
<line x1="186.90" y1="347.60" x2="186.90" y2="339.70" stroke="#7a8a8a" stroke-width="0.45"/>
<line x1="186.90" y1="339.70" x2="183.80" y2="335.75" stroke="#7a8a8a" stroke-width="0.45"/>
<line x1="186.90" y1="339.70" x2="190.00" y2="335.75" stroke="#7a8a8a" stroke-width="0.45"/>
<line x1="183.80" y1="335.75" x2="183.10" y2="331.80" stroke="#7a8a8a" stroke-width="0.45"/>
<line x1="183.10" y1="331.80" x2="183.10" y2="323.90" stroke="#7a8a8a" stroke-width="0.45"/>
<line x1="190.00" y1="335.75" x2="186.90" y2="331.80" stroke="#7a8a8a" stroke-width="0.45"/>
<line x1="186.90" y1="331.80" x2="186.90" y2="323.90" stroke="#7a8a8a" stroke-width="0.45"/>
<line x1="190.00" y1="335.75" x2="190.70" y2="331.80" stroke="#7a8a8a" stroke-width="0.45"/>
<line x1="190.70" y1="331.80" x2="190.70" y2="323.90" stroke="#7a8a8a" stroke-width="0.45"/>
<line x1="186.90" y1="347.60" x2="190.50" y2="347.60" stroke="#8a8a8a" stroke-width="0.5"/>
<path d="M190.10 346.70L191.50 347.60L190.10 348.50Z" stroke="none" stroke-width="1" fill="#e08a5a" />
<rect x="185.58" y="346.28" width="2.65" height="2.65" fill="#2f68a6"/>
<rect x="185.58" y="342.33" width="2.65" height="2.65" fill="#2f68a6"/>
<circle cx="186.90" cy="339.70" r="1.325" fill="#3a8c58"/>
<circle cx="183.80" cy="335.75" r="1.325" fill="#3a8c58"/>
<circle cx="190.00" cy="335.75" r="1.325" fill="#3a8c58"/>
<rect x="181.78" y="330.48" width="2.65" height="2.65" fill="#2f68a6"/>
<rect x="185.58" y="330.48" width="2.65" height="2.65" fill="#2f68a6"/>
<rect x="189.38" y="330.48" width="2.65" height="2.65" fill="#2f68a6"/>
<circle cx="183.10" cy="327.85" r="1.325" fill="#c4a24e"/>
<circle cx="186.90" cy="327.85" r="1.325" fill="#c4a24e"/>
<circle cx="190.70" cy="327.85" r="1.325" fill="#c4a24e"/>
<path d="M183.10 322.38L184.62 323.90L183.10 325.42L181.58 323.90Z" stroke="none" stroke-width="1" fill="#8a6c94" />
<path d="M186.90 322.38L188.42 323.90L186.90 325.42L185.38 323.90Z" stroke="none" stroke-width="1" fill="#8a6c94" />
<line x1="199.00" y1="317.90" x2="199.00" y2="310.00" stroke="#7a8a8a" stroke-width="0.45"/>
<line x1="199.00" y1="310.00" x2="195.90" y2="306.05" stroke="#7a8a8a" stroke-width="0.45"/>
<line x1="199.00" y1="310.00" x2="202.10" y2="306.05" stroke="#7a8a8a" stroke-width="0.45"/>
<line x1="195.90" y1="306.05" x2="195.20" y2="302.10" stroke="#7a8a8a" stroke-width="0.45"/>
<line x1="195.20" y1="302.10" x2="195.20" y2="294.20" stroke="#7a8a8a" stroke-width="0.45"/>
<line x1="202.10" y1="306.05" x2="199.00" y2="302.10" stroke="#7a8a8a" stroke-width="0.45"/>
<line x1="199.00" y1="302.10" x2="199.00" y2="294.20" stroke="#7a8a8a" stroke-width="0.45"/>
<line x1="202.10" y1="306.05" x2="202.80" y2="302.10" stroke="#7a8a8a" stroke-width="0.45"/>
<line x1="202.80" y1="302.10" x2="202.80" y2="294.20" stroke="#7a8a8a" stroke-width="0.45"/>
<line x1="199.00" y1="317.90" x2="202.60" y2="317.90" stroke="#8a8a8a" stroke-width="0.5"/>
<path d="M202.20 317.00L203.60 317.90L202.20 318.80Z" stroke="none" stroke-width="1" fill="#e08a5a" />
<rect x="197.68" y="316.57" width="2.65" height="2.65" fill="#2f68a6"/>
<rect x="197.68" y="312.62" width="2.65" height="2.65" fill="#2f68a6"/>
<circle cx="199.00" cy="310.00" r="1.325" fill="#3a8c58"/>
<circle cx="195.90" cy="306.05" r="1.325" fill="#3a8c58"/>
<circle cx="202.10" cy="306.05" r="1.325" fill="#3a8c58"/>
<rect x="193.88" y="300.77" width="2.65" height="2.65" fill="#2f68a6"/>
<rect x="197.68" y="300.77" width="2.65" height="2.65" fill="#2f68a6"/>
<rect x="201.48" y="300.77" width="2.65" height="2.65" fill="#2f68a6"/>
<circle cx="195.20" cy="298.15" r="1.325" fill="#c4a24e"/>
<circle cx="199.00" cy="298.15" r="1.325" fill="#c4a24e"/>
<circle cx="202.80" cy="298.15" r="1.325" fill="#c4a24e"/>
<path d="M195.20 292.68L196.72 294.20L195.20 295.72L193.68 294.20Z" stroke="none" stroke-width="1" fill="#8a6c94" />
<path d="M199.00 292.68L200.52 294.20L199.00 295.72L197.48 294.20Z" stroke="none" stroke-width="1" fill="#8a6c94" />
<line x1="206.00" y1="347.60" x2="206.00" y2="339.70" stroke="#7a8a8a" stroke-width="0.45"/>
<line x1="206.00" y1="339.70" x2="202.90" y2="335.75" stroke="#7a8a8a" stroke-width="0.45"/>
<line x1="206.00" y1="339.70" x2="209.10" y2="335.75" stroke="#7a8a8a" stroke-width="0.45"/>
<line x1="202.90" y1="335.75" x2="202.20" y2="331.80" stroke="#7a8a8a" stroke-width="0.45"/>
<line x1="202.20" y1="331.80" x2="202.20" y2="323.90" stroke="#7a8a8a" stroke-width="0.45"/>
<line x1="209.10" y1="335.75" x2="206.00" y2="331.80" stroke="#7a8a8a" stroke-width="0.45"/>
<line x1="206.00" y1="331.80" x2="206.00" y2="323.90" stroke="#7a8a8a" stroke-width="0.45"/>
<line x1="209.10" y1="335.75" x2="209.80" y2="331.80" stroke="#7a8a8a" stroke-width="0.45"/>
<line x1="209.80" y1="331.80" x2="209.80" y2="323.90" stroke="#7a8a8a" stroke-width="0.45"/>
<rect x="204.68" y="346.28" width="2.65" height="2.65" fill="#2f68a6"/>
<rect x="204.68" y="342.33" width="2.65" height="2.65" fill="#2f68a6"/>
<circle cx="206.00" cy="339.70" r="1.325" fill="#3a8c58"/>
<circle cx="202.90" cy="335.75" r="1.325" fill="#3a8c58"/>
<circle cx="209.10" cy="335.75" r="1.325" fill="#3a8c58"/>
<rect x="200.88" y="330.48" width="2.65" height="2.65" fill="#2f68a6"/>
<rect x="204.68" y="330.48" width="2.65" height="2.65" fill="#2f68a6"/>
<rect x="208.48" y="330.48" width="2.65" height="2.65" fill="#2f68a6"/>
<circle cx="202.20" cy="327.85" r="1.325" fill="#c4a24e"/>
<circle cx="206.00" cy="327.85" r="1.325" fill="#c4a24e"/>
<circle cx="209.80" cy="327.85" r="1.325" fill="#c4a24e"/>
<path d="M202.20 322.38L203.72 323.90L202.20 325.42L200.68 323.90Z" stroke="none" stroke-width="1" fill="#8a6c94" />
<path d="M206.00 322.38L207.52 323.90L206.00 325.42L204.48 323.90Z" stroke="none" stroke-width="1" fill="#8a6c94" />
<path d="M209.80 322.38L211.32 323.90L209.80 325.42L208.28 323.90Z" stroke="none" stroke-width="1" fill="#8a6c94" />
<line x1="241.20" y1="317.00" x2="241.20" y2="309.10" stroke="#7a8a8a" stroke-width="0.45"/>
<line x1="241.20" y1="309.10" x2="238.10" y2="305.15" stroke="#7a8a8a" stroke-width="0.45"/>
<line x1="241.20" y1="309.10" x2="244.30" y2="305.15" stroke="#7a8a8a" stroke-width="0.45"/>
<line x1="238.10" y1="305.15" x2="237.40" y2="301.20" stroke="#7a8a8a" stroke-width="0.45"/>
<line x1="237.40" y1="301.20" x2="237.40" y2="293.30" stroke="#7a8a8a" stroke-width="0.45"/>
<line x1="244.30" y1="305.15" x2="241.20" y2="301.20" stroke="#7a8a8a" stroke-width="0.45"/>
<line x1="241.20" y1="301.20" x2="241.20" y2="293.30" stroke="#7a8a8a" stroke-width="0.45"/>
<line x1="244.30" y1="305.15" x2="245.00" y2="301.20" stroke="#7a8a8a" stroke-width="0.45"/>
<line x1="245.00" y1="301.20" x2="245.00" y2="293.30" stroke="#7a8a8a" stroke-width="0.45"/>
<line x1="241.20" y1="317.00" x2="244.80" y2="317.00" stroke="#8a8a8a" stroke-width="0.5"/>
<path d="M244.40 316.10L245.80 317.00L244.40 317.90Z" stroke="none" stroke-width="1" fill="#e08a5a" />
<rect x="239.88" y="315.68" width="2.65" height="2.65" fill="#2f68a6"/>
<rect x="239.88" y="311.73" width="2.65" height="2.65" fill="#2f68a6"/>
<circle cx="241.20" cy="309.10" r="1.325" fill="#3a8c58"/>
<circle cx="238.10" cy="305.15" r="1.325" fill="#3a8c58"/>
<circle cx="244.30" cy="305.15" r="1.325" fill="#3a8c58"/>
<rect x="236.07" y="299.88" width="2.65" height="2.65" fill="#2f68a6"/>
<rect x="239.88" y="299.88" width="2.65" height="2.65" fill="#2f68a6"/>
<rect x="243.68" y="299.88" width="2.65" height="2.65" fill="#2f68a6"/>
<circle cx="237.40" cy="297.25" r="1.325" fill="#c4a24e"/>
<circle cx="241.20" cy="297.25" r="1.325" fill="#c4a24e"/>
<circle cx="245.00" cy="297.25" r="1.325" fill="#c4a24e"/>
<path d="M237.40 291.78L238.92 293.30L237.40 294.82L235.88 293.30Z" stroke="none" stroke-width="1" fill="#8a6c94" />
<path d="M241.20 291.78L242.72 293.30L241.20 294.82L239.68 293.30Z" stroke="none" stroke-width="1" fill="#8a6c94" />
<path d="M245.00 291.78L246.52 293.30L245.00 294.82L243.48 293.30Z" stroke="none" stroke-width="1" fill="#8a6c94" />
<line x1="245.20" y1="347.50" x2="245.20" y2="339.60" stroke="#7a8a8a" stroke-width="0.45"/>
<line x1="245.20" y1="339.60" x2="241.40" y2="335.65" stroke="#7a8a8a" stroke-width="0.45"/>
<line x1="245.20" y1="339.60" x2="249.00" y2="335.65" stroke="#7a8a8a" stroke-width="0.45"/>
<line x1="241.40" y1="335.65" x2="239.50" y2="331.70" stroke="#7a8a8a" stroke-width="0.45"/>
<line x1="239.50" y1="331.70" x2="239.50" y2="323.80" stroke="#7a8a8a" stroke-width="0.45"/>
<line x1="241.40" y1="335.65" x2="243.30" y2="331.70" stroke="#7a8a8a" stroke-width="0.45"/>
<line x1="243.30" y1="331.70" x2="243.30" y2="323.80" stroke="#7a8a8a" stroke-width="0.45"/>
<line x1="249.00" y1="335.65" x2="247.10" y2="331.70" stroke="#7a8a8a" stroke-width="0.45"/>
<line x1="247.10" y1="331.70" x2="247.10" y2="323.80" stroke="#7a8a8a" stroke-width="0.45"/>
<line x1="249.00" y1="335.65" x2="250.90" y2="331.70" stroke="#7a8a8a" stroke-width="0.45"/>
<line x1="250.90" y1="331.70" x2="250.90" y2="323.80" stroke="#7a8a8a" stroke-width="0.45"/>
<rect x="243.88" y="346.18" width="2.65" height="2.65" fill="#2f68a6"/>
<rect x="243.88" y="342.23" width="2.65" height="2.65" fill="#2f68a6"/>
<circle cx="245.20" cy="339.60" r="1.325" fill="#3a8c58"/>
<circle cx="241.40" cy="335.65" r="1.325" fill="#3a8c58"/>
<circle cx="249.00" cy="335.65" r="1.325" fill="#3a8c58"/>
<rect x="238.18" y="330.38" width="2.65" height="2.65" fill="#2f68a6"/>
<rect x="241.97" y="330.38" width="2.65" height="2.65" fill="#2f68a6"/>
<rect x="245.78" y="330.38" width="2.65" height="2.65" fill="#2f68a6"/>
<rect x="249.57" y="330.38" width="2.65" height="2.65" fill="#2f68a6"/>
<circle cx="239.50" cy="327.75" r="1.325" fill="#c4a24e"/>
<circle cx="243.30" cy="327.75" r="1.325" fill="#c4a24e"/>
<circle cx="247.10" cy="327.75" r="1.325" fill="#c4a24e"/>
<circle cx="250.90" cy="327.75" r="1.325" fill="#c4a24e"/>
<path d="M239.50 322.28L241.02 323.80L239.50 325.32L237.98 323.80Z" stroke="none" stroke-width="1" fill="#8a6c94" />
<path d="M243.30 322.28L244.82 323.80L243.30 325.32L241.78 323.80Z" stroke="none" stroke-width="1" fill="#8a6c94" />
<path d="M247.10 322.28L248.62 323.80L247.10 325.32L245.58 323.80Z" stroke="none" stroke-width="1" fill="#8a6c94" />
<path d="M250.90 322.28L252.42 323.80L250.90 325.32L249.38 323.80Z" stroke="none" stroke-width="1" fill="#8a6c94" />
<line x1="272.30" y1="331.30" x2="272.30" y2="323.40" stroke="#7a8a8a" stroke-width="0.45"/>
<line x1="272.30" y1="323.40" x2="268.50" y2="319.45" stroke="#7a8a8a" stroke-width="0.45"/>
<line x1="272.30" y1="323.40" x2="276.10" y2="319.45" stroke="#7a8a8a" stroke-width="0.45"/>
<line x1="268.50" y1="319.45" x2="266.60" y2="315.50" stroke="#7a8a8a" stroke-width="0.45"/>
<line x1="266.60" y1="315.50" x2="266.60" y2="307.60" stroke="#7a8a8a" stroke-width="0.45"/>
<line x1="268.50" y1="319.45" x2="270.40" y2="315.50" stroke="#7a8a8a" stroke-width="0.45"/>
<line x1="270.40" y1="315.50" x2="270.40" y2="307.60" stroke="#7a8a8a" stroke-width="0.45"/>
<line x1="276.10" y1="319.45" x2="274.20" y2="315.50" stroke="#7a8a8a" stroke-width="0.45"/>
<line x1="274.20" y1="315.50" x2="274.20" y2="307.60" stroke="#7a8a8a" stroke-width="0.45"/>
<line x1="276.10" y1="319.45" x2="278.00" y2="315.50" stroke="#7a8a8a" stroke-width="0.45"/>
<line x1="278.00" y1="315.50" x2="278.00" y2="307.60" stroke="#7a8a8a" stroke-width="0.45"/>
<line x1="272.30" y1="331.30" x2="275.90" y2="331.30" stroke="#8a8a8a" stroke-width="0.5"/>
<path d="M275.50 330.40L276.90 331.30L275.50 332.20Z" stroke="none" stroke-width="1" fill="#e08a5a" />
<rect x="270.98" y="329.98" width="2.65" height="2.65" fill="#2f68a6"/>
<rect x="270.98" y="326.03" width="2.65" height="2.65" fill="#2f68a6"/>
<circle cx="272.30" cy="323.40" r="1.325" fill="#3a8c58"/>
<circle cx="268.50" cy="319.45" r="1.325" fill="#3a8c58"/>
<circle cx="276.10" cy="319.45" r="1.325" fill="#3a8c58"/>
<rect x="265.28" y="314.18" width="2.65" height="2.65" fill="#2f68a6"/>
<rect x="269.08" y="314.18" width="2.65" height="2.65" fill="#2f68a6"/>
<rect x="272.88" y="314.18" width="2.65" height="2.65" fill="#2f68a6"/>
<rect x="276.68" y="314.18" width="2.65" height="2.65" fill="#2f68a6"/>
<circle cx="266.60" cy="311.55" r="1.325" fill="#c4a24e"/>
<circle cx="270.40" cy="311.55" r="1.325" fill="#c4a24e"/>
<circle cx="274.20" cy="311.55" r="1.325" fill="#c4a24e"/>
<circle cx="278.00" cy="311.55" r="1.325" fill="#c4a24e"/>
<path d="M266.60 306.08L268.12 307.60L266.60 309.12L265.08 307.60Z" stroke="none" stroke-width="1" fill="#8a6c94" />
<path d="M270.40 306.08L271.92 307.60L270.40 309.12L268.88 307.60Z" stroke="none" stroke-width="1" fill="#8a6c94" />
<path d="M274.20 306.08L275.72 307.60L274.20 309.12L272.68 307.60Z" stroke="none" stroke-width="1" fill="#8a6c94" />
<path d="M278.00 306.08L279.52 307.60L278.00 309.12L276.48 307.60Z" stroke="none" stroke-width="1" fill="#8a6c94" />
<text x="169.0" y="239.8" font-size="5.4" fill="#e070b8" font-style="italic" transform="rotate(-78 169.0 239.8)" textLength="10.2" lengthAdjust="spacingAndGlyphs">α2,6</text>
<text x="177.4" y="239.8" font-size="5.4" fill="#e070b8" font-style="italic" transform="rotate(-78 177.4 239.8)" textLength="10.2" lengthAdjust="spacingAndGlyphs">α2,6</text>
<text x="190.9" y="235.6" font-size="5.4" fill="#e070b8" font-style="italic" transform="rotate(-78 190.9 235.6)" textLength="10.2" lengthAdjust="spacingAndGlyphs">α2,6</text>
<text x="164.6" y="276.2" font-size="5.4" fill="#e070b8" font-style="italic" text-anchor="middle" transform="rotate(-90 164.6 276.2)" textLength="11" lengthAdjust="spacingAndGlyphs">α2,3</text>
<text x="169.4" y="276.2" font-size="5.4" fill="#e070b8" font-style="italic" text-anchor="middle" transform="rotate(-90 169.4 276.2)" textLength="11" lengthAdjust="spacingAndGlyphs">α2,6</text>
<circle cx="98.30" cy="407.80" r="0.9" fill="#3a8c58"/>
<text x="102.60" y="410.10" font-size="6.5" fill="#4aa860" text-anchor="start" textLength="26.9" lengthAdjust="spacingAndGlyphs">Mannose</text>
<circle cx="142.20" cy="407.80" r="0.9" fill="#2f68a6"/>
<text x="146.50" y="410.10" font-size="6.5" fill="#5aa0e0" text-anchor="start" textLength="63.3" lengthAdjust="spacingAndGlyphs">N-Acetylglucosamine</text>
<circle cx="225.80" cy="407.80" r="0.9" fill="#e08a5a"/>
<text x="230.10" y="410.10" font-size="6.5" fill="#f0a860" text-anchor="start" textLength="20.6" lengthAdjust="spacingAndGlyphs">Fucose</text>
<circle cx="98.30" cy="416.10" r="0.9" fill="#c08a50"/>
<text x="102.60" y="418.40" font-size="6.5" fill="#f0b84a" text-anchor="start" textLength="29.5" lengthAdjust="spacingAndGlyphs">Galactose</text>
<circle cx="142.20" cy="416.10" r="0.9" fill="#c09840"/>
<text x="146.50" y="418.40" font-size="6.5" fill="#f0c050" text-anchor="start" textLength="67" lengthAdjust="spacingAndGlyphs">N-Acetylgalactosamine</text>
<circle cx="225.80" cy="416.10" r="0.9" fill="#8a6c94"/>
<text x="230.10" y="418.40" font-size="6.5" fill="#5a4a8a" text-anchor="start" textLength="30.2" lengthAdjust="spacingAndGlyphs">Sialic Acid</text>
<text x="339.20" y="157.30" font-size="12" fill="#111" text-anchor="start" font-weight="bold">E</text>
<line x1="381.80" y1="164.30" x2="381.80" y2="260.60" stroke="#2b2b2b" stroke-width="1.4"/>
<line x1="381.20" y1="260.00" x2="511.30" y2="260.00" stroke="#2b2b2b" stroke-width="1.4"/>
<line x1="378.80" y1="260.00" x2="381.80" y2="260.00" stroke="#2b2b2b" stroke-width="0.9"/>
<text x="376.30" y="262.20" font-size="6.3" fill="#333" text-anchor="end">0</text>
<line x1="378.80" y1="236.32" x2="381.80" y2="236.32" stroke="#2b2b2b" stroke-width="0.9"/>
<text x="376.30" y="238.52" font-size="6.3" fill="#333" text-anchor="end">25</text>
<line x1="378.80" y1="212.65" x2="381.80" y2="212.65" stroke="#2b2b2b" stroke-width="0.9"/>
<text x="376.30" y="214.85" font-size="6.3" fill="#333" text-anchor="end">50</text>
<line x1="378.80" y1="188.98" x2="381.80" y2="188.98" stroke="#2b2b2b" stroke-width="0.9"/>
<text x="376.30" y="191.18" font-size="6.3" fill="#333" text-anchor="end">75</text>
<line x1="378.80" y1="165.30" x2="381.80" y2="165.30" stroke="#2b2b2b" stroke-width="0.9"/>
<text x="376.30" y="167.50" font-size="6.3" fill="#333" text-anchor="end">100</text>
<line x1="381.80" y1="260.00" x2="381.80" y2="263.00" stroke="#2b2b2b" stroke-width="0.9"/>
<text x="381.80" y="272.00" font-size="6.6" fill="#333" text-anchor="middle">0</text>
<line x1="403.00" y1="260.00" x2="403.00" y2="263.00" stroke="#2b2b2b" stroke-width="0.9"/>
<text x="403.00" y="272.00" font-size="6.6" fill="#333" text-anchor="middle">1</text>
<line x1="424.20" y1="260.00" x2="424.20" y2="263.00" stroke="#2b2b2b" stroke-width="0.9"/>
<text x="424.20" y="272.00" font-size="6.6" fill="#333" text-anchor="middle">2</text>
<line x1="445.40" y1="260.00" x2="445.40" y2="263.00" stroke="#2b2b2b" stroke-width="0.9"/>
<text x="445.40" y="272.00" font-size="6.6" fill="#333" text-anchor="middle">3</text>
<line x1="466.60" y1="260.00" x2="466.60" y2="263.00" stroke="#2b2b2b" stroke-width="0.9"/>
<text x="466.60" y="272.00" font-size="6.6" fill="#333" text-anchor="middle">4</text>
<line x1="487.80" y1="260.00" x2="487.80" y2="263.00" stroke="#2b2b2b" stroke-width="0.9"/>
<text x="487.80" y="272.00" font-size="6.6" fill="#333" text-anchor="middle">5</text>
<line x1="509.00" y1="260.00" x2="509.00" y2="263.00" stroke="#2b2b2b" stroke-width="0.9"/>
<text x="509.00" y="272.00" font-size="6.6" fill="#333" text-anchor="middle">6</text>
<text x="447.00" y="283.00" font-size="8.6" fill="#333" text-anchor="middle" textLength="38.9" lengthAdjust="spacingAndGlyphs">Time (hours)</text>
<text x="358.60" y="209.00" font-size="7.8" fill="#333" text-anchor="middle" textLength="83.7" lengthAdjust="spacingAndGlyphs" transform="rotate(-90 358.60 209.00)">Residual VWF (% injected)</text>
<text x="432.7" y="162.9" font-size="6.3" fill="#333"><tspan font-style="italic">P</tspan> &lt; .001</text>
<path d="M381.80 165.30L382.86 169.74L383.92 173.95L384.98 177.93L386.04 181.70L387.10 185.27L388.16 188.64L389.22 191.84L390.28 194.86L391.34 197.73L392.40 200.44L393.46 203.00L394.52 205.43L395.58 207.72L396.64 209.90L397.70 211.96L398.76 213.90L399.82 215.75L400.88 217.49L401.94 219.14L403.00 220.71L404.06 222.19L405.12 223.59L406.18 224.91L407.24 226.17L408.30 227.35L409.36 228.48L410.42 229.54L411.48 230.55L412.54 231.50L413.60 232.40L414.66 233.26L415.72 234.06L416.78 234.83L417.84 235.55L418.90 236.24L419.96 236.88L421.02 237.50L422.08 238.08L423.14 238.63L424.20 239.15L425.26 239.64L426.32 240.11L427.38 240.55L428.44 240.97L429.50 241.36L430.56 241.74L431.62 242.09L432.68 242.43L433.74 242.74L434.80 243.04L435.86 243.33L436.92 243.60L437.98 243.85L439.04 244.09L440.10 244.32L441.16 244.53L442.22 244.74L443.28 244.93L444.34 245.12L445.40 245.29L446.46 245.45L447.52 245.61L448.58 245.75L449.64 245.89L450.70 246.03L451.76 246.15L452.82 246.27L453.88 246.38L454.94 246.48L456.00 246.58L457.06 246.68L458.12 246.77L459.18 246.85L460.24 246.93L461.30 247.01L462.36 247.08L463.42 247.15L464.48 247.21L465.54 247.27L466.60 247.33L467.66 247.39L468.72 247.44L469.78 247.49L470.84 247.53L471.90 247.58L472.96 247.62L474.02 247.66L475.08 247.70L476.14 247.73L477.20 247.76L478.26 247.80L479.32 247.82L480.38 247.85L481.44 247.88L482.50 247.91L483.56 247.93L484.62 247.95L485.68 247.97L486.74 247.99L487.80 248.01L488.86 248.03L489.92 248.05L490.98 248.06L492.04 248.08L493.10 248.09L494.16 248.11L495.22 248.12L496.28 248.13L497.34 248.15L498.40 248.16L499.46 248.17L500.52 248.18L501.58 248.19L502.64 248.19L503.70 248.20L504.76 248.21L505.82 248.22L506.88 248.23L507.94 248.23L509.00 248.24" stroke="#c8283e" stroke-width="0.8" fill="none" />
<path d="M381.80 165.30L382.86 171.88L383.92 177.99L384.98 183.64L386.04 188.88L387.10 193.74L388.16 198.24L389.22 202.42L390.28 206.28L391.34 209.87L392.40 213.19L393.46 216.27L394.52 219.12L395.58 221.77L396.64 224.22L397.70 226.49L398.76 228.60L399.82 230.55L400.88 232.36L401.94 234.03L403.00 235.59L404.06 237.03L405.12 238.36L406.18 239.60L407.24 240.75L408.30 241.81L409.36 242.79L410.42 243.71L411.48 244.55L412.54 245.34L413.60 246.06L414.66 246.74L415.72 247.36L416.78 247.94L417.84 248.48L418.90 248.97L419.96 249.43L421.02 249.86L422.08 250.26L423.14 250.62L424.20 250.96L425.26 251.28L426.32 251.57L427.38 251.84L428.44 252.09L429.50 252.32L430.56 252.54L431.62 252.74L432.68 252.92L433.74 253.09L434.80 253.25L435.86 253.40L436.92 253.54L437.98 253.66L439.04 253.78L440.10 253.89L441.16 253.99L442.22 254.08L443.28 254.17L444.34 254.25L445.40 254.32L446.46 254.39L447.52 254.46L448.58 254.52L449.64 254.57L450.70 254.62L451.76 254.67L452.82 254.71L453.88 254.75L454.94 254.79L456.00 254.82L457.06 254.86L458.12 254.89L459.18 254.91L460.24 254.94L461.30 254.96L462.36 254.99L463.42 255.01L464.48 255.03L465.54 255.04L466.60 255.06L467.66 255.07L468.72 255.09L469.78 255.10L470.84 255.11L471.90 255.12L472.96 255.13L474.02 255.14L475.08 255.15L476.14 255.16L477.20 255.17L478.26 255.18L479.32 255.18L480.38 255.19L481.44 255.19L482.50 255.20L483.56 255.20L484.62 255.21L485.68 255.21L486.74 255.22L487.80 255.22L488.86 255.22L489.92 255.23L490.98 255.23L492.04 255.23L493.10 255.23L494.16 255.24L495.22 255.24L496.28 255.24L497.34 255.24L498.40 255.24L499.46 255.25L500.52 255.25L501.58 255.25L502.64 255.25L503.70 255.25L504.76 255.25L505.82 255.25L506.88 255.25L507.94 255.25L509.00 255.26" stroke="#2a6aa8" stroke-width="0.8" fill="none" />
<line x1="392.40" y1="218.33" x2="392.40" y2="225.91" stroke="#1d3f7c" stroke-width="0.7"/>
<line x1="391.20" y1="218.33" x2="393.60" y2="218.33" stroke="#1d3f7c" stroke-width="0.7"/>
<line x1="391.20" y1="225.91" x2="393.60" y2="225.91" stroke="#1d3f7c" stroke-width="0.7"/>
<line x1="403.00" y1="228.75" x2="403.00" y2="236.32" stroke="#1d3f7c" stroke-width="0.7"/>
<line x1="401.80" y1="228.75" x2="404.20" y2="228.75" stroke="#1d3f7c" stroke-width="0.7"/>
<line x1="401.80" y1="236.32" x2="404.20" y2="236.32" stroke="#1d3f7c" stroke-width="0.7"/>
<circle cx="381.80" cy="165.30" r="1.3" fill="#b01c34"/>
<circle cx="392.40" cy="208.86" r="1.3" fill="#b01c34"/>
<circle cx="403.00" cy="221.17" r="1.3" fill="#b01c34"/>
<circle cx="424.20" cy="233.48" r="1.3" fill="#b01c34"/>
<circle cx="445.40" cy="234.90" r="1.3" fill="#b01c34"/>
<circle cx="466.60" cy="247.22" r="1.3" fill="#b01c34"/>
<circle cx="381.80" cy="165.30" r="1.3" fill="#1d3f7c"/>
<circle cx="392.40" cy="222.12" r="1.3" fill="#1d3f7c"/>
<circle cx="403.00" cy="232.54" r="1.3" fill="#1d3f7c"/>
<circle cx="424.20" cy="251.48" r="1.3" fill="#1d3f7c"/>
<circle cx="445.40" cy="251.95" r="1.3" fill="#1d3f7c"/>
<circle cx="466.60" cy="256.69" r="1.3" fill="#1d3f7c"/>
<circle cx="509.00" cy="258.58" r="1.5" fill="#3a2a5a"/>
<circle cx="381.80" cy="165.30" r="1.6" fill="#3a2a5a"/>
<line x1="462.60" y1="173.00" x2="469.50" y2="173.00" stroke="#c8283e" stroke-width="0.8"/>
<circle cx="466.00" cy="173.00" r="1.2" fill="#b01c34"/>
<text x="473.50" y="175.30" font-size="6.6" fill="#333" text-anchor="start" textLength="33.6" lengthAdjust="spacingAndGlyphs">CHO-rVWF</text>
<line x1="462.60" y1="180.80" x2="469.50" y2="180.80" stroke="#2a6aa8" stroke-width="0.8"/>
<circle cx="466.00" cy="180.80" r="1.2" fill="#1d3f7c"/>
<text x="473.50" y="183.10" font-size="6.6" fill="#333" text-anchor="start" textLength="22.1" lengthAdjust="spacingAndGlyphs">pdVWF</text>
<text x="339.60" y="299.20" font-size="12" fill="#111" text-anchor="start" font-weight="bold">F</text>
<line x1="381.80" y1="305.54" x2="381.80" y2="401.10" stroke="#2b2b2b" stroke-width="1.4"/>
<line x1="381.20" y1="400.50" x2="512.50" y2="400.50" stroke="#2b2b2b" stroke-width="1.4"/>
<line x1="378.80" y1="400.50" x2="381.80" y2="400.50" stroke="#2b2b2b" stroke-width="0.9"/>
<text x="376.30" y="402.70" font-size="6.3" fill="#333" text-anchor="end">0</text>
<line x1="378.80" y1="377.01" x2="381.80" y2="377.01" stroke="#2b2b2b" stroke-width="0.9"/>
<text x="376.30" y="379.21" font-size="6.3" fill="#333" text-anchor="end">25</text>
<line x1="378.80" y1="353.52" x2="381.80" y2="353.52" stroke="#2b2b2b" stroke-width="0.9"/>
<text x="376.30" y="355.72" font-size="6.3" fill="#333" text-anchor="end">50</text>
<line x1="378.80" y1="330.03" x2="381.80" y2="330.03" stroke="#2b2b2b" stroke-width="0.9"/>
<text x="376.30" y="332.23" font-size="6.3" fill="#333" text-anchor="end">75</text>
<line x1="378.80" y1="306.54" x2="381.80" y2="306.54" stroke="#2b2b2b" stroke-width="0.9"/>
<text x="376.30" y="308.74" font-size="6.3" fill="#333" text-anchor="end">100</text>
<line x1="381.80" y1="400.50" x2="381.80" y2="403.50" stroke="#2b2b2b" stroke-width="0.9"/>
<text x="381.80" y="412.60" font-size="6.6" fill="#333" text-anchor="middle">0</text>
<line x1="424.17" y1="400.50" x2="424.17" y2="403.50" stroke="#2b2b2b" stroke-width="0.9"/>
<text x="424.17" y="412.60" font-size="6.6" fill="#333" text-anchor="middle">10</text>
<line x1="466.54" y1="400.50" x2="466.54" y2="403.50" stroke="#2b2b2b" stroke-width="0.9"/>
<text x="466.54" y="412.60" font-size="6.6" fill="#333" text-anchor="middle">20</text>
<line x1="508.91" y1="400.50" x2="508.91" y2="403.50" stroke="#2b2b2b" stroke-width="0.9"/>
<text x="508.91" y="412.60" font-size="6.6" fill="#333" text-anchor="middle">30</text>
<text x="447.20" y="425.00" font-size="8.6" fill="#333" text-anchor="middle" textLength="46.4" lengthAdjust="spacingAndGlyphs">Time (minutes)</text>
<text x="358.60" y="352.00" font-size="7.8" fill="#333" text-anchor="middle" textLength="83.7" lengthAdjust="spacingAndGlyphs" transform="rotate(-90 358.60 352.00)">Residual VWF (% injected)</text>
<text x="432.7" y="303.3" font-size="6.3" fill="#333"><tspan font-style="italic">P</tspan> = .763</text>
<path d="M381.80 306.54L382.86 310.28L383.92 313.87L384.98 317.32L386.04 320.62L387.10 323.79L388.16 326.84L389.21 329.75L390.27 332.55L391.33 335.24L392.39 337.82L393.45 340.29L394.51 342.66L395.57 344.93L396.63 347.12L397.69 349.21L398.75 351.22L399.81 353.15L400.87 354.99L401.93 356.77L402.99 358.47L404.04 360.10L405.10 361.67L406.16 363.17L407.22 364.61L408.28 365.99L409.34 367.32L410.40 368.59L411.46 369.81L412.52 370.98L413.58 372.11L414.64 373.18L415.70 374.22L416.76 375.21L417.81 376.16L418.87 377.08L419.93 377.95L420.99 378.79L422.05 379.60L423.11 380.37L424.17 381.11L425.23 381.82L426.29 382.51L427.35 383.16L428.41 383.79L429.47 384.39L430.53 384.97L431.58 385.53L432.64 386.06L433.70 386.57L434.76 387.06L435.82 387.53L436.88 387.98L437.94 388.41L439.00 388.83L440.06 389.23L441.12 389.61L442.18 389.97L443.24 390.33L444.30 390.66L445.36 390.99L446.41 391.30L447.47 391.59L448.53 391.88L449.59 392.15L450.65 392.42L451.71 392.67L452.77 392.91L453.83 393.14L454.89 393.37L455.95 393.58L457.01 393.78L458.07 393.98L459.13 394.17L460.18 394.35L461.24 394.52L462.30 394.69L463.36 394.85L464.42 395.00L465.48 395.15L466.54 395.29L467.60 395.43L468.66 395.56L469.72 395.68L470.78 395.80L471.84 395.92L472.90 396.03L473.95 396.13L475.01 396.23L476.07 396.33L477.13 396.42L478.19 396.51L479.25 396.60L480.31 396.68L481.37 396.76L482.43 396.83L483.49 396.91L484.55 396.98L485.61 397.04L486.67 397.11L487.73 397.17L488.78 397.23L489.84 397.28L490.90 397.34L491.96 397.39L493.02 397.44L494.08 397.49L495.14 397.54L496.20 397.58L497.26 397.62L498.32 397.66L499.38 397.70L500.44 397.74L501.50 397.77L502.55 397.81L503.61 397.84L504.67 397.87L505.73 397.90L506.79 397.93L507.85 397.96L508.91 397.99" stroke="#c8283e" stroke-width="0.8" fill="none" />
<path d="M381.80 306.54L382.86 312.32L383.92 317.73L384.98 322.80L386.04 327.54L387.10 331.97L388.16 336.13L389.21 340.01L390.27 343.65L391.33 347.05L392.39 350.24L393.45 353.22L394.51 356.01L395.57 358.62L396.63 361.06L397.69 363.35L398.75 365.49L399.81 367.49L400.87 369.37L401.93 371.12L402.99 372.77L404.04 374.30L405.10 375.74L406.16 377.09L407.22 378.35L408.28 379.53L409.34 380.63L410.40 381.66L411.46 382.63L412.52 383.53L413.58 384.38L414.64 385.17L415.70 385.91L416.76 386.61L417.81 387.26L418.87 387.87L419.93 388.44L420.99 388.97L422.05 389.47L423.11 389.93L424.17 390.37L425.23 390.78L426.29 391.16L427.35 391.52L428.41 391.85L429.47 392.17L430.53 392.46L431.58 392.73L432.64 392.99L433.70 393.23L434.76 393.46L435.82 393.67L436.88 393.86L437.94 394.05L439.00 394.22L440.06 394.38L441.12 394.53L442.18 394.68L443.24 394.81L444.30 394.93L445.36 395.05L446.41 395.16L447.47 395.26L448.53 395.35L449.59 395.44L450.65 395.53L451.71 395.60L452.77 395.68L453.83 395.74L454.89 395.81L455.95 395.87L457.01 395.92L458.07 395.98L459.13 396.03L460.18 396.07L461.24 396.11L462.30 396.15L463.36 396.19L464.42 396.23L465.48 396.26L466.54 396.29L467.60 396.32L468.66 396.35L469.72 396.37L470.78 396.40L471.84 396.42L472.90 396.44L473.95 396.46L475.01 396.48L476.07 396.49L477.13 396.51L478.19 396.52L479.25 396.54L480.31 396.55L481.37 396.56L482.43 396.57L483.49 396.59L484.55 396.60L485.61 396.60L486.67 396.61L487.73 396.62L488.78 396.63L489.84 396.64L490.90 396.64L491.96 396.65L493.02 396.66L494.08 396.66L495.14 396.67L496.20 396.67L497.26 396.68L498.32 396.68L499.38 396.68L500.44 396.69L501.50 396.69L502.55 396.69L503.61 396.70L504.67 396.70L505.73 396.70L506.79 396.71L507.85 396.71L508.91 396.71" stroke="#2a7a9a" stroke-width="0.8" fill="none" />
<line x1="394.51" y1="332.85" x2="394.51" y2="346.00" stroke="#c8283e" stroke-width="0.7"/>
<line x1="393.31" y1="332.85" x2="395.71" y2="332.85" stroke="#c8283e" stroke-width="0.7"/>
<line x1="393.31" y1="346.00" x2="395.71" y2="346.00" stroke="#c8283e" stroke-width="0.7"/>
<line x1="381.80" y1="303.72" x2="381.80" y2="309.36" stroke="#c8283e" stroke-width="0.7"/>
<circle cx="381.80" cy="307.48" r="1.4" fill="#b01c34"/>
<circle cx="381.80" cy="310.30" r="1.2" fill="#1d3f7c"/>
<circle cx="394.51" cy="339.43" r="1.3" fill="#b01c34"/>
<circle cx="394.51" cy="358.22" r="1.3" fill="#1d3f7c"/>
<rect x="423.07" y="385.18" width="2.20" height="4.42" fill="#b01c34" rx="0.6"/>
<circle cx="424.17" cy="384.15" r="1.25" fill="#1d4a5c"/>
<circle cx="508.91" cy="397.21" r="1.3" fill="#b01c34"/>
<circle cx="508.91" cy="399.75" r="1.2" fill="#1d3f7c"/>
<line x1="432.70" y1="313.50" x2="438.40" y2="313.50" stroke="#c8283e" stroke-width="0.8"/>
<circle cx="435.50" cy="313.50" r="1.2" fill="#b01c34"/>
<text x="442.40" y="315.90" font-size="7.2" fill="#333" text-anchor="start" textLength="53.6" lengthAdjust="spacingAndGlyphs">Asialo-CHO rVWF</text>
<line x1="432.70" y1="320.60" x2="438.40" y2="320.60" stroke="#2a7a9a" stroke-width="0.8"/>
<circle cx="435.50" cy="320.60" r="1.2" fill="#1d3f7c"/>
<text x="442.40" y="323.00" font-size="7.2" fill="#333" text-anchor="start" textLength="41.6" lengthAdjust="spacingAndGlyphs">Asialo-pdVWF</text>
<rect x="0.5" y="0.5" width="519" height="433" fill="none" stroke="#4a4a4a" stroke-width="1.2"/>
</svg>
</body></html>
